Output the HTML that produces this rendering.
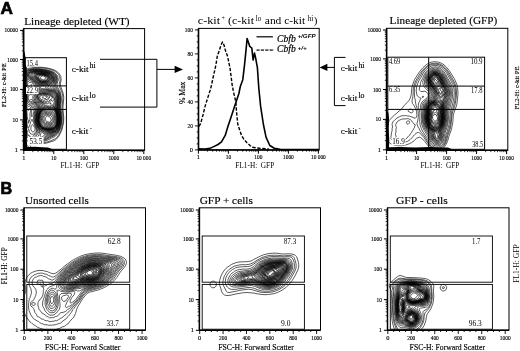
<!DOCTYPE html><html><head><meta charset="utf-8"><style>html,body{margin:0;padding:0;background:#fff;}svg{display:block}</style></head><body>
<svg width="520" height="351" viewBox="0 0 520 351">
<rect width="520" height="351" fill="#fff"/>
<clipPath id="cA1"><rect x="24.5" y="29" width="120" height="121"/></clipPath>
<g clip-path="url(#cA1)" fill="none" stroke="#000" stroke-width="0.65" stroke-linejoin="round">
<path d="M46.7,116.2 47.6,116 48.8,116.7 49.8,116.8 50.1,117.1 50.4,118.3 51,119.2 51.2,119.8 50.9,121 50.3,121.9 49.1,122.3 47.9,121.7 46.9,121.6 46.5,121.3 46.1,120.4 45.2,119.8 45.2,118.9 45.7,117.4 46.1,116.6 46.7,116.2ZM45.3,115.3 45.8,115.1 48.2,115.1 49.4,115.6 50.8,115.6 51.2,115.9 52.4,117.7 52,121.6 51.5,122.5 50.9,122.8 48.5,123.1 47.3,122.6 46.1,122.5 45.2,121.6 44.3,121 44,120.1 44,117.6 44.5,116.2 45.3,115.3ZM45.2,114.4 46.1,114.1 47.3,114.3 49.1,114.2 51.2,114.6 51.8,114.9 53,116.2 53.3,117.1 53.3,120.7 52.7,122.4 51.8,123.4 50.9,123.8 47.9,123.9 45.5,123.3 43.7,121.7 42.7,119.5 42.7,118.3 43.9,115.6 45.2,114.4ZM49.2,113.2 50,113.2 52.1,113.8 53.6,115.4 54,116.2 54.4,118.3 54.4,119.8 53.6,122.5 52.4,123.9 50.6,124.7 47.3,124.9 44.9,124 43.1,122.3 41.9,120.1 41.9,118.3 42.7,115.6 43.9,114.1 46.1,113.3 47.9,113.4 49.2,113.2ZM49.1,112.3 50.6,112.2 52.7,112.9 54.2,114.8 55.2,118 54.9,121.6 54.2,123.4 53.4,124.3 52.7,124.8 49.7,125.7 46.7,125.8 44.6,124.9 42.5,122.8 41.3,120.4 41.2,117.1 42.2,114.8 43.7,113.1 44.6,112.7 47.3,112.3 49.1,112.3ZM48.1,111.1 51.2,111.1 53.4,112 54.8,114.1 55.8,117.7 55.7,121.6 55.2,123.1 54.4,124.3 53.6,125.2 52.7,125.8 48.8,126.8 46.1,126.5 43.7,125.4 42.2,123.9 40.9,121.6 40.4,118.6 40.5,117.1 41,115.6 41.8,114.1 42.8,112.9 43.7,112.2 44.6,111.7 46.4,111.6 48.1,111.1ZM44,78.1 44.3,78.1 44,78.1ZM48.4,109.9 52.1,110.1 54.2,111.1 55.4,113.2 56.2,116.2 56.5,120.1 56.3,121.9 55.8,123.4 54.8,124.9 53.9,125.9 52.1,127 48.2,127.7 45.8,127.3 43.7,126.5 41.8,124.9 40.3,122.2 39.7,118.9 40.5,115 41.1,113.8 42.3,112.3 43.4,111.4 45.2,110.5 48.4,109.9ZM42.2,76 43.4,76 45.5,76.9 46,78.1 45.8,79 44.6,79.6 43.4,79.9 40.9,79 40.6,78.4 40.5,77.2 41,76.6 42.2,76ZM46.1,109.3 46.7,109.1 49.4,109.1 50.7,109.3 52.7,109.3 54.5,110.4 55.8,112.9 56.6,115.9 56.9,118.9 56.8,121 56.4,123.1 55.7,124.6 54.5,126.2 53.4,127 51.5,127.7 47.9,128.2 45.5,127.8 43.4,127 41.3,125.2 39.9,122.5 39.3,120.1 39.3,119.2 39.7,115.9 40.2,114.4 41.3,112.6 42.8,110.9 46.1,109.3ZM41,75.4 43.4,75.3 45.8,76.3 47.4,78.1 47.4,78.7 47.1,79.3 46.5,79.9 45.8,80.3 43.1,80.6 42.5,80.6 40.4,79.8 38.9,78 38.7,77.2 38.9,76.6 39.5,76 41,75.4ZM43.6,95.8 44.3,95.6 45.2,96.2 46.5,96.4 46.7,96.7 46.7,97.3 46.1,98.2 44.9,98.8 44.6,98.7 44,97.9 42.5,98.1 42.3,97.6 42.5,97 43.6,95.8ZM46.6,108.4 47.3,108.3 48.5,108.5 50,108.5 51.2,108.6 52.7,108.5 53.3,108.8 54.5,109.7 55.1,110.5 56,112.3 56.9,115.6 57.2,119.5 56.9,122.5 56.5,124 55.4,125.8 54.2,127.2 50.9,128.4 47.6,128.6 45.2,128.2 42.8,127.2 40.8,125.2 39.7,123.1 39,120.4 38.9,119.2 39.4,115.6 39.8,114.4 40.4,113.2 41.9,111.1 43.1,109.9 46.6,108.4ZM40.2,75.1 41.3,74.9 43.4,75 46.1,76 47.9,77.5 48,78.1 47.8,79 46.9,80.2 45.5,80.9 42.5,81.2 40.4,80.4 38.5,78.4 38,76.6 38.4,76 40.2,75.1ZM44.1,94.9 44.9,94.9 45.8,95.4 47.3,95.8 48.3,97.6 47.9,98.6 47,99.5 45.8,99.6 44,100.3 43.7,100.3 42.8,99.6 41.9,99.7 41.3,99.6 40.7,98.5 39.8,97.9 39.7,97.3 39.9,96.7 40.4,96.1 41.3,95.6 42.5,95.4 44.1,94.9ZM46.9,107.8 47.6,107.7 48.8,108.1 50.6,107.9 52.7,108 53.3,108.2 54.9,109.6 56,111.6 57.1,115.6 57.4,119.2 57.1,122.8 56.6,124.3 55.1,126.7 54.2,127.6 50.6,128.7 47.3,128.8 44.9,128.4 42.5,127.3 40.7,125.5 39.6,123.4 38.7,120.4 38.7,118.9 39.2,115.6 39.7,114.1 40.3,112.9 41.9,110.7 43.1,109.4 44.3,108.7 46.9,107.8ZM40.9,74.5 44,74.8 46.3,75.7 48.1,76.9 48.5,77.5 48.6,78.1 48.5,79 48.1,79.6 46.7,80.8 45.2,81.4 42.2,81.6 39.8,80.6 38.1,78.7 36.9,76.6 36.8,76 37.1,75.5 37.7,75.1 39.2,75 40.9,74.5ZM41.6,94.6 42.5,94.4 44.9,94.3 46.4,94.8 47.6,95 48.5,95.7 49.8,96.1 49.9,97 47.9,100 46.7,101.1 45.8,101.5 44.9,101.2 43.1,101.5 42.2,100.8 40.8,100.3 40.1,99.4 39.2,98.7 39,98.2 38.9,97 39.1,96.1 39.5,95.7 41.6,94.6ZM47.2,107.2 47.9,107.2 49.1,107.6 51.2,107.2 53,107.5 53.6,107.8 55.1,109.4 56.3,111.7 57.2,115 57.6,117.7 57.6,119.2 57.3,123.1 56.7,124.6 55.7,126.3 54.8,127.5 53.9,128.2 50.3,129.1 47.6,129.2 44.9,128.7 42.4,127.6 40.8,126.1 40.4,125.5 39.4,123.7 38.5,120.7 38.5,119.2 39,115.6 39.4,114.1 40.2,112.6 42.2,109.8 43.7,108.4 45.2,107.5 47.2,107.2ZM40.9,74.2 41.6,74.2 44.3,74.6 46.4,75.4 48.3,76.6 48.8,77.2 49.2,78.4 49.2,79 48.9,79.6 47.6,80.8 44.9,81.8 41.9,82 39.8,81 38,79.1 37.2,77.8 36.5,77 36.2,76.3 36.3,75.7 36.7,75.1 37.7,74.6 40.9,74.2ZM41.8,94 42.8,93.8 45.2,93.9 46.7,94.3 47.9,94.4 49.1,95.1 50,95.2 50.4,95.5 51,96.4 52.2,97 52.4,97.6 52.2,98.5 49.8,100 48.5,101.9 48.2,102 47.3,101.8 44.9,103 44,102.3 42.8,102.2 41.6,101.2 40.4,100.7 39.8,99.9 38.9,99.3 38.6,98.8 38,96.7 38.1,95.8 38.6,95.1 41.8,94ZM51.2,106.3 51.8,106.2 52.4,106.7 53.7,107.2 55.4,109.3 56.5,111.7 57.4,115 57.8,118 57.4,123.4 56.8,124.9 55.5,127 54.8,127.8 53.9,128.5 50,129.4 47.3,129.4 44.6,128.9 42.5,127.9 40.8,126.4 39.2,123.7 38.4,121 38.3,120.1 38.5,117.1 39,114.7 39.8,112.9 41.9,109.7 45.2,106.7 45.8,106.4 46.7,106.7 48.2,106.6 49.4,107 50,106.9 51.2,106.3ZM38.2,74.2 41.9,74 44.3,74.4 46.7,75.3 48.8,76.6 49.8,78.4 49.7,79.3 48.5,80.7 47,81.5 44.6,82.2 42.2,82.3 41.3,82.1 39.5,81.1 37.8,79.3 36,76.9 35.6,75.1 36,74.8 38.2,74.2ZM42.4,93.4 45.5,93.5 46.7,93.9 48.2,93.9 49.4,94.6 50.6,95 51.3,95.8 52.5,96.4 53.1,97.6 53.9,98.4 54,99.4 53.6,100.3 53,100.9 52.1,101.3 51.8,101.1 51.5,100.3 50.9,100.3 50.3,100.9 49.2,102.7 47,104.1 46.4,103.5 44.9,103.9 44.3,103.8 43.7,103 42.3,102.4 41.6,101.7 40.4,101.2 39.5,100.3 38.6,99.7 38.2,99.1 37.5,97 37.7,95.7 38.6,94.6 39.2,94.3 40.7,94 42.4,93.4ZM50.3,103 50.9,102.7 50.9,103.3 50.6,104 50,104.4 49.9,103.9 50.3,103ZM51.9,104.8 52.4,104.7 52.8,106 54,106.9 55.4,109 56.7,111.7 57.5,114.7 58,118 57.7,122.2 57.5,123.5 56.8,125.2 55.4,127.4 54.5,128.4 53.6,128.9 49.7,129.7 47,129.6 44.6,129.1 42.2,128 40.7,126.6 39.2,124 38.3,121.3 38.1,120.1 38.3,117.4 38.9,114.7 39.6,112.9 41.9,109.3 46.1,105 46.4,104.9 46.8,105.7 47.2,106 49.1,105.8 49.7,106.1 50.3,106 51.9,104.8ZM38.4,73.9 41.9,73.7 44.3,74.2 46.7,75 48.5,76 49.1,76.6 50.2,78.1 50.2,78.7 50.1,79.3 48.8,80.8 47.3,81.7 44.3,82.5 41.9,82.5 41.3,82.4 39.5,81.4 37.7,79.6 36.9,78.4 36,77.5 34.7,75.4 34.9,74.8 35.6,74.3 38.4,73.9ZM42.3,93.1 43.1,93 44.3,93.2 45.8,93.2 47,93.5 48.8,93.7 49.7,94.2 50.8,94.6 51.7,95.5 52.7,96 54.4,98.2 54.3,101.8 53.5,104.2 53.4,105.4 54.2,106.4 54.8,107.8 55.6,109 56.7,111.4 57.6,114.7 58.1,118.6 57.8,122.5 57.2,124.6 55.2,127.9 54.5,128.6 53.3,129.2 49.7,129.9 47,129.8 44,129.1 42.2,128.2 40.3,126.4 39.1,124.3 38.2,121.6 38,120.1 38.1,118 39,113.8 41.6,109.3 44.1,106.6 44.7,105.4 44.7,105.1 44,104.6 43.2,103.3 42.2,102.8 41.3,101.9 40.1,101.4 39.2,100.5 38.3,100 37.2,97.6 37.1,96.7 37.6,95.2 38.5,94.3 39.5,93.8 42.3,93.1ZM35.9,73.6 41.9,73.4 44.6,74 47,74.8 49.1,75.9 50.5,77.5 50.8,78.4 50.6,79.3 50,80.2 49.1,81.1 47.3,82.3 44,83 41.3,82.9 38.9,81.4 37.4,79.9 35,76.9 34,76 33.9,75.1 34.2,74.5 35,73.9 35.9,73.6ZM42.4,92.5 43.4,92.4 44.9,92.7 46.4,92.6 49.1,93.1 50,93.6 51.2,94.1 52.1,94.9 53,95.3 54.9,97.6 55.4,100.3 54.6,104.2 54.9,106.6 55.1,107.5 56.9,111.1 57.8,114.4 58.3,117.7 58.1,121.6 57.6,124.3 55.8,127.6 54.7,128.8 53,129.6 49.4,130.2 46.7,130.1 44,129.5 41.9,128.3 40.2,126.7 38.9,124.4 38,121.6 37.8,118.3 38.7,113.8 41.3,108.8 42.9,106.6 43.2,105.4 43.1,104.5 42.7,103.9 41,102.4 39.8,101.9 37.6,100.3 36.5,98.2 36.6,96.4 37.1,94.9 38,94 40.1,93 42.4,92.5ZM39.1,73 41.9,73.1 44.6,73.6 47,74.4 49.1,75.4 51,77.5 51.3,78.7 51,79.9 50.2,80.8 48.8,82 47,83 43.4,83.6 41.3,83.3 40.7,83 38.9,81.9 37.4,80.5 34.7,77.5 33.5,76.6 32.4,75.1 32.4,74.8 32.9,74.2 35.1,73.3 36.2,73.1 37.7,73.2 39.1,73ZM41.1,91.9 43.7,91.7 45.2,92 46.7,91.9 49.4,92.5 50.3,93.1 51.5,93.5 52.4,94.2 53.6,94.8 55.1,96.5 55.4,97.1 56,99.7 55.4,106.6 57.1,110.8 57.9,114.1 58.6,117.7 58.4,121.6 57.7,124.6 56,128 54.9,129.1 53,130 49.1,130.6 46.1,130.5 43.7,129.8 41.9,128.7 40.1,127 38.7,124.6 37.8,121.9 37.4,118.6 38.4,113.8 41,108.2 42.1,106.3 42.4,105.1 42.2,104.5 40.7,103 37.4,101.1 36,99.4 35.8,98.5 36,95.8 36.3,94.6 37.1,93.7 41.1,91.9ZM35.9,72.7 39.5,72.6 42.2,72.8 44.9,73.4 47.5,74.2 49.7,75.4 51.2,76.9 51.9,79 51.6,80.2 51.2,80.8 50,81.8 48.3,82.9 47,83.5 43.4,84.2 40.7,83.5 38.6,82.2 34.4,78 31.3,75.7 31.1,75.1 31.3,74.5 32.3,73.7 33.5,73.1 35.9,72.7ZM40.7,91.3 41.6,91 44.3,91.1 45.8,91.3 47,91.2 49.7,92 50.6,92.5 51.8,92.9 54.2,94.3 55.7,96.1 56.5,98.5 56.5,99.4 55.9,106.3 56.6,109 57.4,111.1 58.7,116.8 58.6,121.9 57.9,124.9 56.1,128.5 55.1,129.5 52.4,130.6 49.1,131 46.1,131 43.7,130.3 41.6,128.9 39.8,127.1 38.5,124.9 37.6,122.2 37.1,118.6 38.1,113.8 38.5,112.6 41.4,106.3 41.5,105.4 40.4,103.6 38.1,102.1 37.1,101.7 35.4,100 35.1,99.1 35,96.4 35.6,94.6 36.5,93.4 37.4,92.8 39.2,92.1 40.7,91.3ZM34.7,72.4 40.1,72.2 44.9,73 47.6,73.8 49.7,74.9 51.6,76.6 52.4,78.7 52.3,80.2 51.5,81.3 50,82.6 48.8,83.3 47,84 43.1,84.7 40.7,84 38.3,82.5 34,78.4 30.8,76.4 30.1,75.1 30,74.2 30.5,73.7 33.5,72.6 34.7,72.4ZM41.1,90.4 42.2,90.2 43.4,90.4 44.9,90.3 47.3,90.6 50,91.5 51.2,92.1 52.4,92.4 54.7,93.7 56,95.4 56.9,97.9 57,99.1 56.5,106.3 56.9,108.7 57.6,110.8 59,116.8 59,119.8 58.8,122.2 58.1,125.2 56.3,128.9 55.1,130 52.1,131.1 48.8,131.5 45.8,131.6 43.4,130.7 41.3,129.2 39.6,127.3 38.3,125.2 37.3,122.2 36.8,119.5 36.9,118 37.9,113.2 39.5,109.6 40.1,107.8 40.4,106.6 40.3,105.7 39.8,104.2 37.8,102.7 36.7,102.1 35,100.6 34,98.5 33.8,97.6 34.6,95.2 36,93.1 37.7,92 41.1,90.4ZM33.5,72.1 37.1,71.8 40.1,71.9 45.2,72.7 47.9,73.6 50,74.6 52,76.3 53,78.7 52.9,79.6 52.7,80.5 52.1,81.4 50.6,82.8 49.4,83.8 48.5,84.2 45.2,85.2 43.1,85.4 42.2,85.2 40.4,84.5 38,82.9 33.8,79 30.5,77 29.2,75.4 29,74.8 29.1,74.2 29.7,73.3 30.5,72.9 33.5,72.1ZM41.6,89.5 42.5,89.3 44,89.6 45.5,89.5 47.9,90.1 49.1,90.7 53,91.9 55.1,93.1 56.4,94.9 57.4,97.6 57.5,99.1 57,104.8 57.1,107.2 57.2,108.4 58.5,112.9 59.2,116.8 59.3,119.8 58.8,123.4 58.1,126.1 56.3,129.5 54.8,130.7 51.5,131.8 45.5,132.4 44.9,132.3 43.1,131.3 41,129.5 39.4,127.6 38.1,125.5 37,122.5 36.5,119.8 36.5,118.6 37.5,113.2 39.3,108.7 39.4,105.4 39.2,104.8 37.5,103.3 36.2,102.5 34.4,101 32.9,99.1 32.8,98.2 32.9,96.1 33.5,94.9 35.8,92.5 39.5,90.1 41.6,89.5ZM33.4,71.8 37.4,71.5 40.4,71.6 45.5,72.5 48.2,73.4 50.3,74.4 52.2,76 53.4,78.4 53.3,79.6 53,80.8 51.8,82.3 50,83.9 48.8,84.7 46.7,85.2 44.6,86.1 42.5,86 41.9,85.8 40.1,84.8 38,83.4 33.4,79.3 30.2,77.4 28.7,75.7 28.5,75.1 28.6,74.2 29.3,73 30.6,72.4 33.4,71.8ZM42.3,88.6 43.4,88.4 44.3,88.7 45.8,88.8 49.4,90.3 53,91.3 54.8,92.3 55.4,92.7 56.6,94.3 57.8,97.9 57.8,100.6 57.4,104.2 57.4,107.8 58.7,112.9 59.4,116.5 59.5,118.6 59.4,120.7 58.7,125.2 56.9,129.1 55.4,130.7 54.2,131.3 51.5,132.2 49.4,132.4 47.3,133 44.6,133 42.5,131.5 39.2,127.9 37.9,125.8 36.9,123.1 36.2,120.1 36.2,118.6 37.3,113.2 38.8,109 38.9,106.3 38.7,105.4 37.1,103.6 34.1,101.5 33.2,100.5 31.9,100 31.4,99.4 31.1,99.4 29.6,100.4 29,100.3 28.1,97.9 28.4,96.7 29.3,95.1 30,94.3 30.5,94.2 31.1,94.8 31.7,94.7 35.3,92.2 37.7,90.8 39.8,89.2 40.4,88.9 42.3,88.6ZM33.2,71.5 34.7,71.3 40.1,71.3 45.5,72.2 48.1,73 50.3,74 52.3,75.4 53.4,77.2 53.7,78.1 53.7,79.9 53.2,81.4 52.4,82.4 50,84.5 48.5,85.5 46.3,86.2 45.6,86.8 45.4,87.4 47.6,88.9 49.7,89.8 53.3,90.9 55.4,92.1 56.9,94 58,97 58.2,100 57.8,103.6 57.7,107.5 59.5,115.9 59.8,118.6 59.7,120.4 58.9,125.2 57.2,129.1 56.3,130.3 55.4,131.1 53.6,132 50.9,132.8 49,133 46.7,133.9 44,134 42.2,132.5 41.5,131.2 40.7,130.4 38.9,128 37.7,126 36.7,123.4 36,120.4 36,118.6 36.9,113.5 38.2,109.3 38.4,107.2 38.2,106 36.8,104.1 32.9,101.3 32.3,101.2 30.5,101.7 28.7,101.5 28.2,100.9 27.4,98.8 27.5,97 28.4,93.7 28.7,93.1 29.3,92.8 31.1,92.9 32.3,93.2 33.2,93 35.3,91.5 37.7,90.2 41.2,87.1 41.1,86.5 40.8,85.9 37.7,83.7 33.2,79.8 29.9,77.8 28.3,76 28.1,75.1 28.1,74.2 28.2,73.6 28.7,72.9 30.5,72 33.2,71.5ZM32.6,71.2 34.7,71 38,70.9 40.4,71 43.4,71.5 45.8,72 48.2,72.7 50.6,73.7 52.6,75.1 54.1,77.5 54.2,79.6 53.9,81.1 53.3,82.3 52.4,83.3 50.3,85.1 48,86.8 47.7,87.7 47.9,88 50,89.1 53.6,90.4 55.7,91.7 57.3,93.7 58.4,97.3 58.6,99.7 58.1,103.3 58.1,107.5 59.7,115.9 60,118.9 59.4,124.3 58.5,127 56.9,130.2 56,131.1 54.8,131.9 53,132.8 48.5,133.9 46.4,134.9 44.6,135.1 41.9,137 41.4,136.9 40.1,136 40.1,135.4 41,133 41,132.1 37.4,126.1 36.5,123.7 35.7,120.4 35.8,117.4 37.7,109 37.9,107.5 37.7,106.6 36.5,104.6 34.4,103 32.3,102.3 29.6,103.3 28.1,102.5 27.8,102.1 26.9,99.1 26.9,96.9 27.2,94.6 27.8,92.9 28.4,91.9 29.3,91.4 30.8,92 32.6,92.2 33.5,92 37.7,89.3 39,88 39.7,87.1 39.6,86.5 38.3,84.7 32.9,80.2 29.6,78.3 27.9,76.3 27.5,74.2 27.7,73.3 28.1,72.7 29.3,72 31.4,71.4 32.6,71.2ZM37.4,70.6 40.7,70.8 43.4,71.2 46.1,71.7 48.5,72.5 50.9,73.4 52.7,74.5 54.3,76.6 54.8,79.3 54.5,81.1 53.5,82.9 50.5,86.5 50.2,87.1 50.2,87.7 50.6,88.3 53.9,89.9 56,91.3 57.5,93.1 58.4,95.6 59,99.4 58.6,103 58.4,107.2 60.3,118.3 59.8,123.4 59.5,125.2 57.9,129.1 56.6,131.1 53.3,133.3 48.4,134.8 43.4,137.5 41,138.2 38.6,137.9 38.3,137.8 37.9,137.2 38,136.3 39.1,134.5 39.5,133.3 39.5,130.9 39.2,130 37.3,126.7 36.3,124.3 35.3,120.4 35.3,117.4 37.2,109 37.1,107.2 36,105.1 33.8,103.6 31.7,103.6 29,104.9 28.4,104.7 27.2,103 26.4,98.8 26.3,96.4 26.5,94.9 27.3,92.5 28.1,91 28.7,90.6 29.6,90.4 31.4,91.2 32.9,91.2 33.8,91 35.8,89.8 37.3,88.6 38.1,87.4 38.3,86.5 37.9,85.3 34.4,82 32.6,80.7 29,78.8 27.5,76.6 27,74.5 27.2,73.3 28.1,72 29.3,71.4 32,70.8 37.4,70.6ZM34.2,70.3 38.6,70.2 43.7,70.8 46.1,71.3 51,73 53.5,74.5 54.8,76.3 55.4,78.4 55.5,79.6 54.7,82 52.1,85.9 51.8,87.1 53.1,88.6 56.3,90.7 57.8,92.5 58.9,95.5 59.5,98.8 59,103 58.9,106.9 60.6,118.9 59.9,124.6 58.3,129.4 57.5,130.7 56.6,131.7 53.3,134 50,135 46.4,136.8 43.7,138.6 40.7,139.1 37.7,138.7 36.2,137.5 36,136.9 36.2,136 38.2,133.3 38.7,131.5 38.6,130.6 37.8,128.5 35.9,124.3 34.9,120.1 34.8,117.7 36.5,109.3 36.3,107.8 35.5,106 33.5,104.7 32.6,104.7 31.5,105.1 28.7,106.5 28.1,106.6 27.8,106.4 26.6,103.9 26,100 25.8,97 26,94.9 26.9,91.4 27.5,90 28.1,89.1 28.7,88.8 30.5,89.5 31.7,90.2 32.9,90.2 34.4,89.7 35.6,89.1 36.5,88.3 37.2,87.1 37.3,86.2 37,85.6 35.9,84.1 34.2,82.6 32,81.2 30.5,80.9 28.7,79.9 27.2,77.6 26.4,75.1 26.4,74.2 26.7,73 27.5,71.8 28.3,71.2 29.6,70.7 32.3,70.3 34.2,70.3ZM31.2,70 38.3,69.8 44,70.5 46.7,71.1 51.2,72.5 53.7,73.9 55.2,75.7 56,77.8 56.2,79 55.6,81.4 53.7,85.9 53.7,87.4 54,88 56.9,90.3 58.4,92.2 59.3,94.8 59.9,97.9 59.9,99.7 59.3,106.3 59.6,109.3 60.9,117.4 61,118.9 60.4,124 59,128.8 58.1,130.6 57.2,131.9 54.5,134.1 52.7,135.1 50,135.9 44.5,139 42.8,139.6 39.8,139.8 37.4,139.4 35.3,138.2 34.8,137.2 34.8,136.3 35,135.7 37.1,133.2 37.6,131.5 37.3,129.1 35.4,124.6 34.6,121.9 34.2,119.2 34.2,117.7 35.7,109.9 35.6,109 35,107.2 34.4,106.6 33.2,106.1 32.6,106 32,106.1 30.6,107.2 29,109.9 28.4,110.4 28.1,110.2 27.8,108.7 27.1,107.5 26,104.2 25.3,97.9 25.3,96.1 25.9,92.2 27.8,87.4 28.4,86.7 29.3,86.5 29.8,86.8 30.5,87.9 32.6,89 33.5,88.8 35.2,88 35.8,87.4 36,86.8 36,85.9 35.6,85 33.8,83.2 31.4,82.2 29.9,82.5 29.3,82.4 28,80.8 26.7,78.1 26,76 25.8,74.8 26,73.6 26.4,72.4 27,71.5 27.8,70.8 28.7,70.4 31.2,70ZM29.1,69.7 32.6,69.5 38.9,69.5 44.3,70.2 49.1,71.4 51.8,72.3 53.9,73.4 55.5,75.1 56.6,77.8 56.7,79 56.6,80.5 54.9,85.3 54.7,86.5 55.1,87.4 56.3,88.9 57.2,89.6 58.8,91.9 59.7,94.3 60.3,97.6 60.3,100.6 59.8,105.1 59.8,108.1 61.3,118.3 61.1,121.9 60.4,125.5 59.6,128.2 58.6,130.6 57.2,132.6 55.4,134.3 53.9,135.3 49.7,136.9 45.5,139.3 42.8,140.2 39.5,140.4 36.9,139.9 34.5,138.7 33,137.2 32.9,136.9 33.1,136.3 33.6,135.4 36.4,132.4 36.9,130.6 36.7,129.1 34.3,122.8 33.5,119.5 33.5,118.3 33.9,115.3 34.9,110.8 34.7,109.1 34.2,107.8 33.2,107.4 32,107.4 31.4,107.8 30.8,108.7 30.5,111.4 29.9,114.1 30.1,116.5 29.9,119.3 28.7,122.6 28.4,123.1 28.1,123.2 28,123.1 28.6,120.7 27.8,119.4 27.2,116.2 26.8,109.6 25.6,104.8 24.8,97.6 25.3,92.8 26.3,89.5 26.9,86.5 27.9,83.5 27.7,82.6 25.5,76 25.4,73.9 25.9,72.4 26.6,71.2 27.6,70.3 29.1,69.7ZM32.3,83.8 31.7,84 31.3,84.4 31.1,85.3 31.2,86.2 31.6,86.8 32.9,87.5 33.8,87.5 34.7,86.8 34.9,86.2 34.9,85.6 33.5,84.1 32.9,83.8 32.3,83.8ZM28.7,134.8 29,134.7 29.2,135.1 29.2,135.7 29,135.8 28.7,135.7 28.5,135.4 28.7,134.8ZM29.5,136.3 29.6,136.1 30.2,136.1 30.4,136.6 29.9,136.9 29.5,136.3ZM29.5,69.1 39.2,69.2 44.6,69.9 49.4,71.1 52.1,72 54.2,73.1 55.9,74.8 57.1,77.5 57.3,79.3 57.2,80.5 56,84.1 55.7,85.9 56.6,88 57.7,89.2 59.3,91.7 60.1,94 60.7,97.9 60.7,100.9 60.2,104.8 60.2,108.1 61.6,118.6 61.4,121.6 60.6,126.1 59.8,128.8 58.6,131.2 57.2,133.2 55.1,135.3 53.9,136 51.5,136.9 45.7,139.9 42.8,140.7 38.9,140.9 36.5,140.3 32.9,138.8 30.5,138.8 28.9,139 28.4,138.7 27.3,136.6 27.4,132.4 27.8,130.6 28.4,129.4 28.7,129.3 29,129.8 29.3,131.8 30.8,133.9 32.3,134.4 33.5,134.1 35.2,132.7 36,131.5 36.3,130.3 35.5,127.3 32,119.2 30.8,121.5 29.6,125.5 28.4,128.3 28.1,128.4 27.8,128.1 27.5,126.1 26.9,124.3 26.8,118.9 26.4,116.5 26.1,110.5 25.8,107.5 24.9,102.7 24.5,97.9 24.8,93.4 25.7,89.8 26.8,84.4 26.9,83.2 26.5,80.8 25.1,76.3 25,74.2 25.4,72.4 26.6,70.4 27.8,69.6 29.5,69.1ZM32.9,108.7 32.1,109.3 31.6,110.8 31.7,113.2 31.3,115.9 31.5,116.5 32,116.7 32.3,116.5 32.9,115.2 33.8,111.7 33.7,109.3 33.5,108.9 32.9,108.7ZM27.7,68.5 28.7,68.3 30.2,68.2 34.4,68.6 39.2,68.7 44.6,69.3 50,70.6 52.4,71.4 54.8,72.7 56.4,74.2 57.5,76 57.9,77.2 58.3,79.9 57.1,83.8 57.2,85.9 57.5,87.1 59.6,90.5 60.6,92.8 61.3,96.7 61.4,100.3 61,103.6 60.8,107.5 62,116.8 62.1,119.5 61.3,125.5 60.4,128.8 59.1,131.5 57.8,133.6 55.7,136 53.9,137.2 51.8,138 49.1,139.4 44.9,141.1 41.6,141.6 38.9,141.6 34.7,140.7 32.3,140.4 31.4,140.6 29.3,141.6 28.4,141.6 27.7,141.4 27.2,140.9 26.3,138.2 26,135.1 26.2,127.9 25.7,122.5 25.8,119.5 25.1,108.4 24.3,103.3 23.9,98.5 24,94.3 25.2,88 25.9,82.3 25.7,81.1 24.5,76.6 24.2,74.2 24.5,72.7 25.4,70.9 26.6,69.3 27.7,68.5ZM32,124.7 31.4,125.3 31.1,126.1 30.8,129.1 31.1,130 31.9,131.5 32.3,131.9 32.9,131.9 34,131.5 34.7,130.9 35,130 35,128.8 34.7,127.7 33.5,125.5 32.6,124.8 32,124.7ZM27.7,66.1 29,65.9 30.7,66.7 33.2,67.5 43.1,68 45.5,68.3 50.6,69.5 53,70.3 55.4,71.5 57.2,72.8 58.6,74.5 59.7,76.9 60,79 60,80.8 59.2,84.1 59.2,85.3 59.9,87.6 61.8,91.9 62.7,95.2 62.9,98.8 62.2,105.7 62.2,108.7 63.2,118.9 62.7,124 61.2,130 58.6,135.1 57,137.2 55.7,138.5 54.5,139.2 51.2,140.6 46.7,142.1 44,142.7 40.4,143.1 34.1,142.5 32.9,142.6 31.4,143.4 29,145.9 28.1,146.3 27.2,145.9 25.8,143.2 25,140.2 24.5,136.9 24.7,130.3 24.1,113.8 22.6,97.3 23.1,92.2 23.9,88.1 24.3,83.2 24.1,80.2 23,75.4 23,73.3 23.8,71.2 25.4,68.3 26.6,66.9 27.7,66.1ZM27.4,151.9 26.6,150.4 25.8,147.4 24.4,141.1 23.8,137.5 23.8,134.8 24,130.6 23.5,114.1 23,107.2 21.9,97.3 22.3,92.8 23.3,87 23.6,83.5 23.5,80.8 22.3,75.7 22.3,73 22.9,71.2 25,67.3 27.5,63.2 27.9,62.8 28.4,62.6 28.7,62.8 30.8,65.5 32.9,66.7 35.3,67 43.4,67.4 48.8,68.3 53.6,69.7 55.7,70.7 57.8,72.2 59.4,73.9 60.8,76.6 61.2,79.6 60.4,83.8 60.5,85.9 63.2,93.4 63.8,97.6 62.9,108.4 63.8,118 63.5,123.1 61.9,130 59.8,134.5 58.8,136.3 56.6,139 54.8,140.3 53.3,141 46.7,143 43.1,143.6 40.7,143.8 35.3,143.4 33.5,143.5 32.6,143.8 31.7,144.5 30.8,145.9 28.7,151.9"/>
</g>
<clipPath id="cA3"><rect x="387.5" y="29" width="120" height="121"/></clipPath>
<g clip-path="url(#cA3)" fill="none" stroke="#000" stroke-width="0.65" stroke-linejoin="round">
<path d="M434.1,114.4 435,114.4 436.2,114.7 437.5,117.7 437.5,118.6 437.3,119.2 435.6,121.1 434.7,121.1 434.1,120.7 432.7,118.6 432.5,118 432.6,116.8 434.1,114.4ZM435.4,112.6 436.5,112.9 437.4,113.8 438.3,116.8 438,119.5 436.5,122.1 433.5,122.3 432.9,121.7 431.7,119.3 432,116.2 433.1,112.9 433.8,112.7 434.7,112.9 435.4,112.6ZM435.9,109.3 436.2,109 436.8,109.3 436.9,109.9 436.5,110.8 436.5,111.4 437.8,113.2 438.9,116.2 438.9,117.1 438.6,118.6 438.4,120.7 437.2,122.8 436.5,123.2 434.4,123.4 433.2,122.9 432.6,122.4 431.1,119.8 431,118.9 431.4,117.4 431.6,115 432.4,112.6 433.7,111.4 434.4,110.1 435.6,109.7 435.9,109.3ZM435,107.2 435.3,107.2 436.8,108.2 437.5,109 438,110.8 438.5,112 438.6,114.1 439.4,116.8 438.8,121.3 437.4,123.5 435,124.8 434.4,124.5 432.3,122.8 430.8,120.1 430.5,118.9 431,116.8 431.1,114.7 432.2,111.7 433.2,110.5 433.2,108.7 434.2,108.1 435,107.2ZM434.4,106.3 435,106.2 435.6,106.4 437.4,107.8 438,108.4 439.2,112 439.3,114.1 439.8,116.8 439.4,121 439.1,121.9 437.7,124 435.7,125.5 435,125.6 434.1,125.4 431.8,123.4 430.4,120.4 430.1,118.6 430.7,114.4 431.3,112.6 431.5,110.5 432.1,109.6 432.6,107.9 434.4,106.3ZM434,105.7 435,105.6 436.2,105.8 438.3,107.2 438.7,107.8 439.1,109.6 439.7,111.4 440.2,114.7 440.3,118.6 439.6,121.9 438.3,124.4 437.1,125.3 436.2,126.2 433.8,126.5 433.1,126.1 431.1,123.7 429.9,120.7 429.6,117.4 430.7,112.6 430.7,109.9 432.2,107.2 434,105.7ZM434.6,79 435.3,79.2 435.9,80 437.1,80.9 437.4,82 437.1,82.9 436.2,83.1 435.3,82.6 434.8,81.1 434.2,79.9 434.2,79.3 434.6,79ZM435.7,105.1 436.5,105.1 437.1,105.3 438.6,106.6 439.2,107.5 440.1,110.5 440.3,112.6 440.7,114.7 440.8,118.9 439.9,122.5 438.6,125.1 437.6,125.8 436.5,126.9 434.1,127.2 433.5,127.1 432.8,126.7 430.8,124.1 429.4,120.7 429.1,117.1 429.9,114.7 430.3,109.6 431.2,108.1 431.6,106.9 433.5,105.3 434.1,105.1 435.7,105.1ZM435.5,77.8 435.9,77.7 436.3,77.8 438.2,80.5 438.2,83.8 438,84.1 436.2,83.8 435.3,84.1 434.7,84 434.2,83.5 433.2,81.4 433.2,80.8 433.8,78.7 434.1,78.4 435.5,77.8ZM433.5,104.8 436.8,104.6 437.4,105 439.2,106.7 440.5,110.2 440.6,112.6 441.1,115 441,119.5 440.1,122.8 439,125.2 436.8,127.4 434.7,127.7 433.8,127.6 432.9,127.2 430.8,124.6 429.2,121 428.9,117.7 428.9,116.5 429.6,114.4 429.6,112 430.1,109 430.8,107.8 431.4,106.3 433.5,104.8ZM435.4,76.9 436.2,76.9 436.8,77.3 438.7,80.2 439.3,83.5 439,84.7 438.3,85.2 435.6,85.1 434.4,84.6 433.8,84 432.3,81.4 432.3,80.5 433.4,78.1 435.4,76.9ZM435.8,104.2 436.8,104.2 437.6,104.5 439.5,106.3 439.8,106.9 440.9,110.2 440.9,112.6 441.3,115 441.4,118.9 440.4,123.1 439.2,125.7 437.1,127.8 435,128.4 432.6,127.4 430.6,124.9 428.9,121 428.5,117.4 428.7,116.2 429.3,114.4 429.2,112 429.7,108.7 430.9,106.3 431.3,105.7 432.9,104.5 435.8,104.2ZM434.8,76.3 435.9,76.3 437.1,76.9 438.9,79.6 440.2,82.9 440.1,83.8 439.2,85.6 436.8,86.6 436.2,86.5 433.8,84.7 431.8,81.4 431.8,80.2 432.9,77.5 433.2,77.2 434.8,76.3ZM434.8,103.9 436.2,103.7 438,104 440.1,106 441.3,110.2 441.3,112.6 441.6,115.6 441.6,119.5 440.5,124 439.5,125.9 437.6,127.9 437.1,128.3 435.3,129 434.7,128.9 432.2,127.6 430.3,125.2 428.7,121.3 428.2,118.3 428.4,116.3 429,114.1 428.9,111.7 429.4,107.8 430.8,105.6 432.6,104.2 433.2,103.9 434.8,103.9ZM434.2,75.7 435,75.5 437.1,76.3 437.7,76.8 439.2,79.3 440.6,82.6 440.8,83.5 440.7,84.2 439.9,86.2 439.5,86.6 438.3,86.7 437.1,87.4 436,87.1 433.3,85 431.7,82.3 431.4,80.8 431.4,79.3 432.6,76.8 434.2,75.7ZM438.1,103 438.6,102.9 439.1,103.3 440.7,105.7 440.9,107.8 441.6,110.5 442,117.1 441.9,119.2 441,123.7 439.7,126.1 437.6,128.5 435.9,129.5 435.3,129.6 432.3,128.2 431.5,127.6 429.9,125.4 428.5,121.6 427.8,118.3 428.7,114.1 428.6,111.7 428.8,108.4 429.1,107.5 430.5,105.4 432.6,103.7 435.3,103.2 437.1,103.2 438.1,103ZM434.1,75.1 434.7,75 435.3,75.1 437.4,75.9 438,76.3 439.5,78.8 440.1,80.7 441,82.6 441.3,84.9 440.7,87.4 440.4,87.8 439.2,88.2 438.9,89.3 438.6,89.5 437.3,88.3 435.4,87.4 432.9,85.4 431.2,82.3 430.9,79.6 431,78.7 432.3,76.4 434.1,75.1ZM437.6,102.4 438.3,102.2 439.2,102.4 439.8,103 441.1,105.4 442.1,112.3 442.3,118 442,120.4 441.2,124 439.9,126.4 437.7,128.9 436.2,129.9 435.3,130 431.7,128.3 429.6,125.8 428.2,121.6 427.6,118.9 427.6,118 428.3,113.8 428.4,108.7 428.8,107.2 430.5,104.9 432.3,103.5 435,102.8 436.8,102.7 437.6,102.4ZM433.8,74.8 435,74.7 438,75.7 438.5,76.3 439.9,78.7 440.4,80.5 441.2,82.3 442,85.3 442,85.9 441.1,88.3 440.1,89.2 440,89.5 440.1,90.1 441.3,90.9 441.5,91.3 441.7,93.1 441.6,93.7 439.8,93 438.9,90.9 437.9,90.1 436.8,88.7 435,87.8 432.8,85.9 431,82.9 430.5,79.6 430.7,78.4 432,76.2 433.8,74.8ZM437.4,101.8 438.3,101.6 439.8,101.9 441.3,104.8 442.1,109 442.4,112.6 442.3,115 442.6,117.7 442.2,120.7 441.4,124 440.2,126.4 438,129.2 436.5,130.2 435.6,130.4 434.4,130.1 431.4,128.5 429.5,126.1 428.2,122.2 427.4,118.9 427.3,118 428.1,113.2 428.1,109 428.6,106.9 430.2,104.8 432.2,103.3 435,102.3 436.5,102.3 437.4,101.8ZM433.7,74.5 435,74.4 438,75.3 438.7,76 440.2,78.4 442.5,85.6 441.8,88.3 442.8,90.4 442.5,92.2 442.9,94 442.8,94.6 442.2,95.2 441.6,95.1 440.4,94.3 439,93.7 438.3,91.5 437.2,90.4 436.4,89.2 434.7,88.2 432.6,86.1 430.6,82.9 430.2,79.6 430.3,78.4 432,75.8 433.7,74.5ZM439.7,100.9 440.2,100.9 440.7,101.2 441.7,104.5 442.4,108.7 442.7,112.9 442.5,115 442.8,118.2 442.3,121.3 441.6,124.1 440.3,126.7 439.2,128 438.3,129.5 436.8,130.7 435.9,130.8 434.1,130.3 431.4,128.8 429.4,126.4 428.9,125.5 428,122.5 427.1,118.6 427.9,112.6 427.8,109 428.5,106.6 430.1,104.5 432,103.1 434.7,102 436.2,101.7 437.4,100.9 438.9,101.1 439.7,100.9ZM433.7,74.2 434.7,74 435.9,74.2 437.7,74.8 438.6,75.4 440.4,78.1 441.7,81.7 442.9,85.6 442.7,88.3 443.2,89.5 444,92.8 443.1,95.3 441,96.6 440.4,96.5 439.5,95.2 438.6,94.3 437.7,92.2 436.8,91.1 435.9,89.6 434.4,88.5 432.1,85.9 430.2,82.6 429.9,79.6 430.1,78.1 431.7,75.7 433.7,74.2ZM438.9,100 439.8,99.9 441,100.6 442.2,103.6 442.1,106 442.7,108.7 442.7,110.5 442.9,112.9 442.8,115.3 443.1,118 442.5,121.6 441.6,124.9 440.4,127.1 439.3,128.5 438.6,129.8 437.1,131.4 436.8,131.5 433.8,130.7 431.4,129.1 430.5,128.3 428.7,125.8 427.8,122.8 426.9,118.6 427.7,112.3 427.4,109.3 428.2,106.6 430,104.2 432,102.8 435.9,101.2 437.1,100.2 438.9,100ZM433.6,73.9 434.7,73.8 436.2,73.9 437.7,74.5 438.7,75.1 440.6,77.8 442.1,81.4 442.4,83.2 443.1,85 443.9,88.6 444,90.7 444.7,92.8 444.6,93.4 443.4,95.9 442.2,96.7 441.3,97.9 439.8,97.6 439.2,95.9 438,94.3 437.3,92.5 435.4,89.8 434.1,88.6 431.9,86.2 430,82.9 429.5,80.2 429.9,77.8 431.5,75.4 433.6,73.9ZM438.8,97.9 439.5,97.9 440.3,99.1 441.6,100 442.7,103.3 442.5,106 443,108.7 443.2,112.9 443,115.3 443.3,118 442.8,121.6 441.7,125.2 440.7,127.3 439.5,128.8 438.9,130.1 437.4,132.2 436.8,132.4 435.3,131.6 433.5,131 431.1,129.2 430.4,128.5 428.6,126.1 427.5,123.1 426.7,118.6 427.4,112 427.1,109.3 428,106.3 429.6,104.2 431.7,102.6 433.2,102.1 435.5,100.9 436.5,99.8 437.7,99.1 438.3,98.2 438.8,97.9ZM433.5,73.6 435.9,73.5 437.7,74.2 439.1,75.1 440.7,77.4 442.3,81.1 443.3,84.4 443.7,86.5 444.5,88.6 444.6,90.4 445.2,92.5 445,93.7 444.3,95.1 443.9,96.7 443,97.6 442.9,99.7 442.6,100.9 443.1,103.6 442.9,106 443.3,108.7 443.4,112.6 443.3,115.3 443.5,118.3 443,121.9 441.9,125.4 440.9,127.6 439.8,129.1 438,132.5 437.4,133.1 436.2,133.3 435.9,133.3 435,132.3 433.2,131.3 430.8,129.3 428.6,126.7 427.2,123.1 426.5,118.3 427.2,112 426.8,109 427.8,106 429.7,103.6 431.5,102.4 433.1,101.8 435.3,100.5 436.2,99.4 437.3,98.5 438.4,96.4 437.1,93.1 435.4,90.4 431.8,86.5 430.1,83.8 429.2,81.1 429.2,79.6 429.7,77.5 431.4,75.1 433.5,73.6ZM433.5,73.3 435.9,73.1 437.1,73.5 439.2,74.8 440.7,76.9 442.5,80.8 443.7,84.1 444.1,86.2 444.9,88.3 445.7,91.6 445.4,94.3 444.8,95.5 444.4,97.3 443.7,98.5 443.6,99.4 443.5,103.6 443.3,106.3 443.7,110.8 443.5,115.3 443.7,118.3 443.3,121.9 442.1,125.5 441.1,127.9 440.1,129.3 438.8,131.8 438.2,133.6 437.4,134.5 437.8,136 437.6,137.2 437.1,137.7 436.2,138.1 435.9,138.1 435.5,137.8 435.5,135.7 434.3,132.7 430.2,129.2 428.3,126.7 427,123.1 426.3,118.3 426.9,112 426.6,108.7 427.5,105.7 429.6,103.3 431.4,102.1 432.9,101.5 435,100.2 435.9,98.9 436.7,98.2 437,97.6 437,94.3 436.6,93.1 435,90.4 431.2,86.2 429.6,83.5 428.8,80.5 428.9,79.3 429.7,76.9 431.2,74.8 432.8,73.6 433.5,73.3ZM433.1,73 435.6,72.8 436.5,72.9 439.1,74.2 440,75.1 441.4,77.2 442.9,80.8 444.1,83.8 444.6,86.2 446.3,91.3 445.9,94.9 444.1,99.7 444.4,101.8 443.9,103.9 443.8,106.3 444.1,111.1 443.9,114.7 444,119.2 443.5,121.9 442.3,126.1 441.3,128.2 440.3,129.7 439.1,132.4 439,134.8 438.2,137.8 437.4,138.6 436.2,139.1 435.3,138.7 434.7,137.8 434.2,136 434.1,133.9 433.8,133 431.7,130.8 429.9,129.4 427.9,126.7 426.7,123.4 426,118.3 426,116.5 426.5,112 426.3,108.4 427.2,105.5 429.3,103 431.1,101.8 432.6,101.2 434.7,99.8 436.2,97 436.3,94.3 436.1,93.4 434.6,90.7 430.9,86.5 429.4,83.8 428.4,80.5 428.5,79.3 429.4,76.6 431.1,74.3 433.1,73ZM435.2,72.4 436.8,72.6 439.5,74 440.1,74.5 441.6,76.6 444.6,83.8 446,88.9 446.7,90.7 446.9,91.6 446.4,95.5 445.7,97 444.9,99.7 445,102.1 444.3,104.5 444.2,108.4 444.5,111.1 444.2,113.8 444.2,120.4 442.6,126.4 441.6,128.5 440.6,130 439.8,132.4 439.6,135.1 439,136.6 438.6,138.7 437.4,139.8 436.8,140 435.6,139.6 434.6,138.7 433.4,136 433.4,133.9 433.2,133.3 431.4,131.2 429.6,129.6 427.6,127 426.4,123.4 425.9,120.1 425.7,116.5 426.1,112.9 426,107.8 426.8,105.4 427.2,104.7 429,102.8 430.8,101.5 432.6,100.6 434.2,99.4 435.5,96.4 435.6,95.5 435.4,94 434.4,91.3 430.8,87.3 429.1,84.4 428.1,80.8 428.1,79.3 429,76.5 430.8,74 432.6,72.7 435.2,72.4ZM433.3,72.1 435.9,72 437.7,72.5 440.1,73.8 441.7,76 443.5,79.9 446,86.5 446.5,88.6 447.2,90.4 447.4,92.2 447,95.5 446,97.9 445.5,102.7 444.9,104.8 444.6,108.4 444.9,111.1 444.6,113.8 444.6,120.4 442.9,126.7 440.7,130.9 440,135.7 439.3,139 438.9,139.6 438,140.4 437.1,140.8 435.6,140.2 434.4,139.2 433,136.6 432.3,133.6 430.9,131.5 429.3,130 427.3,127.3 426.2,124.3 425.5,120.1 425.3,116.2 425.7,113.5 425.6,107.8 425.7,106.6 426.7,104.5 428.4,102.7 430.5,101.2 432.1,100.3 433.7,98.8 434.9,95.5 434.8,94.3 433.8,91.6 430.5,87.7 428.6,84.7 427.7,80.8 427.8,78.7 428.7,76 430.5,73.6 432.1,72.4 433.3,72.1ZM434,71.5 436.5,71.6 438.6,72.3 440.5,73.6 442.3,76 444,79.4 446.7,86.5 447.7,89.8 448.1,93.4 447.4,96.4 446.8,98.2 446.7,100.3 445.4,106.3 445.2,108.7 445.3,111.4 445,113.8 444.9,117.4 445,120.7 443.2,127 441.3,130.9 440.5,136.6 439.8,139.3 438.9,140.6 438,141.3 437.4,141.5 436.5,141.3 435.3,140.7 434.4,140.1 433.7,139.3 432.5,136.9 431.9,134.5 430.8,132.4 427.4,128.2 426.7,127 425.7,124.6 425,120.1 424.9,115.9 425.3,113.2 425,107.5 425.2,106.3 426.6,103.9 428.4,102.1 431.7,99.9 433.2,98.3 433.6,97.3 434.1,95.2 433.8,93.4 433.2,91.9 429.9,87.7 428,84.7 427.2,82 427.3,78.4 428.3,75.7 430.1,73.3 432,71.9 434,71.5ZM433.6,70.9 435,70.8 438.3,71.4 440.7,73.1 442.5,75.4 444.5,79 446,82.3 446.5,84.1 448.4,89.2 448.8,93.1 448.8,94.3 447.5,99.4 446.7,104.5 445.9,106.9 445.8,112 445.4,117.1 445.5,120.1 445.3,121.3 443.7,127.3 441.9,131.5 441.3,135.1 441.1,137.2 440.2,139.9 439.8,140.6 438.6,141.8 437.4,142.2 436.2,142 435.3,141.6 433.8,140.5 433.2,139.6 432,137.5 431.4,135.1 430.2,132.7 426.8,128.2 425.5,125.5 425.1,124.3 424.6,120.1 424.5,115.9 424.7,112.9 424.4,107.5 424.7,106 426.3,103.3 428.1,101.7 431.6,99.1 432.7,97.6 433.1,96.4 432.9,93.4 432.7,92.5 430.9,89.8 429.6,88.3 427.9,85.9 426.6,82.9 426.4,81.7 426.8,77.8 427.8,75.4 429.6,73 431.7,71.4 433.6,70.9ZM433.2,70.3 434.7,70 438,70.5 438.9,70.9 440.7,72.3 441.7,73.3 443.2,75.4 446.7,82 447.9,85 448.3,86.8 449,88.6 449.6,91.9 449.4,95.2 448.7,98.5 448.1,100.3 447.9,102.7 446.6,107.2 446.4,113.2 446,115.9 446,120.1 445.8,121.9 444.1,127.9 442.4,132.4 441.5,138.4 440.5,140.8 440.1,141.4 438.9,142.5 437.7,142.9 436.2,142.9 435.3,142.6 433.8,141.4 432.9,140.4 431.4,137.8 430.6,135.4 429.6,133 426.5,128.8 425,125.8 424.5,124.3 424.1,121.9 423.9,117.7 424,111.7 423.6,108.4 424,105.7 425.7,102.8 431.1,98.5 431.9,97 432.2,96.1 432,94 431.7,92.8 430.3,90.4 429,88.9 427,86.2 425.8,83.5 425.6,81.4 426.1,77.8 426.4,76.9 427.4,74.8 429.3,72.4 431.3,70.9 433.2,70.3ZM433.4,69.4 435.9,69.2 437.7,69.6 439.5,70.4 441.4,71.8 442.2,72.6 443.9,75.1 448.6,84.4 449.8,87.7 450.5,91.9 450.2,96.4 449,100.9 448.8,103.3 447.4,108.1 447,113.8 446.6,116.2 446.7,118.6 446.4,122.2 444.6,128.8 443,133 442.7,135.7 442.1,138.7 441,141.6 439.8,142.9 438.9,143.5 436.8,143.8 435.6,143.6 434.8,143.2 432.4,140.8 431,138.4 428.7,133.4 425.5,128.5 424.2,125.5 423.3,121.9 423.2,111.1 422.8,108.1 423.4,104.8 423.8,103.9 425.1,102.2 430.2,98 430.9,96.4 431.2,94.9 431,93.7 429.8,91.3 426.3,86.9 424.6,84.1 424.4,82.9 424.7,79.9 425.9,76 427,73.9 428.7,71.8 430.8,70.2 433.4,69.4ZM434.5,68.2 435.6,68 436.5,68.1 439.5,69.2 441.9,71 442.9,72.1 444.6,74.5 449.4,83.5 450.8,87.4 451.4,91.3 451.4,94 451.1,97.3 449.6,104.5 448.1,109.6 447.5,116.5 447.5,119.5 447.2,122.8 445.3,129.4 443.9,133.3 442.8,139.6 441.6,142.3 440.4,143.6 439.2,144.5 437.1,144.9 435.6,144.6 434.2,144.1 432,142 430.3,139 428,134.2 425.1,129.7 423.5,126.4 422.5,122.2 422.4,113.8 421.7,106.9 421.9,105.7 422.8,103.3 424.3,101.5 427.5,99.1 429.3,97.3 429.7,96.4 429.9,95.2 429.7,94 428.7,91.7 426.5,89.2 425.2,88 423.3,85.3 422.7,82.3 422.9,81.1 424.5,77.3 425.2,75.1 426.4,73 428.1,71.1 430.5,69.3 432.9,68.4 434.5,68.2ZM433.8,67 435.6,66.8 438.3,67.4 440.7,68.6 443.6,71.2 445.3,73.6 447.6,78.1 450.4,82.9 451.7,86.2 452.7,90.7 452.6,94.6 452.1,99.1 451,103.6 450.6,105.7 449.2,110.5 448.7,114.4 448.2,121.9 446.9,127.6 445.2,132.6 443.6,140.2 442.3,142.9 441,144.4 439.8,145.3 437.4,146.1 435.6,145.9 433.8,145.3 432.9,144.6 431.2,142.6 427.1,135.1 424.3,130.6 422.8,127.3 421.7,124.3 421.3,119.8 421.5,117.1 421.4,112.9 420.4,107.5 420.4,105.4 422,102.1 423.6,100.4 424.8,99.7 427,97.9 428.1,96.2 428.3,95.2 427.7,93.4 426.6,92.2 424.8,91.2 420.9,91.6 419.7,90.4 419.2,89.2 419.8,86.5 420.4,85 420.4,83.2 420.6,82.4 421.7,79.9 422.6,78.4 424.5,73.9 425.8,72.1 427.4,70.3 429.3,68.8 432,67.4 433.8,67ZM433.2,65.5 435,65.3 437.4,65.6 438.6,66 441.9,67.7 444.7,70.3 446.5,72.7 451.4,81.7 452.8,84.7 453.9,88.3 454.3,92.5 453.9,97.3 453.4,100.6 451.8,107.2 450.3,112 449.5,121.6 448.9,125.2 447.1,131.5 446.1,134.2 445.2,138.7 444.5,141.1 443,144.1 441.2,145.9 438.6,147.2 436.5,147.5 435,147.3 433.2,146.4 432.1,145.6 430.5,143.8 427.5,138.6 422.9,131.8 421.3,128.5 420.2,125.2 419.7,121.9 419.9,113.8 419.3,110.2 418.4,107.5 418.2,105.7 418.7,103 419.7,101.2 420.2,99.7 420.9,98.8 420.9,98.2 419.4,97.6 417.3,95.9 417,95.2 416.2,91 416.6,86.8 417.8,83.2 419,80.5 421.3,76.9 423.3,73 425.1,70.7 426.9,68.8 428.4,67.6 431.1,66.2 433.2,65.5ZM422.4,96.4 422.1,97 422.4,97.5 423,97.5 423.6,97 423.6,96.4 423,96.2 422.4,96.4ZM407.6,121 408.3,120.9 408.9,121 409.4,121.3 409.6,121.9 409.6,122.5 409.2,123.3 408.3,124.2 407.7,124.2 407.1,123.9 406.6,123.1 406.5,122.2 406.7,121.6 407.6,121ZM432.8,64.3 436.2,64.2 439.8,65.1 442.6,66.7 445.5,69.4 447.5,72.1 452.4,80.8 453.9,83.8 455,87.4 455.5,91.6 455.5,95.2 454.6,101.8 453,108.1 452,110.5 451.4,112.9 450.8,119.5 450.3,124 448.9,129.7 447.2,134.5 445.2,142 444.7,143.2 443.6,145 441.6,146.9 439.2,148.2 436.8,148.6 435,148.4 433.2,147.6 431.7,146.7 430.1,145 429.2,143.8 425.1,137.2 421.5,132.7 419.7,130 419.1,128.5 418,127 416.9,123.4 417.7,121 418.2,117.7 418.4,115 418.3,113.2 418,111.1 416.2,105.7 415.4,101.8 415.3,100 414.6,97.3 414.4,92.8 414.5,88.3 415.5,84.7 416.7,81.4 420.3,75.8 422.3,72.1 424.2,69.8 426.1,67.9 428.1,66.3 430.5,65 432.8,64.3ZM404,118.9 405.9,118.9 407.7,118.6 408.6,118.8 410.4,119.6 411.3,120.4 412.2,121.9 413.3,122.8 414,124.2 415.4,124.9 414.9,125.7 414.3,127.9 413.6,128.8 413,130.3 412.1,131.2 411.5,132.7 410.6,133.6 409.8,135.1 408.9,135.7 408,136.9 407.1,137.6 406.2,138.9 403.8,140 402,139.8 400.2,140.3 398.1,140 396.3,139.3 395.7,138.4 395.7,137.6 396.1,136.3 395.5,134.8 395.5,133.6 396,131.8 395.9,129.4 396.4,127.6 395.7,125.3 395.7,124.5 397.1,121.9 399,120.4 401.7,119.2 404,118.9ZM432.1,63.4 435.9,63.2 439.8,64 443.1,65.9 445.5,68 448.1,71.2 451.5,76.9 454.8,83.2 456,86.8 456.5,91.3 456.5,95.2 455.4,103.3 454.6,106.6 452.9,111.1 452.1,114.1 451.2,123.4 450.4,127.9 449.6,130.6 447.9,135.2 446.5,140.5 445.6,143.2 443.5,146.2 442.2,147.5 440.1,148.8 438.6,149.3 437.1,149.5 435.3,149.3 433.8,148.9 431.7,147.7 430.5,146.6 428.8,144.7 423.9,137.5 421.8,135.1 419.7,133.1 419.1,132.6 418.5,132.5 417,132.6 416.4,133 415.7,133.9 414.6,134.7 413.8,135.7 412.8,136.5 411.9,137.8 410.1,139.6 407.7,141.3 402.6,142.9 400.2,143.3 396.6,142.9 395.7,142.6 392.9,141.1 391.3,139.3 391,138.7 391,136.6 391.5,132.7 392.1,130.7 392.1,128.8 392.5,127 392.1,124.3 392.3,123.1 393.3,121.4 395.2,119.5 397,118 399.6,116.6 402,115.7 403.8,115.8 405.6,115.5 407.4,116 409.2,116 414.9,118.2 415.5,118.2 416,117.7 416.9,115.6 416.7,111.9 415.5,108.5 414,105.4 412.6,103.6 412,101.8 412.3,99.1 412.9,96.7 413.2,92.8 413.1,90.1 413.8,86.2 414.6,83.5 415.9,80.5 420.1,73.6 422,70.9 425.4,67.3 427.5,65.6 429.9,64.2 432.1,63.4ZM432.6,61.9 434.4,61.7 437.7,62 441,63 444,64.8 446.6,67.3 449.3,70.6 454.3,78.7 457.1,85 457.6,87.4 458,94.3 456.8,104.8 453.6,113.8 453.3,115.6 452.8,122.2 451.5,129.1 448.8,136.7 447.5,141.4 446.3,144.1 444.3,147 442.8,148.5 441,149.7 439.8,150.2 437.7,150.8 434.7,150.5 432.6,149.7 430.2,148 428.1,145.8 424.8,141.5 422.7,139.1 420.6,137.6 419.4,137.2 416.8,138.1 415.1,139.6 414,140.9 411.9,142.4 409.5,143.7 404.4,145.4 401.7,145.7 398.1,145.7 394.2,145.1 390.8,143.8 387.9,141.4 386.5,139.3 386.1,138.1 386.5,135.1 387.4,132.7 387.7,130.3 387.6,127.6 388.2,125.5 388.4,123.1 389.2,120.4 394.7,114.7 396.1,113.8 399,111.1 400.2,110.3 401.7,108.9 404.2,105.4 407.4,102.4 409.1,100.3 410.3,97.9 411.2,94.9 411.8,88 412.5,85 414.7,79.3 419.4,71.9 422.7,67.9 426.3,64.6 429.3,62.9 431.4,62.1 432.6,61.9ZM409.2,109.3 408.6,109.8 408.2,110.5 408.1,111.1 408.3,111.4 411.3,112.9 411.9,112.8 412.5,112.4 413,111.7 413.1,111.1 412.8,110.5 412.2,109.8 411,109.1 409.2,109.3Z"/>
</g>
<clipPath id="cB1"><rect x="24.8" y="208" width="120" height="122"/></clipPath>
<g clip-path="url(#cB1)" fill="none" stroke="#000" stroke-width="0.65" stroke-linejoin="round">
<path d="M88.6,270.8 89.1,270.6 91.2,270.6 92.4,272.7 93.2,272.9 93.2,273.8 93,273.9 92.4,273.7 91.8,273.8 90.6,275.1 88.2,274.5 86.8,273.2 86.5,272.6 86.7,272.2 87.9,271.8 88.6,270.8ZM93.2,271.4 93.6,271.2 94,271.7 93.9,272.1 93.3,272.6 93.2,271.4ZM90.8,269.6 91.3,269.6 92.4,270.5 93.3,270.4 93.9,270.5 94.6,271.4 94.8,272.3 94.1,273.2 93.6,274.6 93,274.8 92.1,274.5 90.9,275.7 89.4,275.3 88.2,275.3 87.3,275.1 86.4,275.2 85.9,275 85.5,274.4 85.4,273.8 86.1,271.6 86.4,271.4 87.6,271.3 88.5,270.2 90,270.1 90.8,269.6ZM90.5,269 91.2,268.9 92.4,269.7 94.2,269.6 95.4,269.9 95.7,270.2 95.7,272.9 94.6,273.8 93.9,275 90.9,276.2 89.4,275.9 88.2,276.2 86.1,275.8 84.6,274.3 83.7,274.1 83.4,273.2 83.7,272.6 84.9,272.7 85.6,271.4 86.1,270.9 87.3,270.6 88.5,269.7 89.7,269.5 90.5,269ZM90,268.7 91.2,268.5 92.7,269.2 93.6,268.8 94.2,268.7 95.7,269.2 96.3,269.9 96.6,270.8 96.2,273.2 94.3,275.3 92.7,276.3 90.6,276.7 89.4,276.6 88.5,276.7 85.8,276.3 84.6,275.3 83.4,275.8 82.7,275.3 82.3,274.7 82.3,274.4 83.1,272.3 83.7,271.9 84.6,271.7 85.5,270.8 86.7,270.1 90,268.7ZM90.7,268.1 91.5,268.1 92.4,268.6 93.9,268.1 95.7,268.5 96.3,269 97.2,270.3 98.1,270.9 98.4,271.7 98.2,272.3 97.8,272.5 97.2,272.5 96.6,273.8 95.1,275.3 93,276.8 91.8,276.9 90.3,277.3 88.5,277.1 87,276.8 85.8,277 84.6,276.3 83.1,276.3 81.7,275.3 81.4,274.7 81.4,274.1 82.5,272.3 83,271.7 85.5,270.4 86.7,269.5 88.2,269 89.4,268.4 90.7,268.1ZM90.3,267.8 91.2,267.6 92.4,267.9 93.9,267.7 96,267.9 97.2,269.1 98.4,269.1 98.8,269.9 98.8,272 98.7,272.6 97.7,274.1 96.3,274.7 95.4,275.8 94.2,276.3 93.3,277.2 91.8,277.3 90.6,277.8 87.3,277.3 85.8,277.6 84.6,277 83.1,276.8 81.3,276.3 81,275 80.9,273.8 82.3,271.7 84,270.4 85.5,269.9 86.6,269 87.9,268.8 89.1,268 90.3,267.8ZM90.8,267.2 91.5,267 92.7,267.4 96,267.1 97.2,267.9 98.7,268.5 99.3,269.3 99.5,270.2 99.2,272.6 98.1,274.7 97.8,275 96.6,275.2 95.7,276.2 94.5,276.7 93.3,277.7 91.8,277.8 90.6,278.3 87.6,277.9 85.8,278.1 84.3,277.4 81.6,277.5 81,277.3 80.5,276.5 80.3,275.9 80.4,273.8 80.6,273.2 81.8,271.4 82.9,270.8 83.8,269.9 85.2,269.6 86.4,268.6 87.6,268.4 88.8,267.7 90.8,267.2ZM91,266.6 91.5,266.5 93,266.9 96,266.6 97.5,267.5 98.7,267.8 99.3,268.4 100,269.6 100.2,270.5 99.6,272.9 98.1,275.4 96.9,275.8 96,276.6 94.7,277.1 93.4,278 90.6,278.7 89.1,278.4 85.8,278.5 84.3,277.9 83.1,278.2 81.3,278.1 80.7,277.7 79.8,276.7 78.6,276.5 78.2,275.6 78.3,274.7 79.5,273.8 81.6,271 82.5,270.5 83.7,269.5 85.2,269.1 86.4,268.2 87.6,267.9 88.8,267.3 90,267.1 91,266.6ZM90.8,266.3 91.5,266.2 93,266.6 94.5,266.3 96,266.2 97.5,267 98.7,267.2 99.7,268.1 100.5,269.4 100.7,270.8 100,273.2 98.6,275.3 98.1,275.8 93.6,278.3 90.6,279.1 89.1,278.8 85.8,278.9 84.3,278.4 83.1,278.7 81.3,278.5 80.7,278.3 79.8,277.6 79.5,277.6 78.9,278.2 78.3,278.3 76.2,277.7 76.1,276.8 76.2,276.2 77.4,275.6 77.8,274.4 79.2,272.6 80.4,272 81.3,270.8 83.4,269.3 84.9,268.8 86.1,268 90.8,266.3ZM90.8,266 91.5,265.9 93,266.2 94.2,265.9 96,265.9 97.5,266.6 99,266.8 100.6,268.1 101.1,270.2 101,271.4 100.2,273.5 99.4,274.4 98.7,275.6 98.1,276.2 97.2,276.8 93.3,278.7 90.9,279.3 89.1,279.1 85.8,279.2 84.3,278.9 81,279 79.8,278.5 78.6,278.9 77.4,278.8 76.2,279.7 74.7,279.3 73.8,279.8 73.6,279.5 73.6,277.4 74.1,277 75.1,277.1 75.6,275.9 76.8,275 78.9,272.2 80.1,271.7 81.1,270.5 83.4,269 86.4,267.5 90.8,266ZM90.8,265.7 91.5,265.6 92.7,265.9 94.2,265.6 96.3,265.7 97.5,266.1 99,266.3 100.5,267.2 101.1,267.8 101.4,268.7 101.5,271.1 100.7,273.5 99,275.7 97.8,276.9 93,279.1 90.6,279.6 87,279.4 85.5,279.6 84.3,279.3 82.2,279.3 81,279.6 79.5,279.2 77.7,279.7 76.2,280.3 75,280.4 74.1,281 73.5,280.9 73,280.4 72.3,279.2 72.8,278.3 73.2,276.9 76.2,274.7 76.9,273.8 78,272.9 78.8,271.7 80.1,271.1 81,270.2 83.4,268.7 87,266.9 90.8,265.7ZM90.7,265.4 91.5,265.3 92.7,265.5 93.9,265.2 96,265.2 98.7,265.7 100.8,266.8 101.7,267.8 102.1,269 101.8,271.7 100.8,274.1 97.8,277.4 96.3,277.9 95.1,278.6 92.7,279.6 90.3,280 87,279.8 85.5,280.1 84.3,279.8 82.5,279.7 81,280.1 79.5,279.7 75.6,281.2 73.8,281.6 73.2,281.5 72,280.6 71.1,281 70.6,280.7 70.7,278.6 71,278 72.1,277.4 74.3,275 75.7,274.4 76.5,273.4 77.7,272.6 78.6,271.4 82.2,268.9 84.3,267.8 87,266.5 90.7,265.4ZM90.8,265.1 96.3,264.9 98.7,265.4 101.1,266.5 102.6,268.4 102.9,269.6 102.3,272.1 101.7,272.9 101.1,274.4 97.8,277.8 96.3,278.3 95.4,278.9 94.2,279.2 92.7,279.9 90,280.4 87,280.1 85.5,280.5 84,280.1 82.5,280.1 81,280.5 79.5,280.2 78.3,280.9 76.8,281.2 75.6,281.9 73.5,282.3 72.3,281.8 70.8,281.9 69.5,281 69.2,280.4 69.2,279.8 69.9,279 70.5,277.7 72,276.3 73.1,275.6 74.1,274.4 75.3,274.1 75.6,273.9 76.2,273.1 77.4,272.3 78.1,271.4 79.5,270.2 82.2,268.5 84.3,267.4 85.8,266.9 86.7,266.3 90.8,265.1ZM95.6,264.5 96.3,264.4 98.7,265 101.4,265.9 103,267.2 103.5,269 103.5,269.9 102.8,272.6 101.4,274.7 100.2,276.1 97.8,278.2 92.7,280.3 91.5,280.4 90,280.8 87.3,280.5 85.8,280.9 84,280.5 81,280.9 79.8,280.8 78.3,281.5 77.1,281.7 75.9,282.4 74.7,282.5 73.5,283 72,282.6 69.3,282.3 68.8,281.9 68.5,280.4 68.6,279.5 69.9,277.5 71.7,275.7 72.6,275.3 73.8,274 75,273.5 77,272 79.5,269.6 80.7,269.2 81.6,268.4 83.1,267.8 84,267.1 85.5,266.7 86.7,265.8 91.5,264.6 95.6,264.5ZM91.3,264.2 96.3,264 99.9,265 101.1,265.1 103.5,266.3 104,267.5 104,269.9 103.3,272.6 102.1,274.7 100.2,276.7 99.3,277.3 98.1,278.4 95.7,279.5 93,280.6 91.5,280.7 90.3,281.1 87.3,281 85.5,281.3 84,281 79.8,281.5 77.4,282.2 76.2,282.8 74.7,283.1 73.5,283.6 72,283.2 69.3,283.4 68.4,282.8 67.9,281.6 68.1,279.2 69.3,277.2 70.5,276.3 71.3,275.3 72.6,274.6 73.8,273.4 76.5,271.8 79.2,269.3 80.4,268.8 81.6,267.9 82.8,267.5 84,266.7 85.4,266.3 86.7,265.4 91.3,264.2ZM96,263.6 101.1,264.6 103.2,265.3 104,266 105,267.8 104.5,270.8 103.6,273.2 102.6,275 100.5,277.1 99.4,277.7 98.1,278.8 93.3,280.8 91.8,281.1 90.6,281.5 87.3,281.5 85.5,281.7 84.3,281.6 81.9,281.7 79.2,282.2 73.5,284.2 72,283.9 70.5,284.1 68.7,283.9 66.8,281.6 66.6,280.7 67.4,278.9 69,276.7 74.4,272.3 75.9,271.6 78,270 79.2,268.8 80.4,268.3 81.3,267.6 83.7,266.4 85.2,265.9 86.7,265 91.5,263.7 93.3,263.8 96,263.6ZM91.4,263.3 93,263.4 96,263.2 97.8,263.6 99,263.6 103.5,264.6 104.7,265.5 105.8,266 106,266.6 106,268.4 105.2,271.1 102.9,275.4 100.8,277.4 97.2,279.7 93,281.3 90.3,281.9 87,282 85.2,282.2 81.9,282.2 80.7,282.6 79.2,282.7 77.7,283.4 73.5,284.7 68.7,284.6 68.1,284.3 66.3,282.7 66,281.9 65.8,280.7 66.7,278.3 67.8,277.5 68.8,276.2 73.4,272.6 74.2,271.7 75.6,271.1 76.7,270.2 77.7,269.7 78.9,268.5 81.3,267.2 86.7,264.6 91.4,263.3ZM90.9,263 94.5,262.8 98.7,263 102,263.7 103.5,263.8 106.1,264.8 106.7,265.4 107.1,266.6 106.6,269 105.7,271.7 103.2,275.9 101.4,277.6 97.5,280.1 93,281.7 90.3,282.3 86.7,282.5 85.2,282.9 82.2,282.8 80.7,283.2 79.2,283.3 78,284 76.8,284.2 75.6,284.7 73.2,285.3 68.4,285.5 65.7,283.7 65.2,282.5 65.2,280.4 66.2,278 66.6,277.4 71.7,273 72.9,272.3 74.1,271.1 75.3,270.6 77.4,269.2 78.6,268.2 80.1,267.2 87,264 90.9,263ZM91.4,262.4 96.6,262.3 98.7,262.5 100.5,263 103.5,263.1 105,263.7 106.5,263.9 107.8,264.8 108.1,266 108.1,267.2 106.2,272.2 105.1,274.4 102,277.9 97.5,280.7 92.7,282.3 89.7,282.9 86.7,283 85.2,283.5 83.1,283.4 79.8,283.9 78.3,284.5 77.1,284.8 75.6,285.3 74.4,285.5 73.2,286 71.7,286 68.4,286.2 66,285 65.3,284.3 64.4,283.1 64.2,282.2 64.8,279.5 66.1,277.1 69.5,274.1 70.5,273.4 71.7,272.3 72.7,271.7 73.8,270.7 77.1,268.7 79.8,266.7 85.8,264.1 87,263.4 91.4,262.4ZM91.8,261.8 96.6,261.6 100.2,262.3 103.5,262.4 105,262.9 106.2,262.8 108,263.3 109,264.2 109.4,265.1 109.4,265.7 108.9,267.8 106.9,272.6 105.6,274.9 102.3,278.4 100.3,279.8 99,280.3 97.8,281.1 92.7,282.9 91.2,283.1 89.7,283.5 87,283.6 85.5,284.1 81.6,284.3 79.5,284.8 76.2,285.8 74.7,286.1 73.2,286.7 71.7,286.7 70.5,286.9 68.4,287 65.7,286 64.2,284.8 63.9,284.3 63.5,283.1 63.5,281.3 64.3,278.9 65.4,277.1 66.9,275.3 68.1,274.6 69.2,273.5 74.7,269.2 78,267.3 79.5,266.1 84.3,263.9 85.5,263.6 87,262.8 91.8,261.8ZM91.6,261.2 96.6,261 100.2,261.6 106.2,262 108.3,262.4 109.8,263.2 111,263.4 111.5,263.9 111.6,264.8 111.2,266.6 109,269.6 107.6,273.2 106.3,275.3 105,276.8 103.8,277.7 102.7,278.9 100.5,280.4 97.8,281.7 93,283.4 91.5,283.6 90,284.1 86.7,284.5 85.2,284.9 81.6,285.1 73.2,287.4 68.1,287.9 65.7,287.1 63.6,285.7 62.8,284.6 62.6,283.7 62.7,281 63.7,278.6 64.8,276.8 66.6,274.7 73.3,269.6 74.4,268.6 78,266.6 79.2,265.6 84,263.4 85.5,262.9 86.7,262.2 91.6,261.2ZM91.6,260.6 96.3,260.4 102,261.1 103.8,261 105.3,261.3 108.3,261.5 111.3,262.4 112.8,263.5 113.3,264.5 113.2,265.4 109.8,270.4 108.1,273.8 107.1,275.5 105.3,277.5 101.4,280.6 96.9,282.6 93,284 86.4,285.2 84.9,285.7 81.9,285.9 80.7,286.3 79.2,286.4 78,287 76.5,287.1 72.9,288.1 68.4,288.7 65.7,288 63.6,287 63,286.5 61.9,284.9 61.4,283.7 61.4,282.8 61.8,280.7 64.3,276.5 66.4,274.1 74.4,267.9 79.8,264.6 87,261.6 91.6,260.6ZM51.5,296.6 52.5,296.6 53.1,296.9 53.5,297.8 53.8,299 53.4,302 52.2,303.5 51.9,303.5 51,303.2 50.7,302.8 50.2,299.6 51,296.9 51.5,296.6ZM92,260 96.3,259.9 99,260 100.8,260.4 103.8,260.4 105.3,260.8 108.3,260.8 112.6,261.8 113.4,262.2 113.9,262.7 114.4,263.9 114.4,265.1 114.1,266 112.8,267.8 111.7,269 107.7,275.9 105.6,278.1 102,280.9 100.2,281.9 94.5,284.1 87.9,285.7 86.4,285.8 84.9,286.5 79.5,287.3 78,287.7 74.1,288.3 72.6,288.9 68.4,289.4 65.7,289 63.3,288.1 61.5,286.7 60.8,285.5 60.5,283.1 61.2,280.1 62.4,278 64,275.9 67.2,272.6 74.7,267 79.8,263.9 87.3,260.8 92,260ZM51.3,294.2 52.8,294.3 53.8,295.1 54.6,296.9 55.1,299.9 54.7,302.9 53.6,305 52.5,305.9 51.3,306.2 50.7,306 50.1,305.3 48.8,300.8 49,298.1 50,295.7 51.3,294.2ZM92.1,259.4 94.2,259.2 96.9,259.3 99,259.4 100.5,259.7 103.8,259.8 105.3,260.1 108.3,260.2 109.8,260.5 111.3,260.5 113.5,261.2 115.6,262.7 116,263.6 116.1,264.4 115.3,266.6 112.4,269.6 111.3,271.1 109.5,274.7 108,276.8 106.5,278.3 102,281.6 100.2,282.6 98.7,283.1 97.5,283.7 92.7,285.2 86.7,286.5 83.1,287.9 81.3,288.1 80.4,288.5 78.9,288.5 77.4,288.9 74.4,289 72.9,289.6 67.8,290.2 65.4,290 63.3,289.2 61.1,287.9 60.5,287 59.5,284.9 59.5,284 59.8,281.6 60.7,279.5 61.9,277.4 63.7,275.3 66.9,272 75,266 78.3,264.2 79.8,263.2 82.2,262.1 87.3,260.1 92.1,259.4ZM51.3,292.4 52.5,292.2 53.4,292.4 55,294.5 55.9,297.2 56.1,300.8 55.8,303.8 55.2,306.2 54.9,306.8 53.1,308.2 50.7,308.4 50,308 48.9,305.7 47.9,304.1 47.6,303.2 47.5,300.5 47.9,297.5 48.7,295.1 50.3,293 51.3,292.4ZM94.2,258.5 96.9,258.5 111.3,259.7 113.7,260.2 115.5,261 116.3,261.5 117,262.4 117.5,263.9 117.4,264.8 117.2,265.4 115.9,267.5 113.5,269.9 111.9,271.9 110.1,275.4 107.1,278.9 105,280.6 100.2,283.4 95.1,285.3 92.7,286 90.9,286.2 86.4,287.6 79.5,290.9 77.7,291.1 76.5,290.5 74.4,290.2 68.1,291.3 65.4,291 63.3,290.6 61.2,289.9 60.6,289.5 58.9,287.6 58.4,286.4 58.2,284.3 58.9,281 61.6,276.5 64.5,273.3 66.6,271.4 74.7,265.3 79.5,262.5 81.6,261.5 87.3,259.4 94.2,258.5ZM51,290.3 51.6,290.1 53.4,290.4 55.6,292.4 56.5,294.8 57.1,298.7 57.2,301.7 57,304.4 56.3,307.1 54.9,309.8 52.5,310.9 50.1,310.6 49.5,310.1 47.1,306.5 46.2,302.6 46.5,299.3 47.9,294.2 49,292.1 51,290.3ZM94,257.9 96.6,257.8 99.3,258 102.6,258.4 104.1,258.4 107.1,258.8 108.9,258.8 113.4,259.4 115.8,260.2 118.2,261.8 118.7,262.7 118.8,263.6 118.2,265.8 115.2,269.5 113.9,270.8 109.5,277.5 107.5,279.5 105.6,281 100.8,283.8 93,286.5 91.2,286.8 88.5,287.6 86.1,288.4 83.7,289.8 81.3,291.8 79.5,294.5 78.6,295.4 76.8,298.2 75,300.4 72.6,302.2 71.4,302.8 70.5,302.8 70.1,302.6 70,302.3 70.4,300.2 71.8,297.5 74.1,294.8 74.8,292.7 74.7,292.1 74.4,291.6 73.8,291.4 72.6,291.7 69.9,291.8 68.1,292.1 66.6,292 65.4,292.1 62.1,291.4 60.9,291.4 59.4,290.4 57.3,290 57,290.6 57.4,293.9 57.9,296.3 58.2,299.3 58.3,302.3 58,305.6 57.4,308 56.2,310.1 54.8,311.9 54.3,312.3 51.9,312.8 50.1,312.6 49.5,312.3 47.7,310.5 47,309.5 45.6,306.4 45.1,304.4 45.1,301.4 45.5,298.7 46.1,296 47,293.6 48,291.4 49.2,289.8 51.9,288.2 53.4,288.3 54.9,289.2 55.6,289.1 56.6,287.6 56.7,285.8 57.3,282.8 58.1,280.7 59.4,278.4 62.2,274.7 64.2,272.7 72,266.4 76.2,263.7 79.2,262 83.6,260 87,258.9 89.1,258.4 94,257.9ZM91.9,257.3 94.8,257 99.3,257.1 102.3,257.6 104.1,257.6 105.9,257.9 111.6,258.3 113.7,258.6 115.8,259.2 118.4,260.3 119.2,260.9 119.8,261.8 120.1,262.7 120.2,263.9 119.9,264.8 118.9,266.6 116.4,269.3 115,271.1 110.1,278.2 108.1,280.1 106.2,281.6 102,284.1 99.9,285.1 93.6,287.1 89.1,288.2 86.1,289.4 84,290.9 82.5,292.3 81,294.2 79.1,297.2 77.4,299.4 74.4,302.6 73.2,303.5 72,304.7 69.9,306.1 68.4,306.4 66.9,307.6 66.3,307.6 65.8,307.1 65.4,306.2 65.4,305.3 66.1,304.4 66.6,302.9 67.7,300.8 68.6,299.9 70.4,296.6 71.1,295.7 71.4,294.8 71.4,293.9 71.1,293.5 69.3,293.2 65.4,293.5 62.1,293.4 61.1,293.6 59.7,295.1 59.5,295.7 59.8,302.3 60,304.1 60,307.1 59.2,309.5 58.3,310.4 57.8,311.6 54,314.9 51.9,315.2 49.8,315.1 47.4,313.5 45,310.7 44.1,308.4 42.9,306.5 42.6,305.6 42.6,302.6 43.2,299.9 44.5,296.3 45.5,292.4 46.6,290 47.4,289.3 48.3,287.9 49.5,287 52.2,285.8 54.6,285 54.9,284.8 55.8,283.5 56.2,282.2 57.4,279.8 58.8,277.7 61.8,273.9 67.2,269.1 71.4,265.9 77.4,262.1 79.8,260.8 82.5,259.6 87.6,258 91.9,257.3ZM93.8,256.4 99.3,256.4 113.4,257.9 115.8,258.3 118.5,259.3 119.7,260 120.7,260.9 121.2,261.8 121.4,262.7 121.2,264.5 120.9,265.4 119.7,267.1 115.8,271.4 112.3,276.8 110.5,278.9 109,280.4 105,283.3 100.2,285.8 94.5,287.6 90,288.6 87,289.9 85.8,290.6 83.3,292.7 81.6,294.9 79.8,297.8 78.3,299.6 74.8,303.5 71.4,306.9 69.3,308.6 68.1,309.2 67.2,310.2 65.4,311.5 62.1,312.7 60.9,312.5 60.6,312.6 58.5,315.2 56.7,316.4 55.2,316.6 53.7,317.6 49.5,317.8 48.3,317 46.8,316.4 43.8,313.9 42.6,313.7 42.3,313.5 41.4,311.9 39.9,310.6 38.8,308.9 38.6,307.4 37.9,305.3 38,302.3 38.2,301.7 38.8,301.1 39.1,300.2 40.2,299.6 40.9,298.1 41.7,297.6 42,297.2 42.9,294.8 43.3,292.1 43.3,290.6 43.7,289.4 43.5,287.6 44,286.4 43.7,285.5 43.2,285.1 42.8,285.5 42.7,287 42,287.3 41.5,286.7 41.1,285.8 40.8,283.9 40.5,283.7 39.9,284.6 38.7,284.1 37.5,283.8 37.2,283.4 37,282.5 37.9,280.4 39.9,280 40.3,280.1 40.8,280.7 41.1,280.7 41.4,280.1 41.7,279.9 42.3,280 43,281 43.1,282.8 43.5,283.8 44.4,284.4 45,285.2 45.6,285.6 46.2,285.4 47.1,284.7 48.3,284.4 49.5,283.6 50.7,283.7 52.2,283.4 54,282.2 55.5,280.8 56.5,279.2 59.3,275.6 62.7,271.9 66.9,268.4 72.3,264.3 79.5,260.1 84.6,258 87.9,257.2 93.8,256.4ZM66.6,294.8 65.1,295.4 63.3,295.7 61.8,296.8 61.6,297.2 61.5,298.1 62,299.9 62.7,300.4 63.6,301.5 65.9,300.8 68.6,296.6 68.7,296 68.4,295.5 66.6,294.8ZM33,302.6 34,302.6 35.3,303.5 35.3,304.1 34.4,305.3 33.6,305.5 33,305.4 32.3,305 31.8,304.4 31.7,303.8 31.9,303.2 33,302.6ZM93.8,255.5 96.9,255.3 99.9,255.5 115.8,257.4 118.8,258.3 120.3,258.9 121.2,259.6 122.4,260.9 122.9,262.1 123.1,263.3 122.2,265.7 120.6,267.8 116.5,272.3 114.5,275.6 111.7,279.2 109.8,281.1 107.5,282.8 105,284.4 101.4,286.2 97.2,287.8 92.4,289.1 90.5,289.4 88.2,290.3 86.1,291.5 83.7,293.8 81.1,297.2 79.1,300.2 74.1,305.9 73.1,306.8 69.3,311.4 68.1,312.2 65.9,314.6 64.8,315.3 63.6,316.4 62.7,316.8 61.5,318.2 60.3,318.4 59.2,319.4 58.2,319.8 57,320.7 56.4,320.8 55.2,320.6 54,321.2 52.5,321.2 51.3,321.6 49.2,321.5 47.7,320.6 46.5,320.8 44.7,320.3 43.5,319.3 41.7,319 38.7,316.8 37.5,316.7 37.1,316.1 36.3,314.3 34.8,312.3 34.2,309.9 33.6,308.6 32.7,307.4 31.1,306.2 30.7,305.6 30.5,304.7 30.6,303.2 30.9,302.3 32.1,301.1 33.5,300.2 34.2,298.7 34.8,298.1 35.2,296.6 35.7,295.7 35.9,294.2 36.4,293 36,290 35.7,289.1 32.9,285.8 32.4,284.9 32.1,281.9 33.1,279.2 35.1,277.3 36.3,277.1 37.8,276.2 40.5,275.5 42.6,275.8 43.8,276.5 45.3,276.7 47.1,277.7 48.3,278.8 49.8,279.1 51,279.9 51.9,280.1 52.8,280 54.2,279.2 56,277.7 58.7,274.7 63.9,269.6 72.2,263.3 79.2,259.3 84.3,257.2 89.4,256 93.8,255.5ZM93.6,254.6 96.3,254.3 99.9,254.4 104.4,254.9 107.4,255.5 115.8,256.5 118.8,257.2 120.6,257.8 123,259.3 123.6,260 124.2,261.2 124.4,262.7 124.1,264.5 123.2,266.3 122.6,267.2 118.8,271.2 114.3,278 112.5,280.1 109.2,282.9 104.4,285.9 99.3,288.2 89.1,290.9 86.1,292.7 83.3,295.7 79.5,301.3 75.6,305.9 73.8,308.6 72.9,309.6 71.1,312.8 70.2,313.7 69.5,314.9 68.1,316.5 67.1,317.3 66.3,318.6 63,320.9 60.6,323.1 59.4,323.4 56.4,324.4 54,325 52.5,325 51.6,325.3 50.1,325.1 48.9,325.3 47.4,324.8 44.1,324.7 42.9,323.8 41.4,323.6 39.6,322.5 38.4,321.4 37.2,321 36,320.1 34.8,319.5 32.7,317.7 30.7,314.6 29,310.4 28.4,307.1 28.6,305.6 28.5,303.8 28.8,302.6 28.9,300.8 29.3,299.6 29.3,298.4 30.1,297.5 30.4,296 30.9,295.1 31.5,292.1 30.9,288.8 29.4,285.8 29,282.8 29.5,279.8 30.9,277.4 31.8,276.8 32.7,275.9 35.1,274.4 36.6,274 37.8,273.5 40.5,273.1 42.6,273.2 44.1,273.8 46.8,274.4 48.6,275.5 50.1,276 51.3,276.7 52.8,277.1 53.4,277 55.1,276.2 56.4,275.2 63,269.1 67.2,265.8 71.7,262.5 77.7,259 80.1,257.8 84.9,256.1 89.1,255.1 93.6,254.6ZM24,296.7 24.4,295.7 24.6,294.5 25.3,293.3 25.4,292.1 25.8,290.9 25.6,287.6 25.2,285.5 25.2,282.8 25.7,279.8 26.9,277.4 28.2,275.6 30.6,273.3 32.4,272.3 35.4,271.2 38.1,270.5 40.8,270.5 42.9,270.5 44.4,271 47.4,271.6 49.2,272.5 51.3,273.3 53.1,273.7 54,273.7 55.2,273.4 57,272.3 61.2,269 64.2,266.3 72.3,260.4 79.5,256.6 84.6,254.7 90,253.7 94.5,253.1 97.2,253 101.7,253.1 116.4,255.3 120.6,256.3 123.9,257.9 125.3,259.1 125.8,260 126.3,261.2 126.5,262.7 126.3,263.6 125.6,265.4 124.4,267.2 120.3,272 116.9,277.4 114,280.8 111.9,282.7 109.5,284.5 104.4,287.5 100.2,289.3 97.2,290.3 89.8,292.1 87.9,293 85.8,294.7 82.8,298.6 77.7,306.8 76.6,309.5 75.6,313.4 73.5,317.7 72.3,318.6 69.2,322.1 68.4,323.5 67.2,324.1 66.3,325 64.4,326.3 62.4,326.9 59.6,328.4 57.3,328.9 56.1,329.5 54.6,329.5 53.1,330.3 49.8,329.9 48.6,330.1 47.1,329.7 44.1,329.5 42.6,329 41.1,328.7 39,327.9 36.9,326.9 35.4,325.7 33.9,324.9 32.4,323.8 31.2,322.6 29.7,321.7 25.8,316.1 24,312.2"/>
</g>
<clipPath id="cB2"><rect x="200" y="208" width="120" height="122"/></clipPath>
<g clip-path="url(#cB2)" fill="none" stroke="#000" stroke-width="0.65" stroke-linejoin="round">
<path d="M272.2,270.8 272.8,270.7 273.5,271.1 274.4,272 274.5,272.6 274,272.8 272.8,272.9 272,274.1 271,274.6 270.4,275.6 269.8,275.8 268.9,275.5 268.5,275 268.3,274.4 268.6,273.3 269.5,272.9 270.4,271.6 271.6,271.2 272.2,270.8ZM271.7,270.2 272.8,270.2 274,270.9 275,272.3 275.2,272.9 275.1,273.2 273.4,273.6 272.7,274.7 270.7,276.4 268.9,276.4 267.7,276.1 267.2,275.6 267,275 267.5,274.1 267.9,272.6 268.9,272 269.8,271 271.7,270.2ZM271.6,269.6 273.1,269.8 274.6,270.7 275.6,272.3 275.7,273.5 275.2,273.9 274,274.1 273.1,275.4 271,276.9 268.9,277.2 268,276.9 266.5,275.7 266,274.4 266.8,273.5 267.4,272 269.5,270.5 271.6,269.6ZM274.8,269 275.8,269.3 276.5,270.2 276.5,270.8 276.1,271.4 276.2,273.5 275.9,274.1 274.3,274.6 273.5,275.9 271.6,277.2 270.7,277.5 269.2,277.7 268.3,277.6 267.1,276.8 266.2,275.9 265.6,275 265.3,274.1 265.6,273.6 266.4,272.9 267.1,271.4 269.2,270.1 271.3,269.2 272.2,269.1 273.7,269.3 274.8,269ZM273.8,268.4 274.6,268.3 275.8,268.7 276.7,269.3 277.4,270.2 277.5,271.1 276.8,272.3 276.4,274.3 274.8,275 274,276.2 271.3,277.8 268.9,278.2 268,277.9 267.1,277.3 266,276.2 265.2,275 264.8,273.8 265,273.2 265.9,272.6 266.6,271.1 268.9,269.7 271.3,268.7 273.1,268.7 273.8,268.4ZM272.9,268.1 273.7,267.8 274.6,267.9 277.9,268.9 278.5,269.3 278.1,271.7 277.3,273 276.9,274.4 276.4,274.9 275.2,275.3 274.3,276.6 271.6,278.1 269.2,278.6 268.3,278.5 267.1,277.9 266.1,277.1 264.9,275.3 264.3,273.8 264.4,273 265.6,272 266,271.1 266.5,270.6 270.7,268.4 272.9,268.1ZM273.4,267.5 276.4,268 278.2,267.9 279.1,268.4 279.6,269 279.7,269.9 278.9,271.1 277.2,274.7 276.7,275.1 275.5,275.6 274.3,277.1 272.2,278.3 270.4,278.9 268.9,279 266.5,278.4 265.6,278 265,277.2 264,274.1 263.9,273.2 264.1,272.6 265.3,271.7 265.7,270.8 266.2,270.3 270.4,268.2 273.4,267.5ZM273.1,267.2 275.8,267.5 277.3,267.3 278.2,267.4 279.4,267.8 280.3,268.7 280.4,269.6 280.3,270.3 279.2,271.7 277.4,275 277,275.4 275.8,275.9 274.6,277.3 273.4,277.9 272.2,278.7 270.4,279.3 269.5,279.4 266.8,279.2 265.6,278.8 264.4,277.7 263.9,276.5 263.5,273.2 263.8,272.3 264.9,271.4 265.4,270.5 265.9,270 270.4,267.8 273.1,267.2ZM272.7,266.9 275.5,267.1 277.6,266.8 280,267.3 280.7,267.8 281.1,268.7 281.2,269.6 280.7,270.8 279.7,272 277.6,275.4 276.1,276.2 275.2,277.4 273.7,278.1 272.6,278.9 269.8,279.8 267.1,279.8 265.6,279.2 264.1,278 263.1,276.5 262.9,275.3 263.2,272.3 264.6,271.1 265.1,270.2 265.6,269.7 266.8,269.3 270.1,267.5 272.7,266.9ZM272.5,266.6 275.2,266.7 277,266.3 280.3,266.7 281.1,267.2 281.7,268.1 281.9,269.3 281.7,270.2 277.9,275.6 276.4,276.6 275.2,277.9 274,278.4 272.8,279.3 270.4,280.1 267.7,280.3 265.9,279.8 263.8,278.3 262.5,276.5 262.2,274.7 262.9,272 264.2,270.8 264.8,269.9 265.3,269.4 266.5,269 269.8,267.2 272.5,266.6ZM276.1,266 279.4,265.9 280.6,266.2 281.8,267.1 282.4,268.7 282.5,269.6 282.2,270.5 277.9,276.2 276.7,276.9 275.5,278.2 274.3,278.7 272.8,279.7 270.4,280.6 268,280.8 266.8,280.5 264.4,279.3 262.8,278 261.8,276.2 261.5,274.1 262.6,271.5 263.8,270.5 264.7,269.3 266.3,268.7 267.7,267.8 270.1,266.7 272.5,266.3 274.9,266.3 276.1,266ZM275.4,265.7 278.8,265.4 280,265.5 282.1,266.3 282.7,267.2 283,269.6 282.8,270.5 278.2,276.5 277,277.3 276.1,278.3 274.6,279 273.4,279.9 271,280.9 268.9,281.2 267.7,281.2 265.9,280.6 263.7,279.5 262.1,278.3 261.4,277.4 261,276.5 260.8,275.3 260.9,273.8 262.3,271.1 263.5,270.2 264.4,269 266,268.4 267.4,267.5 269.8,266.4 271.9,266 274.3,266 275.4,265.7ZM277.9,265.1 279.4,265 281.2,265.3 282.3,265.7 283,266.2 283.6,267.2 283.4,270.2 283,271.1 278.8,276.4 277.3,277.6 276.4,278.6 274.9,279.3 273.7,280.2 271.6,281.1 268.3,281.6 266.5,281.2 263.6,280.1 262.3,279.2 260.8,277.7 260.2,276.8 260,275.9 260.4,273.2 262,270.8 263.2,269.8 264.1,268.7 265.8,268.1 267.1,267.2 269.5,266.1 271.9,265.7 274,265.7 275.8,265.2 277.9,265.1ZM275.8,264.8 279.1,264.6 282.1,265.1 283.6,266.1 284.2,266.9 284.3,267.5 283.6,271.1 279,276.8 276.8,278.9 275.2,279.6 273.8,280.7 271.9,281.5 268.6,282 265,281.3 263.8,280.8 261.8,279.5 260,277.7 259.4,276.8 259.1,275.9 259.1,275 259.4,274.1 260.2,272.3 261.7,270.4 263.8,268.4 265.5,267.8 266.8,266.9 269.2,265.8 271.6,265.3 273.7,265.3 275.8,264.8ZM274.8,264.5 278.5,264.2 281.8,264.5 283,265 283.9,265.7 284.6,266.6 284.9,267.5 284.9,268.4 284.4,269.3 283.9,271.5 279.1,277.4 277.2,279.2 275.5,280 274.3,281 272.2,281.9 269.8,282.4 268.6,282.5 265.3,282 263.8,281.4 261,279.5 258.9,277.4 258.3,276.5 258.2,275.9 258.3,274.7 258.6,273.8 259.9,271.7 263.5,268.1 265.1,267.5 266.5,266.5 268.9,265.5 271.3,265 273.4,264.9 274.8,264.5ZM277.4,263.9 281.2,264 283.3,264.7 284.3,265.4 285,266.3 285.4,267.5 285.5,268.4 284.8,269.9 284.3,271.7 280.9,275.9 279.4,277.7 277.6,279.5 275.8,280.4 274.8,281.3 272.2,282.4 269.8,282.9 265.6,282.7 263.7,281.9 260.8,280.1 258.6,278.3 257.2,276.8 256.9,275.8 258,273.2 261.1,269.6 263.1,267.8 264.7,267.2 266.2,266.2 268.6,265.1 271,264.6 273.1,264.5 274.6,264.1 277.4,263.9ZM276.5,263.6 277.9,263.5 280.9,263.5 282.4,263.8 283.9,264.4 284.8,265 285.4,265.8 285.9,267.2 286,268.4 284.6,272 279.8,278 277.9,279.8 276.2,280.7 275.2,281.7 272.5,282.8 270.1,283.4 266.8,283.5 265.9,283.3 262.3,281.7 260.2,280.5 257.6,278.3 256,276.5 255.6,275.6 255.8,275 256.6,274.3 257.5,272.7 259,271.1 261,269 262.9,267.3 264.4,266.8 265.9,265.7 268.3,264.7 270.7,264.3 272.5,264.1 274.3,263.7 276.5,263.6ZM274.3,263.3 280.6,263.1 283.7,263.6 284.5,263.9 285.3,264.5 286,265.4 286.3,266.3 286.4,267.8 286.4,269 284.9,272.3 283.8,273.5 280,278.5 278.2,280.2 276.6,281 275.3,282.2 272.8,283.2 270.1,283.8 266.8,284 265.3,283.6 260.8,281.6 254.9,277.4 254.6,275.6 254.8,274.7 256.3,273.5 257.2,272.1 262.3,267.2 264.1,266.4 265.5,265.4 268,264.4 274.3,263.3ZM243.3,278 244,277.8 244.9,278.2 245.4,278.9 245.3,279.5 244.6,279.7 243.4,279.2 243.1,278.6 243.3,278ZM276.2,263 280.6,262.9 283.6,263.2 284.5,263.5 285.6,264.2 286.3,265.2 286.7,266.3 286.8,267.8 286.6,269.3 285,272.6 284.2,273.5 280,279 278.4,280.4 276.8,281.3 275.5,282.4 273.1,283.4 270.4,284.1 267.7,284.4 266.8,284.3 261.4,282.3 257.5,280.1 253.7,278.3 251.9,277.1 251.9,276.5 252.1,276.2 253.6,275.5 254.5,274.2 256,273.2 256.9,271.9 260.5,268.3 262.3,266.8 263.8,266.2 265.3,265.2 268,264.1 273.7,263.1 276.2,263ZM245.7,276.8 246.4,276.6 247.3,276.8 248.6,277.4 248.7,277.7 248.2,278.3 246.7,278.9 245.8,280.1 245.2,280.3 242.5,280.1 241.9,279.9 241.4,279.5 241.4,278.9 242.8,277.3 243.4,277.1 244.9,277.2 245.7,276.8ZM276.5,262.7 280.6,262.6 283.3,262.8 284.5,263.1 285.7,263.9 286.5,264.8 287,266 287.2,267.2 286.8,269.6 285.4,272.6 284.2,273.8 280.2,279.2 278.5,280.7 277,281.5 275.8,282.6 273.1,283.7 270.7,284.4 267.4,284.7 262,283 253,278.7 249.4,278.8 247.4,279.5 246.4,280.4 245.5,280.7 242.2,280.8 241,280.3 240.3,279.5 240.2,278.9 240.4,278.5 242.5,276.8 244.3,276.5 245.8,276 247.9,276.2 250.3,275.9 253.3,274.8 254.2,273.8 255.7,272.9 256.5,271.7 261.7,266.9 263.6,266 265,265 268,263.8 273.4,262.8 276.5,262.7ZM276.1,262.4 282.7,262.3 284.5,262.7 285.7,263.4 286.8,264.5 287.4,265.7 287.6,267.2 287.1,269.9 285.6,272.9 284.4,274.1 280.5,279.5 278.8,281 277.3,281.8 276.1,282.9 273.4,284 271,284.7 267.7,285.1 262.3,283.6 253.6,279.6 250,279.5 247.9,280.2 246.4,281.1 243.1,281.5 240.1,280.8 239.3,280.4 238.9,279.8 239,278.9 239.6,278 242.2,276.2 245.2,275.5 247.3,275.5 249.7,275.1 252.7,274.2 253.9,273.3 255.3,272.6 256.2,271.4 261.4,266.6 263.3,265.7 264.7,264.6 267.4,263.6 269.5,263.1 273.1,262.5 276.1,262.4ZM275.5,262.1 282.7,261.9 284.5,262.3 286,263.1 287.1,264.2 287.9,265.7 288.1,267.2 287.5,269.9 285.8,273.2 284.8,274.3 284,275.6 280.8,279.8 279.1,281.3 277.6,282.2 276.4,283.2 273.7,284.4 271.3,285.1 268,285.6 262.9,284.3 258.7,282.6 255.1,280.7 253.9,280.3 250.6,280.1 248.5,280.7 247,281.5 243.1,282 239.5,281.7 238.3,281.2 237.7,280.4 237.5,279.5 237.7,278.6 239.2,277.3 241.3,275.9 244.4,275 247,274.9 252.4,273.6 254.8,272.3 255.7,271.1 257.2,270 259.6,267.5 261,266.3 262.9,265.4 264.4,264.3 267.1,263.2 269.5,262.7 272.8,262.2 275.5,262.1ZM281.5,261.5 283,261.5 284.5,261.9 286,262.5 287.1,263.3 287.8,264.2 288.3,265.4 288.6,266.9 288.6,268.1 287.8,270.5 286.3,273.2 285.1,274.6 284.3,275.9 281.4,279.8 279.5,281.6 276.5,283.7 271.3,285.6 268.3,286 263.5,285.1 259.3,283.5 255.4,281.5 252.1,280.8 250.6,280.8 247.3,282 244,282.5 240.7,282.7 237.3,282.2 236.2,281.6 235.6,281 235.5,280.4 236.2,279.4 236.8,277.9 240.7,275.4 244,274.4 246.4,274.4 252.1,273 254.5,271.7 255.4,270.6 256.8,269.6 259.6,266.8 261.1,265.7 262.6,264.9 264.1,263.9 266.8,262.8 272.2,261.8 281.5,261.5ZM275,261.2 282.4,261 286.3,262 287.5,262.8 288.4,263.9 288.9,265.1 289.2,266.9 289.2,268.1 289,269 288,271.1 286.5,273.8 285.4,275 284.8,276.2 281.5,280.5 277.1,284 271.9,286 269.8,286.5 268.6,286.5 264.1,285.9 259.9,284.4 255.9,282.5 252.4,281.5 250.9,281.5 247.9,282.4 244.4,283.1 240.7,283.4 238.3,283.3 236.8,282.9 235.3,282.1 234.3,281 234.1,280.1 234.2,279.5 235.3,278.4 235.9,277.3 240.4,274.6 243.4,273.9 245.8,273.8 251.5,272.5 253.9,271.3 254.9,270.2 256.3,269.3 259.3,266.3 263.5,263.5 266.2,262.4 268.9,261.8 271.9,261.3 275,261.2ZM274.9,260.6 281.8,260.5 286.3,261.2 287.5,261.9 288.7,263 289.4,264.2 289.8,265.7 289.8,267.8 289.6,269 286.9,274.1 281.9,281 277.6,284.4 272.2,286.6 270.1,287 268.9,287.1 265.3,286.8 261.7,285.9 254.4,282.8 252.7,282.3 250,282.5 244.9,283.7 240.7,284.1 238.3,284 234.7,283.2 233.8,282.8 232.9,281.9 232.8,280.7 233.2,278.9 233.5,278.4 235.3,276.4 236.8,275.7 239.5,274 242.8,273.2 245.2,273.1 246.7,272.6 251.2,271.8 253.4,270.8 254.5,269.7 256,268.7 258.7,265.9 262.9,263.2 265.9,261.9 268.3,261.2 271.3,260.8 274.9,260.6ZM273.7,260 281.2,259.9 286.3,260.4 287.8,261.1 289,262.1 290,263.6 290.5,265.1 290.6,267.2 290.3,269.3 287.5,274.4 286.3,275.9 285.7,277.1 284.6,278.3 282.4,281.5 278.2,284.8 275.2,286.2 272.2,287.3 269.8,287.7 266.2,287.7 261.4,286.7 257.5,285.2 254.5,283.7 253,283.2 250.3,283.3 242.2,284.8 239.2,284.8 234.4,284.4 232.6,283.4 231.5,282.2 231.2,281.3 231.2,280.4 232.6,277.4 234.4,275.5 235.9,274.9 237.4,273.7 239.5,272.8 242.2,272.3 244.3,272.2 245.8,271.8 247.9,271.6 250.6,271.1 252.7,270.2 253.9,269.1 255.4,268.1 258.4,265.2 262.6,262.5 265.3,261.3 268,260.6 270.7,260.2 273.7,260ZM273.6,259.1 285.1,259.4 288.1,259.9 289,260.3 289.9,261.2 291,263.3 291.5,264.8 291.6,267.2 291.2,269.3 290.7,270.5 288,275 286.3,277.7 283,282 278.8,285.3 275.8,286.8 272.8,287.9 270.4,288.4 266.8,288.7 262,288 258.7,286.8 254.8,284.9 253,284.4 250.6,284.2 247.9,284.6 246.1,285 242.8,285.6 236.2,285.8 232,284.9 231,284.3 230.2,283.3 229.7,281.9 229.7,280.1 230,279.2 231.4,276.5 233.2,274.5 235,273.6 236.1,272.6 238.3,271.7 241,271.2 243.1,271.1 244.9,270.7 247,270.7 250,270.1 251.8,269.4 254.5,267.6 257.5,264.8 259.3,263.5 261.7,262 264.4,260.7 267.7,259.8 273.6,259.1ZM271.7,258.2 273.1,258 276.7,258.1 282.1,258.4 287.5,258.3 289,258.5 290.2,259.1 291.1,260 292.7,264.5 292.9,266 292.2,269.6 291.4,271.4 287.2,278.3 286,279.7 285,281.3 283.4,283.1 279.5,286.1 276.4,287.7 273.7,288.7 271.6,289.2 268,289.7 264.4,289.6 260.5,288.8 255.7,286.7 251.7,285.5 249.1,285.6 243.7,286.5 237.7,287.1 233.5,287 232,286.6 230.4,285.8 229.2,284.9 228.4,284 227.9,282.8 227.9,280.4 228.1,279.2 228.6,278 230.4,274.7 232,273.1 233.5,272.2 234.7,271.1 237.4,270 239.5,269.6 243.1,269.1 245.5,269.2 248.2,269 250.3,268.4 253.6,266.6 254.8,265.5 258.7,262.5 263.8,259.8 266.8,258.9 271.7,258.2ZM270.6,256.7 275.5,256.5 284.2,257 287.2,256.7 289.9,256.8 291.2,257.3 292.3,258.2 293,259.4 293.9,261.5 294.2,263 294.7,266.6 293.6,270.5 288.6,279.2 287.2,280.9 286.4,282.2 284,284.6 280.6,287.2 277.9,288.7 272.8,290.5 269.5,291.1 265.3,291.3 261.1,290.8 257.5,289.7 253.6,288.1 250.3,287.5 246.7,287.6 244.9,288 237.4,289 235.6,289.3 231.7,289.4 230.2,289 228.7,288.3 227.5,287.2 226.4,285.8 225.6,284 225.2,281.9 225.9,277.7 227.6,274.4 228.7,272.9 230.3,271.1 232.6,269.4 234.1,268.7 235.5,267.8 237.7,267.3 241.3,266.8 247.3,266.6 249.7,266.2 252.1,265.2 257.8,261.2 262.6,258.6 265.9,257.6 270.6,256.7ZM274.3,255.2 277.6,255.3 283.3,255.9 288.7,255.5 291.1,255.7 292.3,256.1 293.3,256.7 294.1,257.6 294.6,258.8 296,263.6 296.2,265.4 296,268.1 294.9,271.1 290.7,278.6 289.5,280.4 287.2,283.3 285.1,285.4 283.3,286.9 279.1,289.5 275.5,291.1 272.8,291.9 266.8,292.6 263.2,292.5 260.2,292.1 251.8,289.6 248.5,289.2 239.2,290.4 237.1,291 229,292.5 227.5,292.3 226.3,291.2 223.4,285.5 222.9,283.7 222.8,282.2 223.4,279.2 224.4,275.9 225.3,274.7 226.1,272.9 227.8,270.8 229.3,269.3 234.1,266.2 239.5,264.9 242.8,264.6 245.5,264.8 248.8,264.4 250.9,263.8 253.3,262.7 256.9,260.3 262,257.5 264.7,256.6 267.7,255.8 270.4,255.4 274.3,255.2ZM275.2,253.1 277,253.2 282.1,254 289.6,253.8 292,254.1 294.1,254.7 295.3,255.4 296.3,256.4 297.1,257.9 298.4,262.4 298.7,264.2 298.7,267.2 297.9,269.9 295,275.9 292.2,280.4 288.9,284.6 286.3,287.2 282.1,290.2 277.3,292.6 274.3,293.6 268.6,294.5 265,294.7 262,294.5 257.2,293.8 254.2,293.1 247,292.5 243.4,292.7 234.7,294.2 230.8,295.2 226.9,295.6 224.5,295 223.6,294.4 222.7,293.6 221.8,291.8 220.9,288.8 219.6,285.2 219.4,283.4 219.6,280.4 220.8,276.5 222.2,273.5 223.7,271.1 225.6,268.7 227.2,267.4 231.7,264.3 235.3,262.9 237.7,262.2 240.1,261.9 246.4,261.7 249.7,261.3 251.8,260.7 253.3,259.7 259.9,256.3 263.5,254.8 267.1,253.9 272.2,253.2 275.2,253.1ZM212.2,281.3 213.4,281.1 214.6,281.4 215.7,282.2 216.3,283.4 216.4,284.6 216,286.1 215.2,287.1 214,287.7 212.8,287.8 211.6,287.4 210.7,286.6 210.1,285.5 210,284 210.3,282.8 211.1,281.9 212.2,281.3Z"/>
</g>
<clipPath id="cB3"><rect x="388" y="208" width="120" height="122"/></clipPath>
<g clip-path="url(#cB3)" fill="none" stroke="#000" stroke-width="0.65" stroke-linejoin="round">
<path d="M412.8,293.1 413.9,292.9 415.7,293.4 417.1,294.3 417.5,295.2 417.5,295.8 417.1,296.4 415.1,298.2 413.9,298.7 413,298.7 412,298.2 411,297.3 410.7,296.4 410.7,295.8 411.1,295.2 412.2,293.7 412.8,293.1ZM412.4,291.9 413.6,291.7 414.5,291.8 416.9,292.8 418,293.4 418.6,294.3 419.1,295.8 419.1,296.7 418.7,297.6 416.9,299 413.9,299.7 412.4,299.4 410.1,297.9 409.4,296.7 409.3,295.2 411.2,292.7 412.4,291.9ZM412.5,291 413.6,290.8 414.5,290.8 417.8,292.2 418.8,292.8 419.5,293.7 420.2,295.7 421,297 420.8,297.6 417.5,299.8 413.9,300.4 412.4,300.1 409.7,298.6 409.1,297.9 408.7,297 408.5,295.8 408.6,294.9 409.1,293.9 410.6,292 411.5,291.4 412.5,291ZM410.9,315.6 411.5,315.5 412.1,315.8 412.6,316.8 412.4,318 411.5,318.7 410.9,318.7 410.3,318.4 409.6,317.4 409.7,316.8 410,316.2 410.9,315.6ZM413.3,289.8 414.2,289.6 414.8,289.7 419.6,292.5 420.3,293.4 421.1,295.1 422.8,296.4 423,297 422.8,297.9 422,298.4 419.9,298.9 417.5,300.3 413.6,300.9 412.4,300.6 409.1,298.9 408.5,297.9 408.1,296.4 408,295.2 408.3,294.3 410.3,291.4 411.2,290.8 413.3,289.8ZM411,315 411.8,315 412.5,315.3 413.1,316.2 413.3,317.4 413.2,318.3 412.8,318.9 411.8,319.8 411.2,319.9 410.6,319.7 409.4,318.7 408.9,318 408.8,317.4 409,316.5 409.4,315.9 411,315ZM413,288.3 414.2,288.3 415.4,288.8 417.6,290.7 420.6,292.5 422,294.1 423.3,295.2 423.8,295.8 423.9,296.7 423.8,297.6 423.3,298.5 422.3,299 420.2,299.3 417.5,300.7 413.3,301.3 412.1,301 408.8,299.3 408.2,298.4 407.7,296.7 407.6,295.2 407.8,294.3 409.9,291 412,289.5 413,288.3ZM410.6,314.7 411.8,314.4 412.7,314.8 413.5,315.9 413.9,317.4 413.9,318.3 413.6,319.2 412.2,320.7 411.5,321.1 410.9,321.1 410.3,320.6 408.4,318.9 407.9,318 408.2,316.8 408.8,315.9 410.6,314.7ZM410.1,286.2 410.9,286 412.1,286.2 415.4,287.9 416.3,288.6 418,290.4 421.1,292.2 423.5,294.3 424.3,295.2 424.6,296.1 424.3,297.6 423.7,298.8 422.6,299.4 420.2,299.7 417.7,300.9 413.3,301.6 412.1,301.4 408.5,299.5 407.9,298.8 407.6,297.9 407.2,296.1 407.2,294.9 407.5,294 409.4,290.9 411,288.9 410.9,288.3 409.8,286.8 410.1,286.2ZM411.2,314.1 412.4,314.1 413.5,315 414.1,316.2 414.5,318.3 414.4,319.2 414,319.8 412.4,321.5 411.5,321.9 410.9,321.8 410.2,321.3 407.5,318.9 407.2,318 407.6,316.8 408.4,315.6 409.7,314.8 411.2,314.1ZM410.2,285.6 412.4,285.8 415.7,287.5 416.6,288.2 418.2,290.1 421.7,292.2 423.8,294.1 424.7,295.2 424.9,296.1 424.6,297.9 423.9,299.1 422.9,299.6 420.2,300 417.8,301.1 413.3,301.8 412.1,301.6 409.1,300.3 408.3,299.7 407.6,298.8 407.3,297.9 406.9,296.1 406.9,294.9 407.2,294 409.9,289.2 409.9,288.6 409.1,287.2 408.9,286.5 409.3,285.9 410.2,285.6ZM399.9,299.1 400.4,299.1 400.7,299.4 401.1,300.6 400.4,302.7 400.5,305.4 400.1,305.9 399.8,305.9 399.2,305.3 399,304.2 399.3,302.4 399.2,300.1 399.5,299.4 399.9,299.1ZM400.1,309 400.7,309 401.3,309.7 401.4,310.8 401,311.4 400.1,311.3 399.6,310.5 399.6,309.6 400.1,309ZM411.3,313.8 412.1,313.8 412.7,314 413.9,315 414.5,316.5 414.9,318.6 414.6,319.8 413.2,321.3 412.4,322 411.5,322.2 410.6,322 410,321.6 408.8,320.4 407.2,319.2 406.7,318.3 407,317.1 408,315.6 409.1,314.8 411.3,313.8ZM409.8,285.3 411.5,285.2 412.7,285.4 416.1,287.1 416.9,287.8 417.8,289.2 418.6,290.1 421.9,291.9 423.8,293.6 424.9,294.9 425.3,296.1 424.9,297.9 424.1,299.3 423.2,299.8 420.5,300.2 417.8,301.3 413.3,302 412,301.8 408.8,300.4 408,299.7 407.3,298.8 406.9,297.6 406.6,296.1 406.6,294.9 407,294 408.3,291.9 409.1,289.5 409.2,288.9 408.4,287.1 408.4,286.2 408.9,285.6 409.8,285.3ZM399.9,298.5 400.7,298.4 401.2,298.8 401.6,299.6 401.8,300.6 401.7,301.5 401.2,303.3 401.2,305.7 400.9,307.5 401.7,309.3 401.9,310.8 401.6,311.7 400.7,312.2 399.8,311.9 399.2,310.8 399.1,309.3 399.6,307.5 398.9,305.9 398.6,304.5 398.9,300 399.2,299.1 399.9,298.5ZM411.5,313.5 412.1,313.5 412.9,313.8 414.3,315 414.8,316.2 415.3,318.6 415,319.8 413.7,321.3 412.6,322.2 411.5,322.5 410.6,322.4 410,322 408.5,320.5 406.8,319.2 406.3,318.3 406.7,317.1 407.8,315.3 408.7,314.7 411.5,313.5ZM409.7,285 411.5,284.9 413,285.1 416.6,286.7 417.4,287.4 418.1,288.9 418.8,289.8 422,291.6 423.2,292.5 425,294.5 425.5,295.8 425.3,297.6 424.4,299.4 423.8,299.9 422.9,300.2 420.5,300.4 417.8,301.4 413.3,302.3 411.8,302 408.8,300.6 407.9,300 407.2,299.1 406.6,297.9 406.2,296.4 406.2,295.2 406.6,294 408,291.9 408.5,290.1 408.5,289 407.8,287.1 407.8,286.2 408.5,285.3 409.7,285ZM400.6,297.6 401.4,297.6 402.4,297.9 402.5,300.9 401.7,304.2 402.2,311.4 401.6,312.7 400.7,313 399.5,312.4 398.9,311.4 398.7,309.9 398.8,307.2 398.3,304.2 398.8,299.4 399.5,298.2 400.6,297.6ZM411.5,313.2 412.1,313.2 413,313.5 414.5,314.7 415.1,315.9 415.6,318.6 415.4,319.8 414.2,321.3 412.7,322.5 411.5,322.8 410.6,322.7 409.8,322.2 408.3,320.7 406.6,319.5 406.1,318.9 406,318.3 406.3,317.1 407.6,315.1 408.5,314.5 411.5,313.2ZM410.4,284.7 413.3,284.9 416.9,286.3 417.8,287.1 418.5,288.9 419.3,289.8 422.3,291.4 423.5,292.4 425.2,294.3 425.8,295.8 425.8,296.7 425.5,297.9 425,299 424.5,299.7 423.2,300.4 420.5,300.7 417.8,301.6 413,302.5 412.1,302.3 408.8,300.8 407.3,299.7 405.9,297.6 405.5,296.7 406,294.6 407.6,292.1 408.1,290.7 408.1,289.5 407.3,287.4 407.2,286.2 407.5,285.6 408.2,285.1 410.4,284.7ZM400.9,296.7 403.7,296.4 404.5,296.7 404.8,297 404.6,297.6 403.4,298.9 403,299.7 402.8,301.8 402.1,304.5 402.5,311.7 401.9,313.2 401,314 400.4,313.9 399.5,313.2 398.9,312.4 398.7,311.7 398.4,309.9 398.5,307.2 398.1,303.9 398.4,300.3 398.6,299.1 399.8,297.4 400.9,296.7ZM410.7,313.2 411.5,312.9 412.4,313 413.4,313.5 414.6,314.4 415.3,315.6 415.8,318 415.7,319.5 415.1,320.8 413.3,322.5 411.8,323 410.6,322.9 409.7,322.4 408.2,321 406.2,319.5 405.8,318.9 405.6,318.3 405.9,317.1 407.3,314.9 408.1,314.4 410.7,313.2ZM408.4,284.7 410.9,284.4 413,284.5 416.5,285.6 417.7,286.2 418.5,287.1 418.9,288.6 419.5,289.5 422.9,291.3 425,293.6 425.9,295.2 426.1,296.1 426,297 425.1,299.4 424.6,300 423.8,300.5 422.6,300.8 420.5,301 417.8,301.8 413.3,302.6 412.1,302.5 408.5,300.9 407.6,300.3 405.8,298.5 405.2,298.4 404.6,298.7 403.7,299.7 402.6,303.9 402.5,305.1 402.8,312 401.9,315.1 401.6,315.5 401.3,315.5 400.4,315 399.2,313.8 398.7,312.9 398.4,312 397.9,303.9 398.3,299.5 398.9,298 400.4,296 404.6,295.5 407,292.5 407.6,291.3 407.7,290.1 406.7,287.7 406.6,286.5 407.2,285.3 408.4,284.7ZM410.7,312.9 411.5,312.6 412.4,312.7 414.7,314.1 415.5,315.3 416,317.7 416,319.5 415.3,321 413.6,322.7 411.8,323.3 410.6,323.2 409.7,322.8 407.9,321.1 405.8,319.5 405.2,318.3 405.4,317.4 407,314.7 407.6,314.3 410.7,312.9ZM408.5,284.4 411.8,284.2 413.3,284.3 416.6,285.2 418.1,286 419.1,287.1 419.5,288.6 419.9,289.2 423.2,291 425,293.2 426.1,295.2 426.3,296.1 426.2,297.2 425.3,299.7 424.7,300.3 423.8,300.8 422.6,301.1 420.2,301.3 417.8,302 413.3,302.8 412,302.7 408.5,301.2 405.8,299.2 405.2,299.1 404.6,299.4 404,300.3 402.9,304.2 403.1,312.6 402.5,316 402.2,316.4 401.6,316.6 400.7,316.2 399.8,315.3 398.6,313.6 398.2,312.6 397.7,303.9 398.1,299.7 398.6,298.1 400.1,295.3 400.7,295.1 402.5,295.3 403.9,294.9 404.6,294.5 406.8,292.2 407.2,291.3 407.3,290.4 407,289.5 405.8,287.7 405.7,286.5 406.2,285.6 406.8,285 408.5,284.4ZM410.6,312.6 411.5,312.3 412.4,312.4 414.8,313.9 415.4,314.5 415.9,315.3 416.2,317.4 416.3,319.5 416,320.4 415.4,321.3 413.9,322.8 411.8,323.5 410.6,323.5 409.4,322.9 407.7,321.3 405.4,319.5 404.7,318.3 404.8,317.4 406.8,314.4 407.6,313.9 410.6,312.6ZM409,284.1 412.1,283.9 413.6,284.1 416.9,285 418.6,285.9 419.5,286.8 420.5,288.9 423.2,290.5 424.1,291.3 426,294.3 426.5,296.1 426.3,297.9 425.4,300 424.4,300.9 422.9,301.4 420.2,301.6 413,303.1 411.8,302.8 408.8,301.6 405.8,299.7 404.9,299.9 404.3,300.6 403.3,303.9 403.1,305.1 403.5,312.6 403.3,315.3 403.7,317.1 404.9,316.3 406.2,314.4 406.8,313.8 411.2,312 412.4,312.1 414.5,313.3 415.5,314.1 416.2,315.3 416.5,318.9 416.4,320.1 416,320.9 415.1,322.2 414.2,323 413,323.5 411.5,323.8 410.3,323.7 409.1,323 407.6,321.6 404.9,319.5 404.2,318.6 403.6,317.4 403.4,317.3 401.9,317.5 401.3,317.3 400.4,316.6 398.3,313.8 397.8,311.7 397.5,303.9 397.6,302.1 398,299.1 399.5,295.1 399.8,294.6 400.4,294.3 402.2,294.7 403.4,294.4 406.4,292 406.8,291.3 406.8,290.4 406.4,289.6 404.9,287.7 404.7,287.1 404.8,286.5 405.4,285.6 406.6,284.7 409,284.1ZM410.2,283.8 412.4,283.7 414.2,283.9 416.9,284.7 419.2,285.9 420.2,286.8 421.4,288.8 423.5,290.1 424.4,290.9 426.3,294.3 426.8,296.1 426.5,298.1 425.6,300.3 424.7,301 422.9,301.8 419.9,301.9 413.6,303.2 412.7,303.3 411.8,303.1 408.5,301.7 406.1,300.3 405.2,300.3 404.6,301 403.5,303.9 403.3,305.1 403.6,310.5 404.3,315.1 404.6,315.2 404.9,315 405.7,314.1 406.7,313.4 411.5,311.7 412.7,312 415.1,313.4 416,314.4 416.4,315.3 416.7,316.8 416.8,318.9 416.6,320.1 416.2,321 415.4,322.2 414.5,323.1 413.3,323.7 411.5,324 410.3,323.9 409.1,323.4 407.1,321.6 403.7,319 401,317.9 399.5,316.3 398.3,314.4 397.7,312.7 397.3,303.9 397.7,299.4 399.5,294.2 400.4,293.6 402.2,293.9 402.8,293.8 405.5,292.1 406.2,291.3 406.2,290.7 406,290.1 404.5,288.3 403.8,287.1 403.8,286.2 404.8,285.3 406.4,284.4 407.9,284 410.2,283.8ZM411.2,283.5 413.3,283.5 416.3,284.2 418.3,285 420.3,286.2 422,288.5 424.1,290 424.8,290.7 426.6,294.3 427,296.4 426.7,298.2 425.9,300.4 424.7,301.4 422.9,302.2 419.9,302.2 413.6,303.4 412.7,303.5 408.8,302.2 406.1,300.8 405.5,300.8 404.9,301.4 403.8,303.9 403.6,305.4 403.8,310.5 404.1,311.7 404.6,312.9 404.9,313.2 405.5,313.3 410.9,311.4 412.1,311.4 415.6,313.5 416.3,314.3 416.7,315.3 417,316.8 417,319.2 416.8,320.4 416.3,321.4 415.4,322.7 414.5,323.5 413,324 411.2,324.3 410,324.2 408.9,323.7 406.6,321.6 404.3,320.1 401.3,319.2 399.8,317.5 398,314.5 397.5,312.9 397.1,303.3 397.6,299.1 399.2,293.8 400.4,292.8 402.5,292.4 404.6,291.5 405.1,291 404.9,290.1 402.5,286.8 402.4,286.2 404.3,285 406.3,284.1 408.2,283.7 411.2,283.5ZM407.9,283.5 412.1,283.2 413.9,283.4 417.2,284.2 420.5,285.8 421.3,286.5 422.6,288.3 424.4,289.6 425.1,290.4 426.8,294.2 427.3,296.1 427.1,297.9 426.2,300.5 425.3,301.5 423.2,302.5 422.3,302.7 419.6,302.5 413,303.8 411.5,303.5 408.5,302.4 406.4,301.4 405.5,301.5 404.9,302.3 404.1,304.2 403.9,305.4 404.2,310.5 404.4,311.4 404.9,312.2 405.5,312.5 406.1,312.5 410.9,311.1 412.1,311 415.7,313.2 416.5,314.1 417,315.3 417.2,316.8 417.3,319.2 417.1,320.4 416.5,321.6 415.7,322.8 414.8,323.7 413.6,324.2 411.5,324.6 410,324.5 408.7,324 406.1,321.7 404.6,320.8 403.7,320.5 401.6,320.4 400.7,319.9 399.8,318.7 398,315.1 397.4,313.8 397.2,312.6 396.9,302.4 397.3,299.4 398.5,294.6 399.2,293.1 400.7,291.4 401.3,291.1 402.8,290.7 403.4,290.1 403.4,289.5 403.1,288.9 401.2,287.1 401,286.2 401.6,285.6 404.4,284.4 406.1,283.8 407.9,283.5ZM408.1,283.2 412.1,282.9 414.2,283.2 417.5,284 421.2,285.6 422.9,287.7 425,289.5 425.6,290.2 427.1,294.1 427.5,296.1 427.4,298.2 426.4,300.9 425.3,302 423.2,303 422.3,303.1 419.6,302.9 412.7,304.1 408.8,302.9 406.4,302 405.5,302.4 404.9,303.2 404.4,304.5 404.2,306 404.5,310.2 404.8,311.1 405.2,311.6 405.8,311.8 406.4,311.8 410.9,310.6 412.4,310.7 416,313 416.7,313.8 417.3,315.3 417.6,317.1 417.5,319.5 417.3,320.7 416.7,321.9 415.7,323.4 414.8,324.1 413.6,324.6 411.5,325 410,324.9 408.3,324.3 407.4,323.7 405.8,322.1 404.6,321.4 403.7,321.2 401.6,321.1 400.4,320.5 399.5,319.5 398.9,318.3 397.2,314.1 396.9,312.6 396.7,301.8 398.3,294 400.9,289.2 400.1,287.1 400.1,286.2 400.4,285.6 401.3,285 405.2,283.7 408.1,283.2ZM407.8,282.9 411.8,282.6 413.9,282.8 417.2,283.5 421.7,285.1 422.3,285.7 423.5,287.4 425.3,289 425.9,289.8 427.4,293.8 427.9,296.1 427.7,298.2 426.7,301.2 425.6,302.4 423.5,303.5 422.3,303.7 419.6,303.3 416.9,303.9 412.7,304.5 406.4,302.9 405.8,303.1 405.2,303.8 404.7,305.1 404.7,306.3 405,309.6 405.5,310.7 406.4,311 411.5,310 412.4,310 416.3,312.7 417.1,313.8 417.7,315.3 418,317.1 417.9,319.5 417.6,321 417,322.2 416,323.6 415.1,324.4 413.6,325 411.5,325.4 410,325.3 408.2,324.8 406.9,324 405.2,322.5 404.3,322 401.3,321.7 399.9,321 399.1,320.1 398.4,318.6 396.6,312.9 396.4,302.1 397.8,294.3 399.4,290.4 399.5,289.2 399.3,286.8 399.5,285.9 400.1,285 401.3,284.4 404.6,283.4 407.8,282.9ZM407.5,282.6 411.5,282.3 413.6,282.4 417.2,283.1 422.3,284.7 423,285.3 424.3,287.1 425.8,288.6 426.4,289.5 427.6,293.1 428.2,296.1 428.1,298.2 427.1,301.4 425.9,302.8 424.1,303.9 422.6,304.2 419.6,303.9 416.9,304.5 412.7,305 406.7,303.9 406.1,304.1 405.5,304.8 405.2,305.7 405.2,306.9 405.6,308.7 406.1,309.7 406.7,309.9 408.5,309.9 409.7,309.8 411.8,309.2 413,309.4 416.6,312.3 417.4,313.5 418.2,315.6 418.5,317.4 418.3,320.1 418,321.3 417.1,322.8 416.3,324 415.1,324.9 413.6,325.5 411.5,325.9 410,325.8 408.2,325.3 406.8,324.6 404.3,322.8 401,322.3 399.6,321.6 398.6,320.4 397.9,318.9 396.3,312.9 396,302.1 397.3,294.3 398.7,290.7 398.5,287.4 398.7,285.9 399.5,284.7 400.7,284 404,283.1 407.5,282.6ZM410.2,282 413,282 417.2,282.6 421.8,283.8 423.2,284.5 425.9,287.6 426.8,289.1 428.2,293.4 428.7,296.7 428.4,298.8 427.4,301.8 426.2,303.4 424.7,304.4 422.6,304.8 419.6,304.5 417.2,305.2 414.8,305.4 412.7,305.9 409.4,305.2 407,305.2 406.2,305.7 406,306.6 406.1,307.5 406.6,308.4 407.3,308.8 408.5,309.1 409.7,309 412.4,307.9 413.3,308.3 416.9,311.7 417.9,313.5 418.9,315.9 419,317.7 418.7,320.7 418.3,321.9 417.3,323.4 416.3,324.6 415.1,325.4 413.3,326.1 411.5,326.4 410,326.3 407.9,325.7 406.4,325.1 404,323.6 400.4,322.9 399.5,322.5 398.9,321.9 398.1,320.7 397.4,319.1 396.1,313.8 395.7,306.9 395.7,301.8 396.9,294.3 398,290.7 397.7,287.4 397.9,286.2 398.4,285 399.5,283.9 401.3,283.2 404.3,282.6 410.2,282ZM409.1,281.7 412.7,281.7 417.2,282.2 422,283.3 423.8,284.2 425.9,286.4 427.1,288.3 428.5,292.8 429,296.4 428.9,298.2 428,301.6 427.1,303.2 425.9,304.5 425,305 423.5,305.3 419.3,305.3 417.2,306.1 415.1,306.5 414.7,306.9 414.8,307.8 417.6,311.7 419.3,315.6 419.6,317.4 419.4,320.4 418.7,322.2 416.6,325 414.5,326.2 411.8,326.9 410.3,326.8 408.2,326.3 406.1,325.6 403.4,324.3 400.4,323.8 398.9,323 398,321.8 396.9,319.2 395.6,312.6 395.3,302.1 396.4,294.3 397.4,291 397.4,290.1 397,287.4 397.5,285.3 398,284.4 398.6,283.8 400.4,282.9 402.8,282.4 409.1,281.7ZM408.8,306.6 408.1,306.9 408,307.2 408.5,307.8 409.4,307.9 410.2,307.5 410.3,307.2 410,306.7 408.8,306.6ZM407,281.4 412.1,281.1 417.2,281.6 422.3,282.7 424.4,283.6 426.2,285 427.7,287.4 429.1,292.5 429.4,294.6 429.6,297.3 429.3,299.1 428.4,302.4 426.8,305 425.9,305.7 425,306 422.9,306.3 420.2,306.2 419.3,306.4 418.1,307 417.4,307.8 417.2,308.4 417.4,309.3 419.7,314.1 420.4,316.2 420.5,318 420,321.3 419.1,323.1 416.9,325.7 414.5,327.1 412.4,327.7 410.3,327.6 404.9,326.2 401.6,325.8 400.1,325.2 398.9,324.5 397.7,323.1 396.9,321.3 396,318.3 395.2,313.5 394.7,302.4 395.4,295.8 396.5,291 396,287.4 396.4,285.3 396.8,284.4 397.5,283.5 398.3,282.9 399.8,282.2 401.6,281.8 407,281.4ZM409,280.5 412.7,280.5 417.8,280.9 422.9,281.9 426,283.2 427.4,284.7 428.9,287.4 430.1,293.1 430.3,295.5 430.3,298.2 429.5,302.1 428.7,303.9 427.4,306.1 426.5,306.9 425.6,307.3 422.3,307.9 420.2,308.1 419.6,308.4 419.3,308.8 419.3,309.9 420.9,313.2 421.4,316.2 421.3,319.8 421,321.6 420.5,322.8 418.5,325.5 416.9,326.9 414.5,328.3 412.4,328.8 410,328.6 405.5,327.7 401,327.8 399.5,327.1 397.4,324.7 396.2,322.5 394.9,316.5 394.4,312.9 394,306.6 394,302.7 394.5,296.1 395.3,291.3 395.3,290.1 394.8,286.8 395,285.6 395.4,284.4 396.1,283.2 396.8,282.5 398.3,281.6 399.8,280.9 401.3,280.7 405.2,280.8 409,280.5ZM399.7,279.3 401.6,279.2 406.1,279.6 413.6,279.5 417.5,279.8 423.2,280.6 426.2,281.5 427.4,282.1 429.3,284.4 430.5,286.5 430.8,288 431.6,296.4 431.4,299.1 430.4,303.6 429,306.3 427.7,308.1 426.2,309.5 423.8,310.7 423.2,311.4 423,312.3 423,319.5 422.2,322.5 421.3,324.3 419.9,326.4 419,327.4 416.6,329.3 414.8,330.1 412.7,330.5 410.9,330.5 404.9,329.6 401.3,330.5 400.1,330.6 399.2,330.4 398.3,329.9 397.5,328.8 394.9,322.8 393.5,315.6 393.1,309.6 393,303 393.4,296.4 394,291.6 393.8,289.7 393.1,286.5 393.1,285.6 393.8,283.8 395.1,282 397.7,280.1 399.7,279.3ZM397.4,330.9 396.2,328.8 394.3,323.7 393.7,321.3 392.8,315.6 392.3,304.5 392.8,296.4 393.2,291.9 393,290.1 392,286.8 391.8,285.6 392,284.7 392.7,283.5 393.8,282 395,280.9 398,278.8 399.5,278.3 401,278.2 406.4,278.9 413.3,278.8 417.2,279.1 422.9,279.7 425.6,280.4 427.4,281 428.7,282 430.7,284.3 431.5,285.9 431.7,287.4 431.8,291.3 432.3,296.1 432,299.7 431.2,303.9 429,308.1 427.1,310.5 424.9,312.9 424.2,315.9 423.8,320.4 422.8,323.4 421.5,325.8 420.6,327.3 419.4,328.5 417.4,330 415.6,330.9M406.2,330.9 405.1,330.9M394.9,330.9 393,324.9 392.3,321.6 391.5,315.3 391.1,304.8 391.7,292.2 391.2,290.4 389.5,287.1 389.3,285.3 389.5,284.4 389.9,283.5 392.1,281.1 397.4,276.7 398.9,275.8 400.1,275.5 401.6,275.8 405.5,277.2 407,277.5 413.6,277.6 422.6,278.2 426.5,278.9 428.6,279.8 431,281.5 432.6,283.2 433.6,285 433.8,286.5 433.4,291.3 433.8,296.1 433.4,300.9 432.7,304.2 430.7,309 427.6,313.5 426.9,314.7 426.5,316.5 425.8,320.7 424.3,325.2 422.3,328.3 419.6,330.9M442.1,284.7 443.3,284.4 444.5,284.7 445.7,285.4 446.4,286.5 446.7,287.7 446.4,288.9 445.9,289.8 444.8,290.6 443.6,291 442.4,290.8 441.2,290.1 440.5,289.2 440.2,288 440.4,286.5 441.2,285.3 442.1,284.7ZM442.8,286.8 443.6,286.7 444.3,287.1 444.4,288 443.9,288.6 443,288.7 442.5,288.3 442.4,287.4 442.8,286.8Z"/>
</g>
<polygon points="23.6,50.0 24.6,52.0 25.6,58.0 25.5,64.0 26.8,68.0 26.4,80.0 27.0,95.0 26.6,110.0 27.2,125.0 26.8,140.0 27.2,147.0 35.0,146.8 42.0,147.2 48.0,147.4 52.0,149.0 52.0,150.3 23.6,150.3" fill="#000"/>
<polygon points="386.6,112.0 388.2,112.0 389.0,118.0 388.6,128.0 389.3,140.0 389.0,147.2 400.0,147.0 415.0,147.4 430.0,147.0 440.0,147.6 448.0,147.6 452.0,149.2 452.0,150.6 386.6,150.6" fill="#000"/>
<text x="0.60" y="13.60" text-anchor="start" style="font-family:'Liberation Sans',sans-serif;font-size:17.2px;font-weight:bold" stroke="#000" stroke-width="0.7">A</text>
<text x="0.60" y="193.80" text-anchor="start" style="font-family:'Liberation Sans',sans-serif;font-size:16.2px;font-weight:bold" stroke="#000" stroke-width="0.7">B</text>
<rect x="23.60" y="28.60" width="121.00" height="121.70" fill="none" stroke="#000" stroke-width="1.0"/>
<line x1="23.60" y1="28.60" x2="23.60" y2="150.80" stroke="#000" stroke-width="1.6"/>
<line x1="23.60" y1="150.30" x2="144.60" y2="150.30" stroke="#000" stroke-width="1.5"/>
<line x1="20.00" y1="149.80" x2="23.60" y2="149.80" stroke="#000" stroke-width="1.0"/>
<text x="18.00" y="151.80" text-anchor="end" style="font-family:'Liberation Serif',serif;font-size:6.3px" stroke="#000" stroke-width="0.15">1</text>
<line x1="21.80" y1="140.80" x2="23.60" y2="140.80" stroke="#000" stroke-width="0.8"/>
<line x1="21.80" y1="135.53" x2="23.60" y2="135.53" stroke="#000" stroke-width="0.8"/>
<line x1="21.80" y1="131.80" x2="23.60" y2="131.80" stroke="#000" stroke-width="0.8"/>
<line x1="21.80" y1="128.90" x2="23.60" y2="128.90" stroke="#000" stroke-width="0.8"/>
<line x1="21.80" y1="126.53" x2="23.60" y2="126.53" stroke="#000" stroke-width="0.8"/>
<line x1="21.80" y1="124.53" x2="23.60" y2="124.53" stroke="#000" stroke-width="0.8"/>
<line x1="21.80" y1="122.80" x2="23.60" y2="122.80" stroke="#000" stroke-width="0.8"/>
<line x1="21.80" y1="121.27" x2="23.60" y2="121.27" stroke="#000" stroke-width="0.8"/>
<line x1="20.00" y1="119.90" x2="23.60" y2="119.90" stroke="#000" stroke-width="1.0"/>
<text x="18.00" y="121.90" text-anchor="end" style="font-family:'Liberation Serif',serif;font-size:6.3px" textLength="5.40" lengthAdjust="spacingAndGlyphs" stroke="#000" stroke-width="0.15">10</text>
<line x1="21.80" y1="110.72" x2="23.60" y2="110.72" stroke="#000" stroke-width="0.8"/>
<line x1="21.80" y1="105.35" x2="23.60" y2="105.35" stroke="#000" stroke-width="0.8"/>
<line x1="21.80" y1="101.54" x2="23.60" y2="101.54" stroke="#000" stroke-width="0.8"/>
<line x1="21.80" y1="98.58" x2="23.60" y2="98.58" stroke="#000" stroke-width="0.8"/>
<line x1="21.80" y1="96.17" x2="23.60" y2="96.17" stroke="#000" stroke-width="0.8"/>
<line x1="21.80" y1="94.12" x2="23.60" y2="94.12" stroke="#000" stroke-width="0.8"/>
<line x1="21.80" y1="92.36" x2="23.60" y2="92.36" stroke="#000" stroke-width="0.8"/>
<line x1="21.80" y1="90.80" x2="23.60" y2="90.80" stroke="#000" stroke-width="0.8"/>
<line x1="20.00" y1="89.40" x2="23.60" y2="89.40" stroke="#000" stroke-width="1.0"/>
<text x="18.00" y="91.40" text-anchor="end" style="font-family:'Liberation Serif',serif;font-size:6.3px" textLength="8.10" lengthAdjust="spacingAndGlyphs" stroke="#000" stroke-width="0.15">100</text>
<line x1="21.80" y1="80.40" x2="23.60" y2="80.40" stroke="#000" stroke-width="0.8"/>
<line x1="21.80" y1="75.13" x2="23.60" y2="75.13" stroke="#000" stroke-width="0.8"/>
<line x1="21.80" y1="71.40" x2="23.60" y2="71.40" stroke="#000" stroke-width="0.8"/>
<line x1="21.80" y1="68.50" x2="23.60" y2="68.50" stroke="#000" stroke-width="0.8"/>
<line x1="21.80" y1="66.13" x2="23.60" y2="66.13" stroke="#000" stroke-width="0.8"/>
<line x1="21.80" y1="64.13" x2="23.60" y2="64.13" stroke="#000" stroke-width="0.8"/>
<line x1="21.80" y1="62.40" x2="23.60" y2="62.40" stroke="#000" stroke-width="0.8"/>
<line x1="21.80" y1="60.87" x2="23.60" y2="60.87" stroke="#000" stroke-width="0.8"/>
<line x1="20.00" y1="59.50" x2="23.60" y2="59.50" stroke="#000" stroke-width="1.0"/>
<text x="18.00" y="61.50" text-anchor="end" style="font-family:'Liberation Serif',serif;font-size:6.3px" textLength="10.80" lengthAdjust="spacingAndGlyphs" stroke="#000" stroke-width="0.15">1000</text>
<line x1="21.80" y1="50.74" x2="23.60" y2="50.74" stroke="#000" stroke-width="0.8"/>
<line x1="21.80" y1="45.62" x2="23.60" y2="45.62" stroke="#000" stroke-width="0.8"/>
<line x1="21.80" y1="41.98" x2="23.60" y2="41.98" stroke="#000" stroke-width="0.8"/>
<line x1="21.80" y1="39.16" x2="23.60" y2="39.16" stroke="#000" stroke-width="0.8"/>
<line x1="21.80" y1="36.86" x2="23.60" y2="36.86" stroke="#000" stroke-width="0.8"/>
<line x1="21.80" y1="34.91" x2="23.60" y2="34.91" stroke="#000" stroke-width="0.8"/>
<line x1="21.80" y1="33.22" x2="23.60" y2="33.22" stroke="#000" stroke-width="0.8"/>
<line x1="21.80" y1="31.73" x2="23.60" y2="31.73" stroke="#000" stroke-width="0.8"/>
<line x1="20.00" y1="30.40" x2="23.60" y2="30.40" stroke="#000" stroke-width="1.0"/>
<text x="18.00" y="32.40" text-anchor="end" style="font-family:'Liberation Serif',serif;font-size:6.3px" textLength="13.50" lengthAdjust="spacingAndGlyphs" stroke="#000" stroke-width="0.15">10000</text>
<line x1="23.80" y1="150.30" x2="23.80" y2="154.10" stroke="#000" stroke-width="1.0"/>
<text x="23.80" y="159.70" text-anchor="middle" style="font-family:'Liberation Serif',serif;font-size:6.3px" stroke="#000" stroke-width="0.15">1</text>
<line x1="32.83" y1="150.30" x2="32.83" y2="152.10" stroke="#000" stroke-width="0.8"/>
<line x1="38.11" y1="150.30" x2="38.11" y2="152.10" stroke="#000" stroke-width="0.8"/>
<line x1="41.86" y1="150.30" x2="41.86" y2="152.10" stroke="#000" stroke-width="0.8"/>
<line x1="44.77" y1="150.30" x2="44.77" y2="152.10" stroke="#000" stroke-width="0.8"/>
<line x1="47.14" y1="150.30" x2="47.14" y2="152.10" stroke="#000" stroke-width="0.8"/>
<line x1="49.15" y1="150.30" x2="49.15" y2="152.10" stroke="#000" stroke-width="0.8"/>
<line x1="50.89" y1="150.30" x2="50.89" y2="152.10" stroke="#000" stroke-width="0.8"/>
<line x1="52.43" y1="150.30" x2="52.43" y2="152.10" stroke="#000" stroke-width="0.8"/>
<line x1="53.80" y1="150.30" x2="53.80" y2="154.10" stroke="#000" stroke-width="1.0"/>
<text x="53.80" y="159.70" text-anchor="middle" style="font-family:'Liberation Serif',serif;font-size:6.3px" textLength="5.40" lengthAdjust="spacingAndGlyphs" stroke="#000" stroke-width="0.15">10</text>
<line x1="62.83" y1="150.30" x2="62.83" y2="152.10" stroke="#000" stroke-width="0.8"/>
<line x1="68.11" y1="150.30" x2="68.11" y2="152.10" stroke="#000" stroke-width="0.8"/>
<line x1="71.86" y1="150.30" x2="71.86" y2="152.10" stroke="#000" stroke-width="0.8"/>
<line x1="74.77" y1="150.30" x2="74.77" y2="152.10" stroke="#000" stroke-width="0.8"/>
<line x1="77.14" y1="150.30" x2="77.14" y2="152.10" stroke="#000" stroke-width="0.8"/>
<line x1="79.15" y1="150.30" x2="79.15" y2="152.10" stroke="#000" stroke-width="0.8"/>
<line x1="80.89" y1="150.30" x2="80.89" y2="152.10" stroke="#000" stroke-width="0.8"/>
<line x1="82.43" y1="150.30" x2="82.43" y2="152.10" stroke="#000" stroke-width="0.8"/>
<line x1="83.80" y1="150.30" x2="83.80" y2="154.10" stroke="#000" stroke-width="1.0"/>
<text x="83.80" y="159.70" text-anchor="middle" style="font-family:'Liberation Serif',serif;font-size:6.3px" textLength="8.10" lengthAdjust="spacingAndGlyphs" stroke="#000" stroke-width="0.15">100</text>
<line x1="92.83" y1="150.30" x2="92.83" y2="152.10" stroke="#000" stroke-width="0.8"/>
<line x1="98.11" y1="150.30" x2="98.11" y2="152.10" stroke="#000" stroke-width="0.8"/>
<line x1="101.86" y1="150.30" x2="101.86" y2="152.10" stroke="#000" stroke-width="0.8"/>
<line x1="104.77" y1="150.30" x2="104.77" y2="152.10" stroke="#000" stroke-width="0.8"/>
<line x1="107.14" y1="150.30" x2="107.14" y2="152.10" stroke="#000" stroke-width="0.8"/>
<line x1="109.15" y1="150.30" x2="109.15" y2="152.10" stroke="#000" stroke-width="0.8"/>
<line x1="110.89" y1="150.30" x2="110.89" y2="152.10" stroke="#000" stroke-width="0.8"/>
<line x1="112.43" y1="150.30" x2="112.43" y2="152.10" stroke="#000" stroke-width="0.8"/>
<line x1="113.80" y1="150.30" x2="113.80" y2="154.10" stroke="#000" stroke-width="1.0"/>
<text x="113.80" y="159.70" text-anchor="middle" style="font-family:'Liberation Serif',serif;font-size:6.3px" textLength="10.80" lengthAdjust="spacingAndGlyphs" stroke="#000" stroke-width="0.15">1000</text>
<line x1="122.83" y1="150.30" x2="122.83" y2="152.10" stroke="#000" stroke-width="0.8"/>
<line x1="128.11" y1="150.30" x2="128.11" y2="152.10" stroke="#000" stroke-width="0.8"/>
<line x1="131.86" y1="150.30" x2="131.86" y2="152.10" stroke="#000" stroke-width="0.8"/>
<line x1="134.77" y1="150.30" x2="134.77" y2="152.10" stroke="#000" stroke-width="0.8"/>
<line x1="137.14" y1="150.30" x2="137.14" y2="152.10" stroke="#000" stroke-width="0.8"/>
<line x1="139.15" y1="150.30" x2="139.15" y2="152.10" stroke="#000" stroke-width="0.8"/>
<line x1="140.89" y1="150.30" x2="140.89" y2="152.10" stroke="#000" stroke-width="0.8"/>
<line x1="142.43" y1="150.30" x2="142.43" y2="152.10" stroke="#000" stroke-width="0.8"/>
<line x1="143.80" y1="150.30" x2="143.80" y2="154.10" stroke="#000" stroke-width="1.0"/>
<text x="143.80" y="159.70" text-anchor="middle" style="font-family:'Liberation Serif',serif;font-size:6.3px" textLength="14.70" lengthAdjust="spacingAndGlyphs" stroke="#000" stroke-width="0.15">10 000</text>
<text x="24.20" y="24.70" text-anchor="start" style="font-family:'Liberation Serif',serif;font-size:11.3px" textLength="105.40" lengthAdjust="spacingAndGlyphs" stroke="#000" stroke-width="0.15">Lineage depleted (WT)</text>
<text x="6.40" y="85.20" text-anchor="middle" style="font-family:'Liberation Serif',serif;font-size:6.9px" transform="rotate(-90 6.40 85.20)" textLength="44.00" lengthAdjust="spacingAndGlyphs" stroke="#000" stroke-width="0.15">FL2-H: c-kit PE</text>
<text x="60.50" y="167.50" text-anchor="start" style="font-family:'Liberation Serif',serif;font-size:7.3px" textLength="38.90" lengthAdjust="spacingAndGlyphs">FL1-H:&#160; GFP</text>
<rect x="25.20" y="57.70" width="41.20" height="91.60" fill="none" stroke="#000" stroke-width="1.0"/>
<line x1="25.20" y1="85.90" x2="66.40" y2="85.90" stroke="#000" stroke-width="1.0"/>
<line x1="25.20" y1="109.40" x2="66.40" y2="109.40" stroke="#000" stroke-width="1.0"/>
<rect x="26.0" y="59.0" width="12.5" height="7.6" fill="#fff"/>
<text x="26.50" y="65.70" text-anchor="start" style="font-family:'Liberation Serif',serif;font-size:7.4px" textLength="11.40" lengthAdjust="spacingAndGlyphs">15.4</text>
<rect x="26.0" y="87.0" width="12.5" height="7.0" fill="#fff"/>
<text x="26.50" y="92.70" text-anchor="start" style="font-family:'Liberation Serif',serif;font-size:7.4px" textLength="11.40" lengthAdjust="spacingAndGlyphs">22.9</text>
<rect x="28.0" y="136.8" width="15.6" height="9.0" fill="#fff"/>
<text x="29.60" y="143.90" text-anchor="start" style="font-family:'Liberation Serif',serif;font-size:7.4px" textLength="12.70" lengthAdjust="spacingAndGlyphs">53.5</text>
<text x="71.80" y="71.70" style="font-family:'Liberation Serif',serif;font-size:8.9px" textLength="16.7" lengthAdjust="spacingAndGlyphs" stroke="#000" stroke-width="0.15">c-kit</text>
<text x="89.50" y="68.40" style="font-family:'Liberation Serif',serif;font-size:7.6px" textLength="6.2" lengthAdjust="spacingAndGlyphs" stroke="#000" stroke-width="0.15">hi</text>
<text x="71.80" y="101.30" style="font-family:'Liberation Serif',serif;font-size:8.9px" textLength="16.7" lengthAdjust="spacingAndGlyphs" stroke="#000" stroke-width="0.15">c-kit</text>
<text x="89.50" y="98.00" style="font-family:'Liberation Serif',serif;font-size:7.6px" textLength="6.2" lengthAdjust="spacingAndGlyphs" stroke="#000" stroke-width="0.15">lo</text>
<text x="71.80" y="133.70" style="font-family:'Liberation Serif',serif;font-size:8.9px" textLength="16.5" lengthAdjust="spacingAndGlyphs" stroke="#000" stroke-width="0.15">c-kit</text>
<text x="89.70" y="130.10" style="font-family:'Liberation Serif',serif;font-size:6.5px">-</text>
<line x1="100.00" y1="59.30" x2="156.90" y2="59.30" stroke="#000" stroke-width="1.0"/>
<line x1="100.00" y1="107.10" x2="156.90" y2="107.10" stroke="#000" stroke-width="1.0"/>
<line x1="156.90" y1="59.30" x2="156.90" y2="107.10" stroke="#000" stroke-width="1.0"/>
<line x1="156.90" y1="69.40" x2="175.50" y2="69.40" stroke="#000" stroke-width="1.0"/>
<polygon points="174.6,65.8 183.0,69.4 174.6,73.0" fill="#000"/>
<rect x="198.50" y="28.40" width="120.70" height="121.50" fill="none" stroke="#000" stroke-width="1.0"/>
<line x1="198.50" y1="28.40" x2="198.50" y2="150.40" stroke="#000" stroke-width="1.6"/>
<line x1="198.50" y1="149.90" x2="319.20" y2="149.90" stroke="#000" stroke-width="1.5"/>
<line x1="194.90" y1="149.90" x2="198.50" y2="149.90" stroke="#000" stroke-width="0.9"/>
<text x="192.90" y="151.90" text-anchor="end" style="font-family:'Liberation Serif',serif;font-size:6.3px" stroke="#000" stroke-width="0.15">0</text>
<line x1="196.70" y1="143.90" x2="198.50" y2="143.90" stroke="#000" stroke-width="0.9"/>
<line x1="196.70" y1="137.90" x2="198.50" y2="137.90" stroke="#000" stroke-width="0.9"/>
<line x1="196.70" y1="131.90" x2="198.50" y2="131.90" stroke="#000" stroke-width="0.9"/>
<line x1="194.90" y1="125.90" x2="198.50" y2="125.90" stroke="#000" stroke-width="0.9"/>
<text x="192.90" y="127.90" text-anchor="end" style="font-family:'Liberation Serif',serif;font-size:6.3px" textLength="5.40" lengthAdjust="spacingAndGlyphs" stroke="#000" stroke-width="0.15">20</text>
<line x1="196.70" y1="119.90" x2="198.50" y2="119.90" stroke="#000" stroke-width="0.9"/>
<line x1="196.70" y1="113.90" x2="198.50" y2="113.90" stroke="#000" stroke-width="0.9"/>
<line x1="196.70" y1="107.90" x2="198.50" y2="107.90" stroke="#000" stroke-width="0.9"/>
<line x1="194.90" y1="101.90" x2="198.50" y2="101.90" stroke="#000" stroke-width="0.9"/>
<text x="192.90" y="103.90" text-anchor="end" style="font-family:'Liberation Serif',serif;font-size:6.3px" textLength="5.40" lengthAdjust="spacingAndGlyphs" stroke="#000" stroke-width="0.15">40</text>
<line x1="196.70" y1="95.90" x2="198.50" y2="95.90" stroke="#000" stroke-width="0.9"/>
<line x1="196.70" y1="89.90" x2="198.50" y2="89.90" stroke="#000" stroke-width="0.9"/>
<line x1="196.70" y1="83.90" x2="198.50" y2="83.90" stroke="#000" stroke-width="0.9"/>
<line x1="194.90" y1="77.90" x2="198.50" y2="77.90" stroke="#000" stroke-width="0.9"/>
<text x="192.90" y="79.90" text-anchor="end" style="font-family:'Liberation Serif',serif;font-size:6.3px" textLength="5.40" lengthAdjust="spacingAndGlyphs" stroke="#000" stroke-width="0.15">60</text>
<line x1="196.70" y1="71.90" x2="198.50" y2="71.90" stroke="#000" stroke-width="0.9"/>
<line x1="196.70" y1="65.90" x2="198.50" y2="65.90" stroke="#000" stroke-width="0.9"/>
<line x1="196.70" y1="59.90" x2="198.50" y2="59.90" stroke="#000" stroke-width="0.9"/>
<line x1="194.90" y1="53.90" x2="198.50" y2="53.90" stroke="#000" stroke-width="0.9"/>
<text x="192.90" y="55.90" text-anchor="end" style="font-family:'Liberation Serif',serif;font-size:6.3px" textLength="5.40" lengthAdjust="spacingAndGlyphs" stroke="#000" stroke-width="0.15">80</text>
<line x1="196.70" y1="47.90" x2="198.50" y2="47.90" stroke="#000" stroke-width="0.9"/>
<line x1="196.70" y1="41.90" x2="198.50" y2="41.90" stroke="#000" stroke-width="0.9"/>
<line x1="196.70" y1="35.90" x2="198.50" y2="35.90" stroke="#000" stroke-width="0.9"/>
<line x1="194.90" y1="29.90" x2="198.50" y2="29.90" stroke="#000" stroke-width="0.9"/>
<text x="192.90" y="31.90" text-anchor="end" style="font-family:'Liberation Serif',serif;font-size:6.3px" textLength="8.10" lengthAdjust="spacingAndGlyphs" stroke="#000" stroke-width="0.15">100</text>
<line x1="198.40" y1="149.90" x2="198.40" y2="153.70" stroke="#000" stroke-width="1.0"/>
<text x="198.40" y="159.30" text-anchor="middle" style="font-family:'Liberation Serif',serif;font-size:6.3px" stroke="#000" stroke-width="0.15">1</text>
<line x1="207.43" y1="149.90" x2="207.43" y2="151.70" stroke="#000" stroke-width="0.8"/>
<line x1="212.71" y1="149.90" x2="212.71" y2="151.70" stroke="#000" stroke-width="0.8"/>
<line x1="216.46" y1="149.90" x2="216.46" y2="151.70" stroke="#000" stroke-width="0.8"/>
<line x1="219.37" y1="149.90" x2="219.37" y2="151.70" stroke="#000" stroke-width="0.8"/>
<line x1="221.74" y1="149.90" x2="221.74" y2="151.70" stroke="#000" stroke-width="0.8"/>
<line x1="223.75" y1="149.90" x2="223.75" y2="151.70" stroke="#000" stroke-width="0.8"/>
<line x1="225.49" y1="149.90" x2="225.49" y2="151.70" stroke="#000" stroke-width="0.8"/>
<line x1="227.03" y1="149.90" x2="227.03" y2="151.70" stroke="#000" stroke-width="0.8"/>
<line x1="228.40" y1="149.90" x2="228.40" y2="153.70" stroke="#000" stroke-width="1.0"/>
<text x="228.40" y="159.30" text-anchor="middle" style="font-family:'Liberation Serif',serif;font-size:6.3px" textLength="5.40" lengthAdjust="spacingAndGlyphs" stroke="#000" stroke-width="0.15">10</text>
<line x1="237.43" y1="149.90" x2="237.43" y2="151.70" stroke="#000" stroke-width="0.8"/>
<line x1="242.71" y1="149.90" x2="242.71" y2="151.70" stroke="#000" stroke-width="0.8"/>
<line x1="246.46" y1="149.90" x2="246.46" y2="151.70" stroke="#000" stroke-width="0.8"/>
<line x1="249.37" y1="149.90" x2="249.37" y2="151.70" stroke="#000" stroke-width="0.8"/>
<line x1="251.74" y1="149.90" x2="251.74" y2="151.70" stroke="#000" stroke-width="0.8"/>
<line x1="253.75" y1="149.90" x2="253.75" y2="151.70" stroke="#000" stroke-width="0.8"/>
<line x1="255.49" y1="149.90" x2="255.49" y2="151.70" stroke="#000" stroke-width="0.8"/>
<line x1="257.03" y1="149.90" x2="257.03" y2="151.70" stroke="#000" stroke-width="0.8"/>
<line x1="258.40" y1="149.90" x2="258.40" y2="153.70" stroke="#000" stroke-width="1.0"/>
<text x="258.40" y="159.30" text-anchor="middle" style="font-family:'Liberation Serif',serif;font-size:6.3px" textLength="8.10" lengthAdjust="spacingAndGlyphs" stroke="#000" stroke-width="0.15">100</text>
<line x1="267.43" y1="149.90" x2="267.43" y2="151.70" stroke="#000" stroke-width="0.8"/>
<line x1="272.71" y1="149.90" x2="272.71" y2="151.70" stroke="#000" stroke-width="0.8"/>
<line x1="276.46" y1="149.90" x2="276.46" y2="151.70" stroke="#000" stroke-width="0.8"/>
<line x1="279.37" y1="149.90" x2="279.37" y2="151.70" stroke="#000" stroke-width="0.8"/>
<line x1="281.74" y1="149.90" x2="281.74" y2="151.70" stroke="#000" stroke-width="0.8"/>
<line x1="283.75" y1="149.90" x2="283.75" y2="151.70" stroke="#000" stroke-width="0.8"/>
<line x1="285.49" y1="149.90" x2="285.49" y2="151.70" stroke="#000" stroke-width="0.8"/>
<line x1="287.03" y1="149.90" x2="287.03" y2="151.70" stroke="#000" stroke-width="0.8"/>
<line x1="288.40" y1="149.90" x2="288.40" y2="153.70" stroke="#000" stroke-width="1.0"/>
<text x="288.40" y="159.30" text-anchor="middle" style="font-family:'Liberation Serif',serif;font-size:6.3px" textLength="10.80" lengthAdjust="spacingAndGlyphs" stroke="#000" stroke-width="0.15">1000</text>
<line x1="297.43" y1="149.90" x2="297.43" y2="151.70" stroke="#000" stroke-width="0.8"/>
<line x1="302.71" y1="149.90" x2="302.71" y2="151.70" stroke="#000" stroke-width="0.8"/>
<line x1="306.46" y1="149.90" x2="306.46" y2="151.70" stroke="#000" stroke-width="0.8"/>
<line x1="309.37" y1="149.90" x2="309.37" y2="151.70" stroke="#000" stroke-width="0.8"/>
<line x1="311.74" y1="149.90" x2="311.74" y2="151.70" stroke="#000" stroke-width="0.8"/>
<line x1="313.75" y1="149.90" x2="313.75" y2="151.70" stroke="#000" stroke-width="0.8"/>
<line x1="315.49" y1="149.90" x2="315.49" y2="151.70" stroke="#000" stroke-width="0.8"/>
<line x1="317.03" y1="149.90" x2="317.03" y2="151.70" stroke="#000" stroke-width="0.8"/>
<line x1="318.40" y1="149.90" x2="318.40" y2="153.70" stroke="#000" stroke-width="1.0"/>
<text x="318.40" y="159.30" text-anchor="middle" style="font-family:'Liberation Serif',serif;font-size:6.3px" textLength="14.70" lengthAdjust="spacingAndGlyphs" stroke="#000" stroke-width="0.15">10 000</text>
<text x="197.7" y="24.3" style="font-family:'Liberation Serif',serif;font-size:11.0px" textLength="22.5" lengthAdjust="spacingAndGlyphs">c-kit</text>
<text x="221.4" y="20.0" style="font-family:'Liberation Serif',serif;font-size:6px">+</text>
<text x="228.0" y="24.3" style="font-family:'Liberation Serif',serif;font-size:11.0px" textLength="26.0" lengthAdjust="spacingAndGlyphs">(c-kit</text>
<text x="255.8" y="21.0" style="font-family:'Liberation Serif',serif;font-size:7.4px" textLength="5.4" lengthAdjust="spacingAndGlyphs">lo</text>
<text x="264.8" y="24.3" style="font-family:'Liberation Serif',serif;font-size:11.0px" textLength="40.4" lengthAdjust="spacingAndGlyphs">and c-kit</text>
<text x="307.6" y="21.0" style="font-family:'Liberation Serif',serif;font-size:7.4px" textLength="5.8" lengthAdjust="spacingAndGlyphs">hi</text>
<text x="313.7" y="24.3" style="font-family:'Liberation Serif',serif;font-size:11.0px">)</text>
<text x="185.30" y="92.80" text-anchor="middle" style="font-family:'Liberation Serif',serif;font-size:7.6px" transform="rotate(-90 185.30 92.80)" textLength="22.50" lengthAdjust="spacingAndGlyphs" stroke="#000" stroke-width="0.15">% Max</text>
<text x="235.30" y="168.30" text-anchor="start" style="font-family:'Liberation Serif',serif;font-size:7.3px" textLength="38.90" lengthAdjust="spacingAndGlyphs">FL1-H:&#160; GFP</text>
<line x1="256.50" y1="36.80" x2="272.90" y2="36.80" stroke="#000" stroke-width="1.2"/>
<line x1="256.50" y1="50.10" x2="273.50" y2="50.10" stroke="#000" stroke-width="1.2"/>
<line x1="256.5" y1="50.1" x2="273.5" y2="50.1" stroke="#fff" stroke-width="1.6" stroke-dasharray="0 3.1 1.3 3.1 1.3 3.1 1.3 3.1 1.3 10"/>
<text x="277.1" y="41.5" style="font-family:'Liberation Serif',serif;font-size:9.4px;font-style:italic" textLength="18.6" lengthAdjust="spacingAndGlyphs" stroke="#000" stroke-width="0.2">Cbfb</text>
<text x="297.5" y="38.0" style="font-family:'Liberation Sans',sans-serif;font-size:5.0px;font-style:italic;font-weight:bold" textLength="18.1" lengthAdjust="spacingAndGlyphs">+/GFP</text>
<text x="277.1" y="51.7" style="font-family:'Liberation Serif',serif;font-size:9.4px;font-style:italic" textLength="18.6" lengthAdjust="spacingAndGlyphs" stroke="#000" stroke-width="0.2">Cbfb</text>
<text x="297.5" y="49.5" style="font-family:'Liberation Sans',sans-serif;font-size:5.0px;font-style:italic;font-weight:bold" textLength="9.2" lengthAdjust="spacingAndGlyphs">+/+</text>
<polyline points="199.0,126.5 200.6,123.6 203.0,115.0 205.1,106.2 208.0,97.0 210.6,89.0 213.0,78.0 215.7,66.0 217.4,55.7 219.5,50.0 221.0,45.0 222.5,42.0 224.0,45.0 225.0,49.0 226.0,52.3 227.5,56.0 228.5,60.8 230.0,68.0 231.1,76.2 232.0,84.0 233.4,91.6 235.2,99.0 236.0,104.0 236.5,111.7 237.8,124.5 241.5,135.4 244.0,139.5 247.0,142.7 250.0,145.5 252.4,147.3 256.0,147.8 262.0,148.5 268.8,149.0" fill="none" stroke="#000" stroke-width="1.4" stroke-linejoin="round" stroke-dasharray="3.4 1.6"/>
<polyline points="198.5,148.8 205.0,149.0 210.0,148.4 214.2,146.4 218.0,144.5 221.5,141.8 225.2,135.4 228.0,126.3 231.6,115.4 235.2,104.4 238.9,93.5 240.3,86.5 242.8,79.7 244.6,64.2 246.3,47.1 247.1,38.6 248.3,42.0 249.7,46.3 251.8,48.0 253.1,60.0 254.5,53.1 255.7,58.3 257.4,67.7 258.8,88.0 260.6,106.2 263.4,124.5 266.1,137.3 269.8,145.5 274.3,148.2 280.0,149.2 319.0,149.5" fill="none" stroke="#000" stroke-width="1.6" stroke-linejoin="round"/>
<line x1="334.40" y1="57.40" x2="334.40" y2="105.60" stroke="#000" stroke-width="1.0"/>
<line x1="334.40" y1="57.40" x2="345.50" y2="57.40" stroke="#000" stroke-width="1.0"/>
<line x1="334.40" y1="105.60" x2="345.50" y2="105.60" stroke="#000" stroke-width="1.0"/>
<line x1="326.50" y1="67.40" x2="334.40" y2="67.40" stroke="#000" stroke-width="1.0"/>
<polygon points="327.4,63.8 319.6,67.4 327.4,71.0" fill="#000"/>
<rect x="386.60" y="28.30" width="121.20" height="122.00" fill="none" stroke="#000" stroke-width="1.0"/>
<line x1="386.60" y1="28.30" x2="386.60" y2="150.80" stroke="#000" stroke-width="1.6"/>
<line x1="386.60" y1="150.30" x2="507.80" y2="150.30" stroke="#000" stroke-width="1.5"/>
<line x1="383.00" y1="149.80" x2="386.60" y2="149.80" stroke="#000" stroke-width="1.0"/>
<text x="381.00" y="151.80" text-anchor="end" style="font-family:'Liberation Serif',serif;font-size:6.3px" stroke="#000" stroke-width="0.15">1</text>
<line x1="384.80" y1="140.65" x2="386.60" y2="140.65" stroke="#000" stroke-width="0.8"/>
<line x1="384.80" y1="135.30" x2="386.60" y2="135.30" stroke="#000" stroke-width="0.8"/>
<line x1="384.80" y1="131.50" x2="386.60" y2="131.50" stroke="#000" stroke-width="0.8"/>
<line x1="384.80" y1="128.55" x2="386.60" y2="128.55" stroke="#000" stroke-width="0.8"/>
<line x1="384.80" y1="126.14" x2="386.60" y2="126.14" stroke="#000" stroke-width="0.8"/>
<line x1="384.80" y1="124.11" x2="386.60" y2="124.11" stroke="#000" stroke-width="0.8"/>
<line x1="384.80" y1="122.35" x2="386.60" y2="122.35" stroke="#000" stroke-width="0.8"/>
<line x1="384.80" y1="120.79" x2="386.60" y2="120.79" stroke="#000" stroke-width="0.8"/>
<line x1="383.00" y1="119.40" x2="386.60" y2="119.40" stroke="#000" stroke-width="1.0"/>
<text x="381.00" y="121.40" text-anchor="end" style="font-family:'Liberation Serif',serif;font-size:6.3px" textLength="5.40" lengthAdjust="spacingAndGlyphs" stroke="#000" stroke-width="0.15">10</text>
<line x1="384.80" y1="110.40" x2="386.60" y2="110.40" stroke="#000" stroke-width="0.8"/>
<line x1="384.80" y1="105.13" x2="386.60" y2="105.13" stroke="#000" stroke-width="0.8"/>
<line x1="384.80" y1="101.40" x2="386.60" y2="101.40" stroke="#000" stroke-width="0.8"/>
<line x1="384.80" y1="98.50" x2="386.60" y2="98.50" stroke="#000" stroke-width="0.8"/>
<line x1="384.80" y1="96.13" x2="386.60" y2="96.13" stroke="#000" stroke-width="0.8"/>
<line x1="384.80" y1="94.13" x2="386.60" y2="94.13" stroke="#000" stroke-width="0.8"/>
<line x1="384.80" y1="92.40" x2="386.60" y2="92.40" stroke="#000" stroke-width="0.8"/>
<line x1="384.80" y1="90.87" x2="386.60" y2="90.87" stroke="#000" stroke-width="0.8"/>
<line x1="383.00" y1="89.50" x2="386.60" y2="89.50" stroke="#000" stroke-width="1.0"/>
<text x="381.00" y="91.50" text-anchor="end" style="font-family:'Liberation Serif',serif;font-size:6.3px" textLength="8.10" lengthAdjust="spacingAndGlyphs" stroke="#000" stroke-width="0.15">100</text>
<line x1="384.80" y1="80.29" x2="386.60" y2="80.29" stroke="#000" stroke-width="0.8"/>
<line x1="384.80" y1="74.90" x2="386.60" y2="74.90" stroke="#000" stroke-width="0.8"/>
<line x1="384.80" y1="71.08" x2="386.60" y2="71.08" stroke="#000" stroke-width="0.8"/>
<line x1="384.80" y1="68.11" x2="386.60" y2="68.11" stroke="#000" stroke-width="0.8"/>
<line x1="384.80" y1="65.69" x2="386.60" y2="65.69" stroke="#000" stroke-width="0.8"/>
<line x1="384.80" y1="63.64" x2="386.60" y2="63.64" stroke="#000" stroke-width="0.8"/>
<line x1="384.80" y1="61.87" x2="386.60" y2="61.87" stroke="#000" stroke-width="0.8"/>
<line x1="384.80" y1="60.30" x2="386.60" y2="60.30" stroke="#000" stroke-width="0.8"/>
<line x1="383.00" y1="58.90" x2="386.60" y2="58.90" stroke="#000" stroke-width="1.0"/>
<text x="381.00" y="60.90" text-anchor="end" style="font-family:'Liberation Serif',serif;font-size:6.3px" textLength="10.80" lengthAdjust="spacingAndGlyphs" stroke="#000" stroke-width="0.15">1000</text>
<line x1="384.80" y1="50.20" x2="386.60" y2="50.20" stroke="#000" stroke-width="0.8"/>
<line x1="384.80" y1="45.11" x2="386.60" y2="45.11" stroke="#000" stroke-width="0.8"/>
<line x1="384.80" y1="41.50" x2="386.60" y2="41.50" stroke="#000" stroke-width="0.8"/>
<line x1="384.80" y1="38.70" x2="386.60" y2="38.70" stroke="#000" stroke-width="0.8"/>
<line x1="384.80" y1="36.41" x2="386.60" y2="36.41" stroke="#000" stroke-width="0.8"/>
<line x1="384.80" y1="34.48" x2="386.60" y2="34.48" stroke="#000" stroke-width="0.8"/>
<line x1="384.80" y1="32.80" x2="386.60" y2="32.80" stroke="#000" stroke-width="0.8"/>
<line x1="384.80" y1="31.32" x2="386.60" y2="31.32" stroke="#000" stroke-width="0.8"/>
<line x1="383.00" y1="30.00" x2="386.60" y2="30.00" stroke="#000" stroke-width="1.0"/>
<text x="381.00" y="32.00" text-anchor="end" style="font-family:'Liberation Serif',serif;font-size:6.3px" textLength="13.50" lengthAdjust="spacingAndGlyphs" stroke="#000" stroke-width="0.15">10000</text>
<line x1="386.60" y1="150.30" x2="386.60" y2="154.10" stroke="#000" stroke-width="1.0"/>
<text x="386.60" y="159.70" text-anchor="middle" style="font-family:'Liberation Serif',serif;font-size:6.3px" stroke="#000" stroke-width="0.15">1</text>
<line x1="395.63" y1="150.30" x2="395.63" y2="152.10" stroke="#000" stroke-width="0.8"/>
<line x1="400.91" y1="150.30" x2="400.91" y2="152.10" stroke="#000" stroke-width="0.8"/>
<line x1="404.66" y1="150.30" x2="404.66" y2="152.10" stroke="#000" stroke-width="0.8"/>
<line x1="407.57" y1="150.30" x2="407.57" y2="152.10" stroke="#000" stroke-width="0.8"/>
<line x1="409.94" y1="150.30" x2="409.94" y2="152.10" stroke="#000" stroke-width="0.8"/>
<line x1="411.95" y1="150.30" x2="411.95" y2="152.10" stroke="#000" stroke-width="0.8"/>
<line x1="413.69" y1="150.30" x2="413.69" y2="152.10" stroke="#000" stroke-width="0.8"/>
<line x1="415.23" y1="150.30" x2="415.23" y2="152.10" stroke="#000" stroke-width="0.8"/>
<line x1="416.60" y1="150.30" x2="416.60" y2="154.10" stroke="#000" stroke-width="1.0"/>
<text x="416.60" y="159.70" text-anchor="middle" style="font-family:'Liberation Serif',serif;font-size:6.3px" textLength="5.40" lengthAdjust="spacingAndGlyphs" stroke="#000" stroke-width="0.15">10</text>
<line x1="425.63" y1="150.30" x2="425.63" y2="152.10" stroke="#000" stroke-width="0.8"/>
<line x1="430.91" y1="150.30" x2="430.91" y2="152.10" stroke="#000" stroke-width="0.8"/>
<line x1="434.66" y1="150.30" x2="434.66" y2="152.10" stroke="#000" stroke-width="0.8"/>
<line x1="437.57" y1="150.30" x2="437.57" y2="152.10" stroke="#000" stroke-width="0.8"/>
<line x1="439.94" y1="150.30" x2="439.94" y2="152.10" stroke="#000" stroke-width="0.8"/>
<line x1="441.95" y1="150.30" x2="441.95" y2="152.10" stroke="#000" stroke-width="0.8"/>
<line x1="443.69" y1="150.30" x2="443.69" y2="152.10" stroke="#000" stroke-width="0.8"/>
<line x1="445.23" y1="150.30" x2="445.23" y2="152.10" stroke="#000" stroke-width="0.8"/>
<line x1="446.60" y1="150.30" x2="446.60" y2="154.10" stroke="#000" stroke-width="1.0"/>
<text x="446.60" y="159.70" text-anchor="middle" style="font-family:'Liberation Serif',serif;font-size:6.3px" textLength="8.10" lengthAdjust="spacingAndGlyphs" stroke="#000" stroke-width="0.15">100</text>
<line x1="455.63" y1="150.30" x2="455.63" y2="152.10" stroke="#000" stroke-width="0.8"/>
<line x1="460.91" y1="150.30" x2="460.91" y2="152.10" stroke="#000" stroke-width="0.8"/>
<line x1="464.66" y1="150.30" x2="464.66" y2="152.10" stroke="#000" stroke-width="0.8"/>
<line x1="467.57" y1="150.30" x2="467.57" y2="152.10" stroke="#000" stroke-width="0.8"/>
<line x1="469.94" y1="150.30" x2="469.94" y2="152.10" stroke="#000" stroke-width="0.8"/>
<line x1="471.95" y1="150.30" x2="471.95" y2="152.10" stroke="#000" stroke-width="0.8"/>
<line x1="473.69" y1="150.30" x2="473.69" y2="152.10" stroke="#000" stroke-width="0.8"/>
<line x1="475.23" y1="150.30" x2="475.23" y2="152.10" stroke="#000" stroke-width="0.8"/>
<line x1="476.60" y1="150.30" x2="476.60" y2="154.10" stroke="#000" stroke-width="1.0"/>
<text x="476.60" y="159.70" text-anchor="middle" style="font-family:'Liberation Serif',serif;font-size:6.3px" textLength="10.80" lengthAdjust="spacingAndGlyphs" stroke="#000" stroke-width="0.15">1000</text>
<line x1="485.63" y1="150.30" x2="485.63" y2="152.10" stroke="#000" stroke-width="0.8"/>
<line x1="490.91" y1="150.30" x2="490.91" y2="152.10" stroke="#000" stroke-width="0.8"/>
<line x1="494.66" y1="150.30" x2="494.66" y2="152.10" stroke="#000" stroke-width="0.8"/>
<line x1="497.57" y1="150.30" x2="497.57" y2="152.10" stroke="#000" stroke-width="0.8"/>
<line x1="499.94" y1="150.30" x2="499.94" y2="152.10" stroke="#000" stroke-width="0.8"/>
<line x1="501.95" y1="150.30" x2="501.95" y2="152.10" stroke="#000" stroke-width="0.8"/>
<line x1="503.69" y1="150.30" x2="503.69" y2="152.10" stroke="#000" stroke-width="0.8"/>
<line x1="505.23" y1="150.30" x2="505.23" y2="152.10" stroke="#000" stroke-width="0.8"/>
<line x1="506.60" y1="150.30" x2="506.60" y2="154.10" stroke="#000" stroke-width="1.0"/>
<text x="506.60" y="159.70" text-anchor="middle" style="font-family:'Liberation Serif',serif;font-size:6.3px" textLength="14.70" lengthAdjust="spacingAndGlyphs" stroke="#000" stroke-width="0.15">10 000</text>
<text x="389.60" y="24.30" text-anchor="start" style="font-family:'Liberation Serif',serif;font-size:11.3px" textLength="107.70" lengthAdjust="spacingAndGlyphs" stroke="#000" stroke-width="0.15">Lineage depleted (GFP)</text>
<text x="519.00" y="88.00" text-anchor="middle" style="font-family:'Liberation Serif',serif;font-size:6.9px" transform="rotate(-90 519.00 88.00)" textLength="43.00" lengthAdjust="spacingAndGlyphs" stroke="#000" stroke-width="0.15">FL2-H: c-kit PE</text>
<text x="420.40" y="167.90" text-anchor="start" style="font-family:'Liberation Serif',serif;font-size:7.3px" textLength="38.90" lengthAdjust="spacingAndGlyphs">FL1-H:&#160; GFP</text>
<rect x="387.80" y="57.20" width="96.80" height="92.10" fill="none" stroke="#000" stroke-width="1.0"/>
<line x1="387.80" y1="86.10" x2="484.60" y2="86.10" stroke="#000" stroke-width="1.0"/>
<line x1="387.80" y1="109.40" x2="484.60" y2="109.40" stroke="#000" stroke-width="1.0"/>
<line x1="428.70" y1="57.20" x2="428.70" y2="149.30" stroke="#000" stroke-width="1.0"/>
<text x="388.90" y="63.70" text-anchor="start" style="font-family:'Liberation Serif',serif;font-size:7.4px" textLength="11.30" lengthAdjust="spacingAndGlyphs">4.69</text>
<text x="482.60" y="63.80" text-anchor="end" style="font-family:'Liberation Serif',serif;font-size:7.4px" textLength="12.20" lengthAdjust="spacingAndGlyphs">10.9</text>
<text x="388.90" y="91.90" text-anchor="start" style="font-family:'Liberation Serif',serif;font-size:7.4px" textLength="11.50" lengthAdjust="spacingAndGlyphs">6.35</text>
<text x="482.60" y="92.70" text-anchor="end" style="font-family:'Liberation Serif',serif;font-size:7.4px" textLength="11.60" lengthAdjust="spacingAndGlyphs">17.8</text>
<rect x="391.5" y="137.5" width="14.0" height="7.8" fill="#fff"/>
<text x="392.20" y="143.90" text-anchor="start" style="font-family:'Liberation Serif',serif;font-size:7.4px" textLength="12.60" lengthAdjust="spacingAndGlyphs">16.9</text>
<text x="483.20" y="147.10" text-anchor="end" style="font-family:'Liberation Serif',serif;font-size:7.4px" textLength="11.00" lengthAdjust="spacingAndGlyphs">38.5</text>
<text x="340.70" y="71.40" style="font-family:'Liberation Serif',serif;font-size:8.9px" textLength="16.7" lengthAdjust="spacingAndGlyphs" stroke="#000" stroke-width="0.15">c-kit</text>
<text x="358.40" y="68.10" style="font-family:'Liberation Serif',serif;font-size:7.6px" textLength="6.2" lengthAdjust="spacingAndGlyphs" stroke="#000" stroke-width="0.15">hi</text>
<text x="340.70" y="101.30" style="font-family:'Liberation Serif',serif;font-size:8.9px" textLength="16.7" lengthAdjust="spacingAndGlyphs" stroke="#000" stroke-width="0.15">c-kit</text>
<text x="358.40" y="98.00" style="font-family:'Liberation Serif',serif;font-size:7.6px" textLength="6.2" lengthAdjust="spacingAndGlyphs" stroke="#000" stroke-width="0.15">lo</text>
<text x="340.70" y="133.70" style="font-family:'Liberation Serif',serif;font-size:8.9px" textLength="16.5" lengthAdjust="spacingAndGlyphs" stroke="#000" stroke-width="0.15">c-kit</text>
<text x="358.60" y="130.10" style="font-family:'Liberation Serif',serif;font-size:6.5px">-</text>
<rect x="24.00" y="207.80" width="121.50" height="122.40" fill="none" stroke="#000" stroke-width="1.0"/>
<line x1="24.00" y1="207.80" x2="24.00" y2="330.70" stroke="#000" stroke-width="1.5"/>
<line x1="24.00" y1="330.20" x2="145.50" y2="330.20" stroke="#000" stroke-width="1.4"/>
<line x1="20.40" y1="330.30" x2="24.00" y2="330.30" stroke="#000" stroke-width="1.0"/>
<text x="18.40" y="332.30" text-anchor="end" style="font-family:'Liberation Serif',serif;font-size:6.3px" stroke="#000" stroke-width="0.15">1</text>
<line x1="22.20" y1="321.06" x2="24.00" y2="321.06" stroke="#000" stroke-width="0.8"/>
<line x1="22.20" y1="315.65" x2="24.00" y2="315.65" stroke="#000" stroke-width="0.8"/>
<line x1="22.20" y1="311.82" x2="24.00" y2="311.82" stroke="#000" stroke-width="0.8"/>
<line x1="22.20" y1="308.84" x2="24.00" y2="308.84" stroke="#000" stroke-width="0.8"/>
<line x1="22.20" y1="306.41" x2="24.00" y2="306.41" stroke="#000" stroke-width="0.8"/>
<line x1="22.20" y1="304.36" x2="24.00" y2="304.36" stroke="#000" stroke-width="0.8"/>
<line x1="22.20" y1="302.58" x2="24.00" y2="302.58" stroke="#000" stroke-width="0.8"/>
<line x1="22.20" y1="301.00" x2="24.00" y2="301.00" stroke="#000" stroke-width="0.8"/>
<line x1="20.40" y1="299.60" x2="24.00" y2="299.60" stroke="#000" stroke-width="1.0"/>
<text x="18.40" y="301.60" text-anchor="end" style="font-family:'Liberation Serif',serif;font-size:6.3px" textLength="5.40" lengthAdjust="spacingAndGlyphs" stroke="#000" stroke-width="0.15">10</text>
<line x1="22.20" y1="290.45" x2="24.00" y2="290.45" stroke="#000" stroke-width="0.8"/>
<line x1="22.20" y1="285.10" x2="24.00" y2="285.10" stroke="#000" stroke-width="0.8"/>
<line x1="22.20" y1="281.30" x2="24.00" y2="281.30" stroke="#000" stroke-width="0.8"/>
<line x1="22.20" y1="278.35" x2="24.00" y2="278.35" stroke="#000" stroke-width="0.8"/>
<line x1="22.20" y1="275.94" x2="24.00" y2="275.94" stroke="#000" stroke-width="0.8"/>
<line x1="22.20" y1="273.91" x2="24.00" y2="273.91" stroke="#000" stroke-width="0.8"/>
<line x1="22.20" y1="272.15" x2="24.00" y2="272.15" stroke="#000" stroke-width="0.8"/>
<line x1="22.20" y1="270.59" x2="24.00" y2="270.59" stroke="#000" stroke-width="0.8"/>
<line x1="20.40" y1="269.20" x2="24.00" y2="269.20" stroke="#000" stroke-width="1.0"/>
<text x="18.40" y="271.20" text-anchor="end" style="font-family:'Liberation Serif',serif;font-size:6.3px" textLength="8.10" lengthAdjust="spacingAndGlyphs" stroke="#000" stroke-width="0.15">100</text>
<line x1="22.20" y1="260.08" x2="24.00" y2="260.08" stroke="#000" stroke-width="0.8"/>
<line x1="22.20" y1="254.74" x2="24.00" y2="254.74" stroke="#000" stroke-width="0.8"/>
<line x1="22.20" y1="250.96" x2="24.00" y2="250.96" stroke="#000" stroke-width="0.8"/>
<line x1="22.20" y1="248.02" x2="24.00" y2="248.02" stroke="#000" stroke-width="0.8"/>
<line x1="22.20" y1="245.62" x2="24.00" y2="245.62" stroke="#000" stroke-width="0.8"/>
<line x1="22.20" y1="243.59" x2="24.00" y2="243.59" stroke="#000" stroke-width="0.8"/>
<line x1="22.20" y1="241.84" x2="24.00" y2="241.84" stroke="#000" stroke-width="0.8"/>
<line x1="22.20" y1="240.29" x2="24.00" y2="240.29" stroke="#000" stroke-width="0.8"/>
<line x1="20.40" y1="238.90" x2="24.00" y2="238.90" stroke="#000" stroke-width="1.0"/>
<text x="18.40" y="240.90" text-anchor="end" style="font-family:'Liberation Serif',serif;font-size:6.3px" textLength="10.80" lengthAdjust="spacingAndGlyphs" stroke="#000" stroke-width="0.15">1000</text>
<line x1="22.20" y1="230.20" x2="24.00" y2="230.20" stroke="#000" stroke-width="0.8"/>
<line x1="22.20" y1="225.11" x2="24.00" y2="225.11" stroke="#000" stroke-width="0.8"/>
<line x1="22.20" y1="221.50" x2="24.00" y2="221.50" stroke="#000" stroke-width="0.8"/>
<line x1="22.20" y1="218.70" x2="24.00" y2="218.70" stroke="#000" stroke-width="0.8"/>
<line x1="22.20" y1="216.41" x2="24.00" y2="216.41" stroke="#000" stroke-width="0.8"/>
<line x1="22.20" y1="214.48" x2="24.00" y2="214.48" stroke="#000" stroke-width="0.8"/>
<line x1="22.20" y1="212.80" x2="24.00" y2="212.80" stroke="#000" stroke-width="0.8"/>
<line x1="22.20" y1="211.32" x2="24.00" y2="211.32" stroke="#000" stroke-width="0.8"/>
<line x1="20.40" y1="210.00" x2="24.00" y2="210.00" stroke="#000" stroke-width="1.0"/>
<text x="18.40" y="212.00" text-anchor="end" style="font-family:'Liberation Serif',serif;font-size:6.3px" textLength="13.50" lengthAdjust="spacingAndGlyphs" stroke="#000" stroke-width="0.15">10000</text>
<line x1="24.30" y1="330.20" x2="24.30" y2="334.00" stroke="#000" stroke-width="0.9"/>
<text x="24.30" y="339.60" text-anchor="middle" style="font-family:'Liberation Serif',serif;font-size:6.3px" stroke="#000" stroke-width="0.15">0</text>
<line x1="30.19" y1="330.20" x2="30.19" y2="332.00" stroke="#000" stroke-width="0.9"/>
<line x1="36.08" y1="330.20" x2="36.08" y2="332.00" stroke="#000" stroke-width="0.9"/>
<line x1="41.97" y1="330.20" x2="41.97" y2="332.00" stroke="#000" stroke-width="0.9"/>
<line x1="47.86" y1="330.20" x2="47.86" y2="334.00" stroke="#000" stroke-width="0.9"/>
<text x="47.86" y="339.60" text-anchor="middle" style="font-family:'Liberation Serif',serif;font-size:6.3px" textLength="8.10" lengthAdjust="spacingAndGlyphs" stroke="#000" stroke-width="0.15">200</text>
<line x1="53.75" y1="330.20" x2="53.75" y2="332.00" stroke="#000" stroke-width="0.9"/>
<line x1="59.64" y1="330.20" x2="59.64" y2="332.00" stroke="#000" stroke-width="0.9"/>
<line x1="65.53" y1="330.20" x2="65.53" y2="332.00" stroke="#000" stroke-width="0.9"/>
<line x1="71.42" y1="330.20" x2="71.42" y2="334.00" stroke="#000" stroke-width="0.9"/>
<text x="71.42" y="339.60" text-anchor="middle" style="font-family:'Liberation Serif',serif;font-size:6.3px" textLength="8.10" lengthAdjust="spacingAndGlyphs" stroke="#000" stroke-width="0.15">400</text>
<line x1="77.31" y1="330.20" x2="77.31" y2="332.00" stroke="#000" stroke-width="0.9"/>
<line x1="83.20" y1="330.20" x2="83.20" y2="332.00" stroke="#000" stroke-width="0.9"/>
<line x1="89.09" y1="330.20" x2="89.09" y2="332.00" stroke="#000" stroke-width="0.9"/>
<line x1="94.98" y1="330.20" x2="94.98" y2="334.00" stroke="#000" stroke-width="0.9"/>
<text x="94.98" y="339.60" text-anchor="middle" style="font-family:'Liberation Serif',serif;font-size:6.3px" textLength="8.10" lengthAdjust="spacingAndGlyphs" stroke="#000" stroke-width="0.15">600</text>
<line x1="100.87" y1="330.20" x2="100.87" y2="332.00" stroke="#000" stroke-width="0.9"/>
<line x1="106.76" y1="330.20" x2="106.76" y2="332.00" stroke="#000" stroke-width="0.9"/>
<line x1="112.65" y1="330.20" x2="112.65" y2="332.00" stroke="#000" stroke-width="0.9"/>
<line x1="118.54" y1="330.20" x2="118.54" y2="334.00" stroke="#000" stroke-width="0.9"/>
<text x="118.54" y="339.60" text-anchor="middle" style="font-family:'Liberation Serif',serif;font-size:6.3px" textLength="8.10" lengthAdjust="spacingAndGlyphs" stroke="#000" stroke-width="0.15">800</text>
<line x1="124.43" y1="330.20" x2="124.43" y2="332.00" stroke="#000" stroke-width="0.9"/>
<line x1="130.32" y1="330.20" x2="130.32" y2="332.00" stroke="#000" stroke-width="0.9"/>
<line x1="136.21" y1="330.20" x2="136.21" y2="332.00" stroke="#000" stroke-width="0.9"/>
<line x1="142.10" y1="330.20" x2="142.10" y2="334.00" stroke="#000" stroke-width="0.9"/>
<text x="142.10" y="339.60" text-anchor="middle" style="font-family:'Liberation Serif',serif;font-size:6.3px" textLength="10.80" lengthAdjust="spacingAndGlyphs" stroke="#000" stroke-width="0.15">1000</text>
<text x="24.90" y="204.00" text-anchor="start" style="font-family:'Liberation Serif',serif;font-size:11.1px" textLength="64.00" lengthAdjust="spacingAndGlyphs" stroke="#000" stroke-width="0.15">Unsorted cells</text>
<text x="44.90" y="349.70" text-anchor="start" style="font-family:'Liberation Serif',serif;font-size:7.5px" textLength="75.40" lengthAdjust="spacingAndGlyphs" stroke="#000" stroke-width="0.15">FSC-H: Forward Scatter</text>
<rect x="26.80" y="236.00" width="102.90" height="46.20" fill="none" stroke="#000" stroke-width="0.9"/>
<rect x="26.80" y="284.40" width="102.90" height="44.80" fill="none" stroke="#000" stroke-width="0.9"/>
<text x="107.70" y="243.50" text-anchor="start" style="font-family:'Liberation Serif',serif;font-size:7.4px" textLength="13.00" lengthAdjust="spacingAndGlyphs">62.8</text>
<text x="106.50" y="326.00" text-anchor="start" style="font-family:'Liberation Serif',serif;font-size:7.4px" textLength="12.40" lengthAdjust="spacingAndGlyphs">33.7</text>
<text x="7.00" y="265.80" text-anchor="middle" style="font-family:'Liberation Serif',serif;font-size:7.3px" transform="rotate(-90 7.00 265.80)" textLength="37.00" lengthAdjust="spacingAndGlyphs" stroke="#000" stroke-width="0.1">FL1-H: GFP</text>
<rect x="199.40" y="207.80" width="121.10" height="122.40" fill="none" stroke="#000" stroke-width="1.0"/>
<line x1="199.40" y1="207.80" x2="199.40" y2="330.70" stroke="#000" stroke-width="1.5"/>
<line x1="199.40" y1="330.20" x2="320.50" y2="330.20" stroke="#000" stroke-width="1.4"/>
<line x1="195.80" y1="330.30" x2="199.40" y2="330.30" stroke="#000" stroke-width="1.0"/>
<text x="193.80" y="332.30" text-anchor="end" style="font-family:'Liberation Serif',serif;font-size:6.3px" stroke="#000" stroke-width="0.15">1</text>
<line x1="197.60" y1="321.06" x2="199.40" y2="321.06" stroke="#000" stroke-width="0.8"/>
<line x1="197.60" y1="315.65" x2="199.40" y2="315.65" stroke="#000" stroke-width="0.8"/>
<line x1="197.60" y1="311.82" x2="199.40" y2="311.82" stroke="#000" stroke-width="0.8"/>
<line x1="197.60" y1="308.84" x2="199.40" y2="308.84" stroke="#000" stroke-width="0.8"/>
<line x1="197.60" y1="306.41" x2="199.40" y2="306.41" stroke="#000" stroke-width="0.8"/>
<line x1="197.60" y1="304.36" x2="199.40" y2="304.36" stroke="#000" stroke-width="0.8"/>
<line x1="197.60" y1="302.58" x2="199.40" y2="302.58" stroke="#000" stroke-width="0.8"/>
<line x1="197.60" y1="301.00" x2="199.40" y2="301.00" stroke="#000" stroke-width="0.8"/>
<line x1="195.80" y1="299.60" x2="199.40" y2="299.60" stroke="#000" stroke-width="1.0"/>
<text x="193.80" y="301.60" text-anchor="end" style="font-family:'Liberation Serif',serif;font-size:6.3px" textLength="5.40" lengthAdjust="spacingAndGlyphs" stroke="#000" stroke-width="0.15">10</text>
<line x1="197.60" y1="290.45" x2="199.40" y2="290.45" stroke="#000" stroke-width="0.8"/>
<line x1="197.60" y1="285.10" x2="199.40" y2="285.10" stroke="#000" stroke-width="0.8"/>
<line x1="197.60" y1="281.30" x2="199.40" y2="281.30" stroke="#000" stroke-width="0.8"/>
<line x1="197.60" y1="278.35" x2="199.40" y2="278.35" stroke="#000" stroke-width="0.8"/>
<line x1="197.60" y1="275.94" x2="199.40" y2="275.94" stroke="#000" stroke-width="0.8"/>
<line x1="197.60" y1="273.91" x2="199.40" y2="273.91" stroke="#000" stroke-width="0.8"/>
<line x1="197.60" y1="272.15" x2="199.40" y2="272.15" stroke="#000" stroke-width="0.8"/>
<line x1="197.60" y1="270.59" x2="199.40" y2="270.59" stroke="#000" stroke-width="0.8"/>
<line x1="195.80" y1="269.20" x2="199.40" y2="269.20" stroke="#000" stroke-width="1.0"/>
<text x="193.80" y="271.20" text-anchor="end" style="font-family:'Liberation Serif',serif;font-size:6.3px" textLength="8.10" lengthAdjust="spacingAndGlyphs" stroke="#000" stroke-width="0.15">100</text>
<line x1="197.60" y1="260.08" x2="199.40" y2="260.08" stroke="#000" stroke-width="0.8"/>
<line x1="197.60" y1="254.74" x2="199.40" y2="254.74" stroke="#000" stroke-width="0.8"/>
<line x1="197.60" y1="250.96" x2="199.40" y2="250.96" stroke="#000" stroke-width="0.8"/>
<line x1="197.60" y1="248.02" x2="199.40" y2="248.02" stroke="#000" stroke-width="0.8"/>
<line x1="197.60" y1="245.62" x2="199.40" y2="245.62" stroke="#000" stroke-width="0.8"/>
<line x1="197.60" y1="243.59" x2="199.40" y2="243.59" stroke="#000" stroke-width="0.8"/>
<line x1="197.60" y1="241.84" x2="199.40" y2="241.84" stroke="#000" stroke-width="0.8"/>
<line x1="197.60" y1="240.29" x2="199.40" y2="240.29" stroke="#000" stroke-width="0.8"/>
<line x1="195.80" y1="238.90" x2="199.40" y2="238.90" stroke="#000" stroke-width="1.0"/>
<text x="193.80" y="240.90" text-anchor="end" style="font-family:'Liberation Serif',serif;font-size:6.3px" textLength="10.80" lengthAdjust="spacingAndGlyphs" stroke="#000" stroke-width="0.15">1000</text>
<line x1="197.60" y1="230.20" x2="199.40" y2="230.20" stroke="#000" stroke-width="0.8"/>
<line x1="197.60" y1="225.11" x2="199.40" y2="225.11" stroke="#000" stroke-width="0.8"/>
<line x1="197.60" y1="221.50" x2="199.40" y2="221.50" stroke="#000" stroke-width="0.8"/>
<line x1="197.60" y1="218.70" x2="199.40" y2="218.70" stroke="#000" stroke-width="0.8"/>
<line x1="197.60" y1="216.41" x2="199.40" y2="216.41" stroke="#000" stroke-width="0.8"/>
<line x1="197.60" y1="214.48" x2="199.40" y2="214.48" stroke="#000" stroke-width="0.8"/>
<line x1="197.60" y1="212.80" x2="199.40" y2="212.80" stroke="#000" stroke-width="0.8"/>
<line x1="197.60" y1="211.32" x2="199.40" y2="211.32" stroke="#000" stroke-width="0.8"/>
<line x1="195.80" y1="210.00" x2="199.40" y2="210.00" stroke="#000" stroke-width="1.0"/>
<text x="193.80" y="212.00" text-anchor="end" style="font-family:'Liberation Serif',serif;font-size:6.3px" textLength="13.50" lengthAdjust="spacingAndGlyphs" stroke="#000" stroke-width="0.15">10000</text>
<line x1="199.70" y1="330.20" x2="199.70" y2="334.00" stroke="#000" stroke-width="0.9"/>
<text x="199.70" y="339.60" text-anchor="middle" style="font-family:'Liberation Serif',serif;font-size:6.3px" stroke="#000" stroke-width="0.15">0</text>
<line x1="205.55" y1="330.20" x2="205.55" y2="332.00" stroke="#000" stroke-width="0.9"/>
<line x1="211.39" y1="330.20" x2="211.39" y2="332.00" stroke="#000" stroke-width="0.9"/>
<line x1="217.24" y1="330.20" x2="217.24" y2="332.00" stroke="#000" stroke-width="0.9"/>
<line x1="223.08" y1="330.20" x2="223.08" y2="334.00" stroke="#000" stroke-width="0.9"/>
<text x="223.08" y="339.60" text-anchor="middle" style="font-family:'Liberation Serif',serif;font-size:6.3px" textLength="8.10" lengthAdjust="spacingAndGlyphs" stroke="#000" stroke-width="0.15">200</text>
<line x1="228.93" y1="330.20" x2="228.93" y2="332.00" stroke="#000" stroke-width="0.9"/>
<line x1="234.77" y1="330.20" x2="234.77" y2="332.00" stroke="#000" stroke-width="0.9"/>
<line x1="240.62" y1="330.20" x2="240.62" y2="332.00" stroke="#000" stroke-width="0.9"/>
<line x1="246.46" y1="330.20" x2="246.46" y2="334.00" stroke="#000" stroke-width="0.9"/>
<text x="246.46" y="339.60" text-anchor="middle" style="font-family:'Liberation Serif',serif;font-size:6.3px" textLength="8.10" lengthAdjust="spacingAndGlyphs" stroke="#000" stroke-width="0.15">400</text>
<line x1="252.31" y1="330.20" x2="252.31" y2="332.00" stroke="#000" stroke-width="0.9"/>
<line x1="258.15" y1="330.20" x2="258.15" y2="332.00" stroke="#000" stroke-width="0.9"/>
<line x1="264.00" y1="330.20" x2="264.00" y2="332.00" stroke="#000" stroke-width="0.9"/>
<line x1="269.84" y1="330.20" x2="269.84" y2="334.00" stroke="#000" stroke-width="0.9"/>
<text x="269.84" y="339.60" text-anchor="middle" style="font-family:'Liberation Serif',serif;font-size:6.3px" textLength="8.10" lengthAdjust="spacingAndGlyphs" stroke="#000" stroke-width="0.15">600</text>
<line x1="275.69" y1="330.20" x2="275.69" y2="332.00" stroke="#000" stroke-width="0.9"/>
<line x1="281.53" y1="330.20" x2="281.53" y2="332.00" stroke="#000" stroke-width="0.9"/>
<line x1="287.38" y1="330.20" x2="287.38" y2="332.00" stroke="#000" stroke-width="0.9"/>
<line x1="293.22" y1="330.20" x2="293.22" y2="334.00" stroke="#000" stroke-width="0.9"/>
<text x="293.22" y="339.60" text-anchor="middle" style="font-family:'Liberation Serif',serif;font-size:6.3px" textLength="8.10" lengthAdjust="spacingAndGlyphs" stroke="#000" stroke-width="0.15">800</text>
<line x1="299.06" y1="330.20" x2="299.06" y2="332.00" stroke="#000" stroke-width="0.9"/>
<line x1="304.91" y1="330.20" x2="304.91" y2="332.00" stroke="#000" stroke-width="0.9"/>
<line x1="310.75" y1="330.20" x2="310.75" y2="332.00" stroke="#000" stroke-width="0.9"/>
<line x1="316.60" y1="330.20" x2="316.60" y2="334.00" stroke="#000" stroke-width="0.9"/>
<text x="316.60" y="339.60" text-anchor="middle" style="font-family:'Liberation Serif',serif;font-size:6.3px" textLength="10.80" lengthAdjust="spacingAndGlyphs" stroke="#000" stroke-width="0.15">1000</text>
<text x="199.70" y="204.00" text-anchor="start" style="font-family:'Liberation Serif',serif;font-size:11.1px" textLength="53.20" lengthAdjust="spacingAndGlyphs" stroke="#000" stroke-width="0.15">GFP + cells</text>
<text x="218.30" y="349.70" text-anchor="start" style="font-family:'Liberation Serif',serif;font-size:7.5px" textLength="75.40" lengthAdjust="spacingAndGlyphs" stroke="#000" stroke-width="0.15">FSC-H: Forward Scatter</text>
<rect x="202.20" y="236.00" width="102.20" height="46.20" fill="none" stroke="#000" stroke-width="0.9"/>
<rect x="202.20" y="284.40" width="102.20" height="44.80" fill="none" stroke="#000" stroke-width="0.9"/>
<text x="283.80" y="243.50" text-anchor="start" style="font-family:'Liberation Serif',serif;font-size:7.4px" textLength="12.40" lengthAdjust="spacingAndGlyphs">87.3</text>
<text x="281.00" y="326.00" text-anchor="start" style="font-family:'Liberation Serif',serif;font-size:7.4px" textLength="9.50" lengthAdjust="spacingAndGlyphs">9.0</text>
<rect x="387.50" y="207.80" width="121.50" height="122.40" fill="none" stroke="#000" stroke-width="1.0"/>
<line x1="387.50" y1="207.80" x2="387.50" y2="330.70" stroke="#000" stroke-width="1.5"/>
<line x1="387.50" y1="330.20" x2="509.00" y2="330.20" stroke="#000" stroke-width="1.4"/>
<line x1="383.90" y1="330.30" x2="387.50" y2="330.30" stroke="#000" stroke-width="1.0"/>
<text x="381.90" y="332.30" text-anchor="end" style="font-family:'Liberation Serif',serif;font-size:6.3px" stroke="#000" stroke-width="0.15">1</text>
<line x1="385.70" y1="321.06" x2="387.50" y2="321.06" stroke="#000" stroke-width="0.8"/>
<line x1="385.70" y1="315.65" x2="387.50" y2="315.65" stroke="#000" stroke-width="0.8"/>
<line x1="385.70" y1="311.82" x2="387.50" y2="311.82" stroke="#000" stroke-width="0.8"/>
<line x1="385.70" y1="308.84" x2="387.50" y2="308.84" stroke="#000" stroke-width="0.8"/>
<line x1="385.70" y1="306.41" x2="387.50" y2="306.41" stroke="#000" stroke-width="0.8"/>
<line x1="385.70" y1="304.36" x2="387.50" y2="304.36" stroke="#000" stroke-width="0.8"/>
<line x1="385.70" y1="302.58" x2="387.50" y2="302.58" stroke="#000" stroke-width="0.8"/>
<line x1="385.70" y1="301.00" x2="387.50" y2="301.00" stroke="#000" stroke-width="0.8"/>
<line x1="383.90" y1="299.60" x2="387.50" y2="299.60" stroke="#000" stroke-width="1.0"/>
<text x="381.90" y="301.60" text-anchor="end" style="font-family:'Liberation Serif',serif;font-size:6.3px" textLength="5.40" lengthAdjust="spacingAndGlyphs" stroke="#000" stroke-width="0.15">10</text>
<line x1="385.70" y1="290.45" x2="387.50" y2="290.45" stroke="#000" stroke-width="0.8"/>
<line x1="385.70" y1="285.10" x2="387.50" y2="285.10" stroke="#000" stroke-width="0.8"/>
<line x1="385.70" y1="281.30" x2="387.50" y2="281.30" stroke="#000" stroke-width="0.8"/>
<line x1="385.70" y1="278.35" x2="387.50" y2="278.35" stroke="#000" stroke-width="0.8"/>
<line x1="385.70" y1="275.94" x2="387.50" y2="275.94" stroke="#000" stroke-width="0.8"/>
<line x1="385.70" y1="273.91" x2="387.50" y2="273.91" stroke="#000" stroke-width="0.8"/>
<line x1="385.70" y1="272.15" x2="387.50" y2="272.15" stroke="#000" stroke-width="0.8"/>
<line x1="385.70" y1="270.59" x2="387.50" y2="270.59" stroke="#000" stroke-width="0.8"/>
<line x1="383.90" y1="269.20" x2="387.50" y2="269.20" stroke="#000" stroke-width="1.0"/>
<text x="381.90" y="271.20" text-anchor="end" style="font-family:'Liberation Serif',serif;font-size:6.3px" textLength="8.10" lengthAdjust="spacingAndGlyphs" stroke="#000" stroke-width="0.15">100</text>
<line x1="385.70" y1="260.08" x2="387.50" y2="260.08" stroke="#000" stroke-width="0.8"/>
<line x1="385.70" y1="254.74" x2="387.50" y2="254.74" stroke="#000" stroke-width="0.8"/>
<line x1="385.70" y1="250.96" x2="387.50" y2="250.96" stroke="#000" stroke-width="0.8"/>
<line x1="385.70" y1="248.02" x2="387.50" y2="248.02" stroke="#000" stroke-width="0.8"/>
<line x1="385.70" y1="245.62" x2="387.50" y2="245.62" stroke="#000" stroke-width="0.8"/>
<line x1="385.70" y1="243.59" x2="387.50" y2="243.59" stroke="#000" stroke-width="0.8"/>
<line x1="385.70" y1="241.84" x2="387.50" y2="241.84" stroke="#000" stroke-width="0.8"/>
<line x1="385.70" y1="240.29" x2="387.50" y2="240.29" stroke="#000" stroke-width="0.8"/>
<line x1="383.90" y1="238.90" x2="387.50" y2="238.90" stroke="#000" stroke-width="1.0"/>
<text x="381.90" y="240.90" text-anchor="end" style="font-family:'Liberation Serif',serif;font-size:6.3px" textLength="10.80" lengthAdjust="spacingAndGlyphs" stroke="#000" stroke-width="0.15">1000</text>
<line x1="385.70" y1="230.20" x2="387.50" y2="230.20" stroke="#000" stroke-width="0.8"/>
<line x1="385.70" y1="225.11" x2="387.50" y2="225.11" stroke="#000" stroke-width="0.8"/>
<line x1="385.70" y1="221.50" x2="387.50" y2="221.50" stroke="#000" stroke-width="0.8"/>
<line x1="385.70" y1="218.70" x2="387.50" y2="218.70" stroke="#000" stroke-width="0.8"/>
<line x1="385.70" y1="216.41" x2="387.50" y2="216.41" stroke="#000" stroke-width="0.8"/>
<line x1="385.70" y1="214.48" x2="387.50" y2="214.48" stroke="#000" stroke-width="0.8"/>
<line x1="385.70" y1="212.80" x2="387.50" y2="212.80" stroke="#000" stroke-width="0.8"/>
<line x1="385.70" y1="211.32" x2="387.50" y2="211.32" stroke="#000" stroke-width="0.8"/>
<line x1="383.90" y1="210.00" x2="387.50" y2="210.00" stroke="#000" stroke-width="1.0"/>
<text x="381.90" y="212.00" text-anchor="end" style="font-family:'Liberation Serif',serif;font-size:6.3px" textLength="13.50" lengthAdjust="spacingAndGlyphs" stroke="#000" stroke-width="0.15">10000</text>
<line x1="387.80" y1="330.20" x2="387.80" y2="334.00" stroke="#000" stroke-width="0.9"/>
<text x="387.80" y="339.60" text-anchor="middle" style="font-family:'Liberation Serif',serif;font-size:6.3px" stroke="#000" stroke-width="0.15">0</text>
<line x1="393.67" y1="330.20" x2="393.67" y2="332.00" stroke="#000" stroke-width="0.9"/>
<line x1="399.54" y1="330.20" x2="399.54" y2="332.00" stroke="#000" stroke-width="0.9"/>
<line x1="405.41" y1="330.20" x2="405.41" y2="332.00" stroke="#000" stroke-width="0.9"/>
<line x1="411.28" y1="330.20" x2="411.28" y2="334.00" stroke="#000" stroke-width="0.9"/>
<text x="411.28" y="339.60" text-anchor="middle" style="font-family:'Liberation Serif',serif;font-size:6.3px" textLength="8.10" lengthAdjust="spacingAndGlyphs" stroke="#000" stroke-width="0.15">200</text>
<line x1="417.15" y1="330.20" x2="417.15" y2="332.00" stroke="#000" stroke-width="0.9"/>
<line x1="423.02" y1="330.20" x2="423.02" y2="332.00" stroke="#000" stroke-width="0.9"/>
<line x1="428.89" y1="330.20" x2="428.89" y2="332.00" stroke="#000" stroke-width="0.9"/>
<line x1="434.76" y1="330.20" x2="434.76" y2="334.00" stroke="#000" stroke-width="0.9"/>
<text x="434.76" y="339.60" text-anchor="middle" style="font-family:'Liberation Serif',serif;font-size:6.3px" textLength="8.10" lengthAdjust="spacingAndGlyphs" stroke="#000" stroke-width="0.15">400</text>
<line x1="440.63" y1="330.20" x2="440.63" y2="332.00" stroke="#000" stroke-width="0.9"/>
<line x1="446.50" y1="330.20" x2="446.50" y2="332.00" stroke="#000" stroke-width="0.9"/>
<line x1="452.37" y1="330.20" x2="452.37" y2="332.00" stroke="#000" stroke-width="0.9"/>
<line x1="458.24" y1="330.20" x2="458.24" y2="334.00" stroke="#000" stroke-width="0.9"/>
<text x="458.24" y="339.60" text-anchor="middle" style="font-family:'Liberation Serif',serif;font-size:6.3px" textLength="8.10" lengthAdjust="spacingAndGlyphs" stroke="#000" stroke-width="0.15">600</text>
<line x1="464.11" y1="330.20" x2="464.11" y2="332.00" stroke="#000" stroke-width="0.9"/>
<line x1="469.98" y1="330.20" x2="469.98" y2="332.00" stroke="#000" stroke-width="0.9"/>
<line x1="475.85" y1="330.20" x2="475.85" y2="332.00" stroke="#000" stroke-width="0.9"/>
<line x1="481.72" y1="330.20" x2="481.72" y2="334.00" stroke="#000" stroke-width="0.9"/>
<text x="481.72" y="339.60" text-anchor="middle" style="font-family:'Liberation Serif',serif;font-size:6.3px" textLength="8.10" lengthAdjust="spacingAndGlyphs" stroke="#000" stroke-width="0.15">800</text>
<line x1="487.59" y1="330.20" x2="487.59" y2="332.00" stroke="#000" stroke-width="0.9"/>
<line x1="493.46" y1="330.20" x2="493.46" y2="332.00" stroke="#000" stroke-width="0.9"/>
<line x1="499.33" y1="330.20" x2="499.33" y2="332.00" stroke="#000" stroke-width="0.9"/>
<line x1="505.20" y1="330.20" x2="505.20" y2="334.00" stroke="#000" stroke-width="0.9"/>
<text x="505.20" y="339.60" text-anchor="middle" style="font-family:'Liberation Serif',serif;font-size:6.3px" textLength="10.80" lengthAdjust="spacingAndGlyphs" stroke="#000" stroke-width="0.15">1000</text>
<text x="395.90" y="204.00" text-anchor="start" style="font-family:'Liberation Serif',serif;font-size:11.1px" textLength="52.00" lengthAdjust="spacingAndGlyphs" stroke="#000" stroke-width="0.15">GFP - cells</text>
<text x="409.60" y="349.70" text-anchor="start" style="font-family:'Liberation Serif',serif;font-size:7.5px" textLength="75.40" lengthAdjust="spacingAndGlyphs" stroke="#000" stroke-width="0.15">FSC-H: Forward Scatter</text>
<rect x="390.30" y="236.00" width="102.10" height="46.20" fill="none" stroke="#000" stroke-width="0.9"/>
<rect x="390.30" y="284.40" width="102.10" height="44.80" fill="none" stroke="#000" stroke-width="0.9"/>
<text x="472.00" y="243.50" text-anchor="start" style="font-family:'Liberation Serif',serif;font-size:7.4px" textLength="8.50" lengthAdjust="spacingAndGlyphs">1.7</text>
<text x="468.80" y="326.00" text-anchor="start" style="font-family:'Liberation Serif',serif;font-size:7.4px" textLength="13.00" lengthAdjust="spacingAndGlyphs">96.3</text>
<text x="519.20" y="263.50" text-anchor="middle" style="font-family:'Liberation Serif',serif;font-size:7.3px" transform="rotate(-90 519.20 263.50)" textLength="38.50" lengthAdjust="spacingAndGlyphs">FL1-H: GFP</text>
</svg></body></html>
